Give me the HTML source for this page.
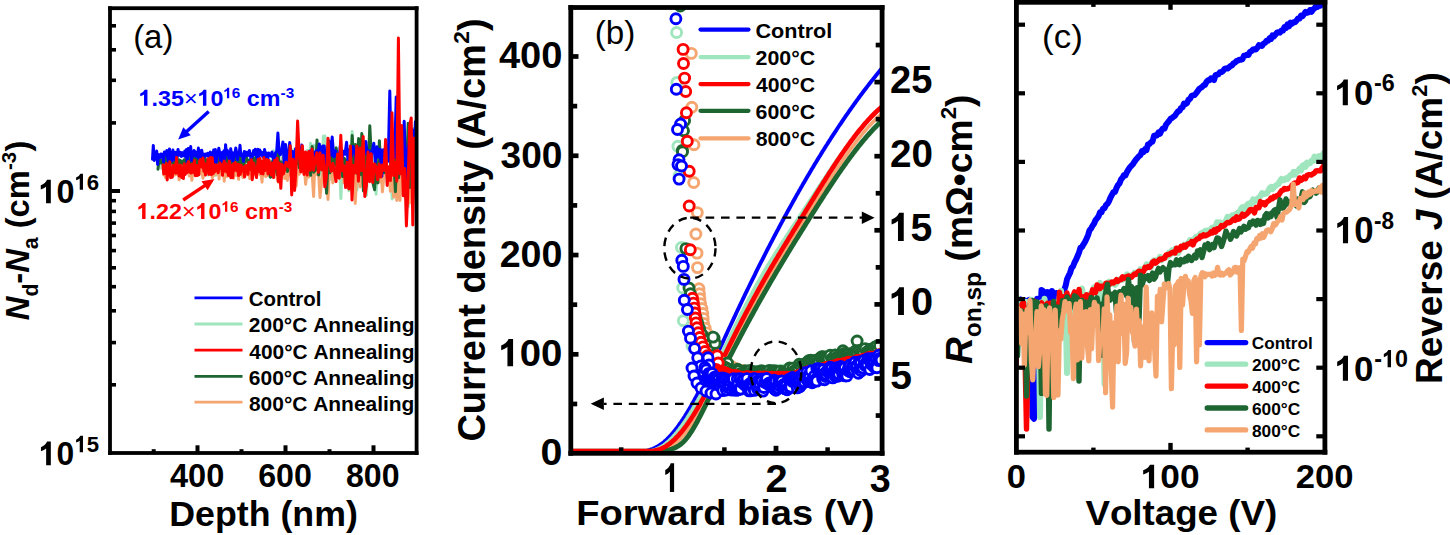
<!DOCTYPE html>
<html><head><meta charset="utf-8"><style>
html,body{margin:0;padding:0;background:#fff;overflow:hidden;}
svg{display:block;}
text{font-family:"Liberation Sans",sans-serif;font-kerning:none;}
</style></head><body>
<svg width="1450" height="535" viewBox="0 0 1450 535">
<rect width="1450" height="535" fill="#fff"/>
<clipPath id="clipA"><rect x="110.0" y="8.2" width="306.6" height="444.8"/></clipPath>
<g clip-path="url(#clipA)">
<polyline points="160.5,160.1 161.3,168.2 162.2,163.7 163.0,166.2 163.9,174.0 164.7,165.6 165.6,166.6 166.4,164.0 167.3,166.9 168.1,169.0 169.0,172.6 169.8,163.1 170.7,169.5 171.5,160.8 172.4,165.8 173.2,167.0 174.1,164.3 174.9,167.3 175.8,161.5 176.6,162.5 177.5,167.1 178.3,160.4 179.2,162.4 180.0,166.5 180.9,162.8 181.7,169.6 182.6,164.3 183.4,160.2 184.3,168.6 185.1,164.5 186.0,169.4 186.8,165.9 187.7,170.5 188.5,163.4 189.4,163.9 190.2,161.3 191.1,166.8 191.9,160.5 192.8,172.8 193.6,164.0 194.5,170.4 195.3,171.5 196.2,160.3 197.0,167.3 197.9,164.9 198.7,174.8 199.6,163.5 200.4,172.9 201.3,162.8 202.1,166.1 203.0,162.8 203.8,167.3 204.7,165.0 205.5,168.1 206.4,166.8 207.2,160.2 208.1,175.1 208.9,164.0 209.8,171.7 210.6,162.4 211.5,168.6 212.3,164.8 213.2,166.8 214.0,165.9 214.9,167.8 215.7,175.3 216.6,162.5 217.4,163.5 218.3,171.7 219.1,170.4 220.0,163.0 220.8,168.1 221.7,163.6 222.5,167.1 223.4,157.7 224.2,167.0 225.1,163.5 225.9,169.1 226.8,162.7 227.6,175.2 228.5,164.3 229.3,168.4 230.2,165.1 231.0,172.5 231.9,161.1 232.7,166.5 233.6,163.3 234.4,167.3 235.3,166.4 236.1,165.3 237.0,167.7 237.8,168.5 238.7,162.1 239.5,169.2 240.4,163.6 241.2,168.5 242.1,162.3 242.9,166.2 243.8,166.0 244.6,173.8 245.5,163.9 246.3,172.3 247.2,161.7 248.0,167.1 248.9,165.7 249.7,167.5 250.6,163.3 251.4,169.4 252.3,161.3 253.1,173.3 254.0,163.8 254.8,168.0 255.7,165.6 256.6,165.1 257.4,169.3 258.3,158.6 259.2,170.2 260.2,165.9 261.1,167.4 262.0,165.2 263.0,168.4 264.0,162.7 265.0,174.8 266.0,167.3 267.0,159.7 268.1,168.7 269.2,159.7 270.2,173.2 271.4,171.2 272.5,160.2 273.6,150.7 274.8,170.6 276.0,163.1 277.2,178.3 278.4,161.9 279.6,176.0 280.9,169.0 282.2,160.7 283.5,148.8 284.8,168.4 286.1,164.4 287.5,170.6 288.9,154.3 290.3,169.0 291.7,177.0 293.2,149.7 294.7,169.1 296.2,160.6 297.7,173.6 299.3,147.6 300.9,172.1 302.5,163.3 304.1,167.8 305.7,161.1 307.3,150.2 308.9,169.9 310.5,143.2 312.1,171.8 313.7,145.1 315.3,168.3 316.9,156.0 318.5,166.5 320.1,154.8 321.7,176.1 323.3,136.3 324.9,136.0 326.5,178.0 328.1,163.6 329.7,179.0 331.3,168.6 332.9,161.2 334.5,173.7 336.1,147.6 337.7,167.1 339.3,157.7 340.9,198.6 342.5,157.5 344.1,181.8 345.7,160.4 347.3,169.6 348.9,190.8 350.5,188.2 352.1,131.6 353.7,166.4 355.3,164.0 356.9,190.0 358.5,173.2 360.1,158.5 361.7,160.8 363.3,178.5 364.9,156.9 366.5,195.2 368.1,149.3 369.7,156.4 371.3,168.1 372.9,176.6 374.5,155.7 376.1,194.3 377.7,158.0 379.3,174.1 380.9,173.0 382.5,159.0 384.1,173.5 385.7,154.8 387.3,183.2 388.9,170.9 390.5,165.1 392.1,199.0 393.7,136.6 395.3,168.6 396.9,159.3 398.5,168.8 400.1,165.0 401.7,170.3 403.3,133.0 404.9,168.1 406.5,186.3 408.1,206.9 409.7,185.3 411.3,171.1 412.9,128.2 414.5,188.2 416.1,120.4 417.7,194.6" fill="none" stroke="#9fe5bd" stroke-width="3.0" stroke-linejoin="round" stroke-linecap="round" />
<polyline points="163.0,167.5 163.8,175.1 164.7,166.8 165.5,177.7 166.4,176.3 167.2,169.8 168.1,172.6 168.9,164.3 169.8,176.1 170.6,169.3 171.5,173.5 172.3,172.5 173.2,169.4 174.0,175.2 174.9,165.1 175.7,174.7 176.6,166.1 177.4,173.1 178.3,169.7 179.1,179.9 180.0,169.5 180.8,172.6 181.7,174.7 182.5,163.6 183.4,174.4 184.2,173.9 185.1,169.6 185.9,165.0 186.8,166.9 187.6,162.5 188.5,172.0 189.3,175.9 190.2,168.2 191.0,174.1 191.9,180.2 192.7,171.2 193.6,169.1 194.4,173.0 195.3,167.2 196.1,173.0 197.0,168.8 197.8,175.4 198.7,164.4 199.5,174.0 200.4,165.4 201.2,173.9 202.1,170.8 202.9,178.2 203.8,171.7 204.6,173.2 205.5,174.8 206.3,168.9 207.2,172.6 208.0,167.6 208.9,173.1 209.7,163.0 210.6,174.2 211.4,166.2 212.3,177.8 213.1,167.5 214.0,175.3 214.8,165.6 215.7,172.7 216.5,169.4 217.4,174.3 218.2,164.8 219.1,179.1 219.9,169.4 220.8,174.5 221.6,170.9 222.5,173.3 223.3,169.0 224.2,181.2 225.0,170.7 225.9,166.9 226.7,176.6 227.6,171.0 228.4,173.8 229.3,171.1 230.1,176.9 231.0,170.3 231.8,176.4 232.7,170.6 233.5,178.3 234.4,170.5 235.2,174.9 236.1,167.2 236.9,175.5 237.8,168.9 238.6,179.3 239.5,167.2 240.3,174.5 241.2,172.2 242.0,170.8 242.9,177.5 243.7,171.6 244.6,167.3 245.4,174.8 246.3,170.8 247.1,174.9 248.0,171.3 248.8,164.7 249.7,178.6 250.5,173.9 251.4,169.8 252.2,168.6 253.1,171.6 253.9,172.1 254.8,169.3 255.6,174.4 256.5,170.2 257.4,169.8 258.3,173.0 259.2,167.6 260.1,174.9 261.0,170.4 262.0,182.2 263.0,167.3 263.9,175.2 264.9,171.3 265.9,176.6 267.0,168.9 268.0,175.6 269.1,173.5 270.2,166.8 271.3,172.5 272.4,170.7 273.5,176.7 274.7,174.2 275.9,161.0 277.1,178.4 278.3,182.2 279.5,170.1 280.8,168.7 282.1,165.6 283.4,157.0 284.7,178.6 286.0,164.1 287.4,180.4 288.8,167.5 290.2,175.1 291.7,158.8 293.1,180.6 294.6,174.6 296.1,186.1 297.6,168.3 299.2,174.3 300.8,171.4 302.4,171.8 304.0,162.0 305.6,184.2 307.2,171.1 308.8,177.0 310.4,169.7 312.0,170.6 313.6,196.5 315.2,153.7 316.8,174.5 318.4,169.9 320.0,197.5 321.6,181.7 323.2,170.4 324.8,178.2 326.4,170.1 328.0,199.4 329.6,165.0 331.2,156.2 332.8,183.0 334.4,163.5 336.0,170.1 337.6,177.6 339.2,166.3 340.8,177.1 342.4,154.0 344.0,182.8 345.6,171.7 347.2,167.5 348.8,185.0 350.4,158.3 352.0,188.3 353.6,165.7 355.2,203.5 356.8,174.8 358.4,140.1 360.0,187.0 361.6,168.8 363.2,186.8 364.8,160.9 366.4,176.9 368.0,160.0 369.6,176.1 371.2,166.2 372.8,180.8 374.4,169.0 376.0,181.6 377.6,162.6 379.2,182.1 380.8,166.0 382.4,191.8 384.0,175.5 385.6,170.0 387.2,174.9 388.8,171.3 390.4,191.3 392.0,161.8 393.6,197.2 395.2,157.1 396.8,200.5 398.4,148.7 400.0,200.5 401.6,133.8 403.2,180.6 404.8,165.2 406.4,187.5 408.0,157.4 409.6,203.0 411.2,153.0 412.8,186.5 414.4,144.1 416.0,189.0 417.6,152.3" fill="none" stroke="#f5a56f" stroke-width="3.0" stroke-linejoin="round" stroke-linecap="round" />
<polyline points="158.0,169.2 158.8,161.3 159.7,159.6 160.5,161.1 161.4,163.2 162.2,159.7 163.1,163.7 163.9,162.8 164.8,154.3 165.6,161.8 166.5,162.6 167.3,155.3 168.2,166.5 169.0,165.7 169.9,159.7 170.7,161.8 171.6,158.0 172.4,163.4 173.3,157.7 174.1,165.6 175.0,155.6 175.8,164.5 176.7,157.2 177.5,163.7 178.4,161.9 179.2,160.0 180.1,163.0 180.9,160.9 181.8,161.5 182.6,163.5 183.5,162.3 184.3,159.7 185.2,163.2 186.0,158.7 186.9,163.7 187.7,158.9 188.6,164.5 189.4,165.5 190.3,154.2 191.1,163.7 192.0,161.3 192.8,158.4 193.7,162.6 194.5,155.0 195.4,164.1 196.2,164.8 197.1,156.6 197.9,167.1 198.8,160.9 199.6,165.3 200.5,159.6 201.3,166.0 202.2,160.4 203.0,166.8 203.9,166.6 204.7,157.7 205.6,168.5 206.4,160.1 207.3,164.2 208.1,160.5 209.0,165.2 209.8,163.7 210.7,156.0 211.5,164.9 212.4,152.8 213.2,164.2 214.1,161.0 214.9,159.8 215.8,169.2 216.6,157.6 217.5,161.8 218.3,157.5 219.2,162.8 220.0,159.6 220.9,162.1 221.7,160.9 222.6,157.0 223.4,163.1 224.3,160.8 225.1,162.7 226.0,164.3 226.8,152.8 227.7,161.4 228.5,162.7 229.4,153.9 230.2,160.0 231.1,169.1 231.9,156.4 232.8,159.3 233.6,161.0 234.5,156.8 235.3,164.6 236.2,152.8 237.0,158.3 237.9,161.9 238.7,152.8 239.6,163.1 240.4,162.2 241.3,154.0 242.1,165.1 243.0,155.8 243.8,169.2 244.7,156.0 245.5,161.3 246.4,156.2 247.2,161.6 248.1,160.1 248.9,167.7 249.8,159.9 250.6,164.8 251.5,160.1 252.3,163.0 253.2,157.3 254.0,164.5 254.9,159.6 255.7,165.3 256.6,152.2 257.5,165.0 258.4,160.2 259.3,164.9 260.2,165.1 261.1,162.7 262.1,163.7 263.1,162.3 264.1,165.1 265.1,167.9 266.1,161.0 267.1,167.3 268.2,164.7 269.2,162.6 270.3,177.2 271.4,176.4 272.5,161.4 273.7,173.2 274.8,160.9 276.0,154.3 277.2,174.7 278.4,150.3 279.7,180.5 280.9,162.1 282.2,173.7 283.5,171.8 284.9,149.7 286.2,162.9 287.6,171.4 289.0,160.9 290.4,164.3 291.8,162.4 293.3,172.1 294.8,153.8 296.3,163.9 297.8,152.5 299.4,167.9 301.0,157.9 302.6,163.2 304.2,162.4 305.8,162.7 307.4,167.6 309.0,163.4 310.6,175.3 312.2,146.6 313.8,172.2 315.4,170.1 317.0,139.9 318.6,174.9 320.2,147.8 321.8,164.6 323.4,157.3 325.0,167.7 326.6,193.3 328.2,158.0 329.8,172.8 331.4,151.7 333.0,170.4 334.6,164.6 336.2,148.1 337.8,160.8 339.4,169.7 341.0,157.9 342.6,176.6 344.2,158.3 345.8,160.4 347.4,167.8 349.0,160.0 350.6,171.0 352.2,135.6 353.8,164.7 355.4,144.6 357.0,173.4 358.6,138.5 360.2,174.7 361.8,133.6 363.4,190.9 365.0,166.7 366.6,154.2 368.2,168.4 369.8,125.7 371.4,158.3 373.0,183.1 374.6,189.7 376.2,162.8 377.8,183.0 379.4,140.8 381.0,171.0 382.6,151.1 384.2,172.7 385.8,150.9 387.4,149.5 389.0,150.2 390.6,164.1 392.2,154.8 393.8,158.4 395.4,191.7 397.0,150.9 398.6,177.7 400.2,144.3 401.8,149.8 403.4,167.7 405.0,142.6 406.6,165.5 408.2,123.3 409.8,187.5 411.4,135.3 413.0,178.9 414.6,147.4 416.2,199.5 417.8,119.9" fill="none" stroke="#1d6531" stroke-width="3.0" stroke-linejoin="round" stroke-linecap="round" />
<polyline points="152.5,159.2 153.3,145.4 154.2,160.4 155.0,152.7 155.9,158.8 156.7,151.1 157.6,164.5 158.4,154.4 159.3,156.4 160.1,157.7 161.0,154.0 161.8,156.5 162.7,154.2 163.5,162.1 164.4,151.9 165.2,154.8 166.1,154.5 166.9,150.4 167.8,158.5 168.6,161.8 169.5,148.9 170.3,159.6 171.2,152.4 172.0,161.0 172.9,150.1 173.7,153.9 174.6,159.5 175.4,152.3 176.3,161.4 177.1,156.7 178.0,149.4 178.8,153.5 179.7,155.2 180.5,152.4 181.4,156.4 182.2,152.6 183.1,155.6 183.9,155.8 184.8,151.0 185.6,157.1 186.5,149.4 187.3,163.3 188.2,148.6 189.0,153.5 189.9,155.0 190.7,146.6 191.6,160.6 192.4,152.3 193.3,154.6 194.1,150.4 195.0,155.9 195.8,152.1 196.7,154.0 197.5,157.1 198.4,148.1 199.2,159.0 200.1,150.8 200.9,158.7 201.8,150.3 202.6,158.5 203.5,157.6 204.3,154.1 205.2,156.2 206.0,154.1 206.9,155.7 207.7,153.3 208.6,156.2 209.4,153.8 210.3,152.0 211.1,162.5 212.0,153.9 212.8,155.7 213.7,150.0 214.5,161.5 215.4,149.5 216.2,162.4 217.1,152.5 217.9,155.2 218.8,148.3 219.6,152.4 220.5,162.3 221.3,161.9 222.2,152.6 223.0,155.4 223.9,150.7 224.7,160.2 225.6,144.7 226.4,154.7 227.3,150.2 228.1,153.6 229.0,158.2 229.8,161.7 230.7,148.7 231.5,154.3 232.4,152.6 233.2,161.0 234.1,155.4 234.9,153.0 235.8,147.9 236.6,152.5 237.5,159.8 238.3,152.9 239.2,154.2 240.0,145.3 240.9,155.5 241.7,155.7 242.6,154.3 243.4,161.3 244.3,151.5 245.1,156.4 246.0,152.2 246.8,155.3 247.7,152.2 248.5,155.4 249.4,150.4 250.2,154.1 251.1,159.5 251.9,153.9 252.8,156.1 253.6,150.5 254.5,154.6 255.3,149.2 256.2,150.2 257.1,158.1 258.0,149.3 258.9,157.2 259.8,150.0 260.7,154.8 261.6,152.1 262.6,156.5 263.6,157.2 264.6,149.5 265.6,159.7 266.6,152.9 267.7,159.3 268.7,152.9 269.8,155.2 270.9,156.2 272.0,152.0 273.1,157.5 274.3,162.7 275.5,152.9 276.7,151.4 277.9,133.0 279.1,152.4 280.4,154.7 281.6,150.3 282.9,141.9 284.2,163.2 285.6,144.4 286.9,163.9 288.3,155.9 289.7,142.6 291.1,155.5 292.6,151.5 294.1,167.2 295.6,148.7 297.1,155.3 298.7,152.8 300.2,159.8 301.8,145.1 303.4,164.6 305.0,159.7 306.6,157.1 308.2,153.7 309.8,151.1 311.4,157.0 313.0,152.0 314.6,155.2 316.2,150.8 317.8,154.2 319.4,144.0 321.0,163.5 322.6,146.1 324.2,146.0 325.8,163.9 327.4,151.5 329.0,141.1 330.6,155.6 332.2,137.0 333.8,157.0 335.4,150.8 337.0,155.6 338.6,165.3 340.2,146.5 341.8,159.8 343.4,151.2 345.0,154.3 346.6,142.3 348.2,163.6 349.8,149.6 351.4,156.6 353.0,146.6 354.6,149.8 356.2,161.9 357.8,147.9 359.4,165.5 361.0,155.6 362.6,152.0 364.2,153.6 365.8,141.5 367.4,154.7 369.0,150.7 370.6,157.1 372.2,152.2 373.8,143.2 375.4,162.2 377.0,146.8 378.6,157.1 380.2,149.2 381.8,176.3 383.4,149.7 385.0,167.0 386.6,147.2 388.2,161.2 389.8,91.0 391.4,168.4 393.0,136.6 394.6,157.6 396.2,97.0 397.8,162.8 399.4,151.6 401.0,160.3 402.6,156.3 404.2,121.2 405.8,180.5 407.4,151.8 409.0,144.1 410.6,153.1 412.2,129.5 413.8,158.9 415.4,121.8 417.0,130.8" fill="none" stroke="#0000ff" stroke-width="3.0" stroke-linejoin="round" stroke-linecap="round" />
<polyline points="163.0,164.9 163.8,173.9 164.7,166.2 165.5,173.3 166.4,163.6 167.2,180.0 168.1,166.2 168.9,170.1 169.8,161.7 170.6,177.8 171.5,168.1 172.3,177.2 173.2,165.4 174.0,172.2 174.9,164.8 175.7,173.3 176.6,157.4 177.4,172.8 178.3,166.7 179.1,175.9 180.0,165.0 180.8,165.5 181.7,177.6 182.5,168.2 183.4,178.6 184.2,163.7 185.1,174.6 185.9,171.4 186.8,172.8 187.6,163.9 188.5,161.6 189.3,171.9 190.2,168.4 191.0,173.0 191.9,164.2 192.7,167.4 193.6,172.4 194.4,160.4 195.3,175.7 196.1,165.4 197.0,175.6 197.8,165.6 198.7,174.8 199.5,161.7 200.4,159.6 201.2,164.9 202.1,167.1 202.9,157.9 203.8,171.2 204.6,163.6 205.5,175.1 206.3,166.6 207.2,171.2 208.0,158.7 208.9,174.4 209.7,171.3 210.6,157.4 211.4,174.7 212.3,157.8 213.1,173.5 214.0,164.5 214.8,171.8 215.7,170.4 216.5,165.1 217.4,167.5 218.2,172.8 219.1,168.0 219.9,163.0 220.8,165.7 221.6,165.3 222.5,175.3 223.3,166.3 224.2,161.1 225.0,171.1 225.9,163.7 226.7,172.0 227.6,166.8 228.4,175.4 229.3,160.9 230.1,171.3 231.0,177.7 231.8,165.2 232.7,177.6 233.5,163.9 234.4,170.3 235.2,162.6 236.1,166.5 236.9,170.7 237.8,164.2 238.6,175.6 239.5,164.7 240.3,174.3 241.2,165.3 242.0,170.7 242.9,167.2 243.7,171.1 244.6,177.0 245.4,165.7 246.3,169.1 247.1,165.4 248.0,174.3 248.8,162.6 249.7,167.1 250.5,169.2 251.4,159.8 252.2,179.8 253.1,173.6 253.9,163.1 254.8,170.8 255.6,169.9 256.5,177.5 257.4,167.5 258.3,159.2 259.2,171.5 260.1,158.5 261.0,173.5 262.0,161.5 263.0,174.0 263.9,157.6 264.9,170.4 265.9,169.7 267.0,159.6 268.0,174.0 269.1,160.5 270.2,168.1 271.3,175.1 272.4,163.0 273.5,177.6 274.7,160.3 275.9,168.0 277.1,158.3 278.3,181.4 279.5,163.3 280.8,188.3 282.1,164.5 283.4,173.9 284.7,170.0 286.0,162.2 287.4,164.9 288.8,167.1 290.2,145.7 291.7,195.0 293.1,159.2 294.6,190.5 296.1,165.8 297.6,121.0 299.2,154.3 300.8,171.8 302.4,145.8 304.0,174.4 305.6,151.9 307.2,175.1 308.8,151.5 310.4,170.3 312.0,149.1 313.6,170.2 315.2,159.8 316.8,152.8 318.4,172.3 320.0,152.8 321.6,169.9 323.2,155.3 324.8,186.8 326.4,176.9 328.0,138.2 329.6,164.0 331.2,171.2 332.8,163.3 334.4,170.8 336.0,181.6 337.6,154.0 339.2,178.2 340.8,135.3 342.4,170.9 344.0,165.9 345.6,187.6 347.2,162.3 348.8,189.0 350.4,145.9 352.0,200.0 353.6,165.6 355.2,172.7 356.8,146.1 358.4,181.3 360.0,147.9 361.6,170.4 363.2,136.5 364.8,196.4 366.4,185.9 368.0,151.9 369.6,181.7 371.2,153.8 372.8,182.4 374.4,164.0 376.0,166.9 377.6,179.8 379.2,163.9 380.8,177.1 382.4,164.9 384.0,170.4 385.6,139.5 387.2,185.4 388.8,166.7 390.4,180.6 392.0,112.7 393.6,175.6 395.2,162.6 396.8,181.2 398.4,38.0 400.0,173.9 401.6,125.4 403.2,195.8 404.8,168.4 406.4,226.0 408.0,187.6 409.6,126.0 411.2,118.0 412.8,225.0 414.4,138.0 416.0,180.2 417.6,139.6" fill="none" stroke="#ff0000" stroke-width="3.0" stroke-linejoin="round" stroke-linecap="round" />
</g>
<rect x="108.10" y="6.30" width="310.40" height="3.80" fill="#000"/>
<rect x="108.10" y="451.10" width="310.40" height="3.80" fill="#000"/>
<rect x="108.10" y="6.30" width="3.80" height="448.60" fill="#000"/>
<rect x="414.70" y="6.30" width="3.80" height="448.60" fill="#000"/>
<rect x="110.00" y="189.00" width="10.00" height="4.00" fill="#000"/>
<rect x="110.00" y="24.00" width="6.00" height="3.60" fill="#000"/>
<rect x="110.00" y="48.00" width="6.00" height="3.60" fill="#000"/>
<rect x="110.00" y="78.50" width="6.00" height="3.60" fill="#000"/>
<rect x="110.00" y="121.10" width="6.00" height="3.60" fill="#000"/>
<rect x="110.00" y="198.90" width="6.00" height="3.60" fill="#000"/>
<rect x="110.00" y="209.60" width="6.00" height="3.60" fill="#000"/>
<rect x="110.00" y="221.30" width="6.00" height="3.60" fill="#000"/>
<rect x="110.00" y="233.70" width="6.00" height="3.60" fill="#000"/>
<rect x="110.00" y="248.80" width="6.00" height="3.60" fill="#000"/>
<rect x="110.00" y="266.00" width="6.00" height="3.60" fill="#000"/>
<rect x="110.00" y="284.90" width="6.00" height="3.60" fill="#000"/>
<rect x="110.00" y="309.00" width="6.00" height="3.60" fill="#000"/>
<rect x="110.00" y="340.80" width="6.00" height="3.60" fill="#000"/>
<rect x="110.00" y="383.00" width="6.00" height="3.60" fill="#000"/>
<rect x="195.50" y="445.30" width="4.00" height="7.70" fill="#000"/>
<rect x="283.50" y="445.30" width="4.00" height="7.70" fill="#000"/>
<rect x="371.50" y="445.30" width="4.00" height="7.70" fill="#000"/>
<rect x="151.70" y="449.20" width="4.00" height="3.80" fill="#000"/>
<rect x="239.50" y="449.20" width="4.00" height="3.80" fill="#000"/>
<rect x="327.50" y="449.20" width="4.00" height="3.80" fill="#000"/>
<text transform="translate(38.49,203.37) scale(0.9800,1)" fill="#000" ><tspan x="18.37" y="0.00" font-size="33.10" font-weight="bold">0</tspan></text><g transform="translate(38.49,203.37) scale(0.9800,1)" fill="#000"><path transform="translate(0.00,0.00) scale(33.099)" d="M0.38,0 L0.38,-0.716 L0.262,-0.716 Q0.215,-0.60 0.07,-0.545 L0.07,-0.418 Q0.17,-0.452 0.233,-0.505 L0.233,0 Z"/></g>
<text transform="translate(74.56,189.77) scale(0.9842,1)" fill="#000" ><tspan x="12.51" y="0.00" font-size="22.54" font-weight="bold">6</tspan></text><g transform="translate(74.56,189.77) scale(0.9842,1)" fill="#000"><path transform="translate(0.00,0.00) scale(22.535)" d="M0.38,0 L0.38,-0.716 L0.262,-0.716 Q0.215,-0.60 0.07,-0.545 L0.07,-0.418 Q0.17,-0.452 0.233,-0.505 L0.233,0 Z"/></g>
<text transform="translate(38.73,465.17) scale(0.9620,1)" fill="#000" ><tspan x="18.37" y="0.00" font-size="33.10" font-weight="bold">0</tspan></text><g transform="translate(38.73,465.17) scale(0.9620,1)" fill="#000"><path transform="translate(0.00,0.00) scale(33.099)" d="M0.38,0 L0.38,-0.716 L0.262,-0.716 Q0.215,-0.60 0.07,-0.545 L0.07,-0.418 Q0.17,-0.452 0.233,-0.505 L0.233,0 Z"/></g>
<text transform="translate(74.56,452.17) scale(0.9694,1)" fill="#000" ><tspan x="12.69" y="0.00" font-size="22.86" font-weight="bold">5</tspan></text><g transform="translate(74.56,452.17) scale(0.9694,1)" fill="#000"><path transform="translate(0.00,0.00) scale(22.857)" d="M0.38,0 L0.38,-0.716 L0.262,-0.716 Q0.215,-0.60 0.07,-0.545 L0.07,-0.418 Q0.17,-0.452 0.233,-0.505 L0.233,0 Z"/></g>
<text transform="translate(170.01,487.47) scale(0.9875,1)" fill="#000" ><tspan x="0.00" y="0.00" font-size="32.96" font-weight="bold">400</tspan></text>
<text transform="translate(258.17,487.47) scale(0.9770,1)" fill="#000" ><tspan x="0.00" y="0.00" font-size="32.96" font-weight="bold">600</tspan></text>
<text transform="translate(345.94,487.47) scale(0.9740,1)" fill="#000" ><tspan x="0.00" y="0.00" font-size="32.96" font-weight="bold">800</tspan></text>
<text transform="translate(169.28,526.20) scale(1.0300,1)" fill="#000" ><tspan x="0.00" y="0.00" font-size="34.70" font-weight="bold">Depth (nm)</tspan></text>
<text transform="translate(133.13,47.71) scale(0.9894,1)" fill="#000" ><tspan x="0.00" y="0.00" font-size="33.26" >(a)</tspan></text>
<text transform="translate(29.40,320.15) rotate(-90) scale(0.9798,1)" fill="#000" ><tspan x="0.00" y="0.00" font-size="33.40" font-weight="bold" font-style="italic">N</tspan><tspan x="24.05" y="8.68" font-size="21.71" font-weight="bold">d</tspan><tspan x="37.24" y="0.00" font-size="33.40" font-weight="bold">-</tspan><tspan x="48.43" y="0.00" font-size="33.40" font-weight="bold" font-style="italic">N</tspan><tspan x="72.48" y="8.68" font-size="21.71" font-weight="bold">a</tspan><tspan x="84.50" y="0.00" font-size="33.40" font-weight="bold"> (cm</tspan><tspan x="153.31" y="-13.69" font-size="20.88" font-weight="bold">-3</tspan><tspan x="172.01" y="0.00" font-size="33.40" font-weight="bold">)</tspan></text>
<text transform="translate(138.59,105.68) scale(1.0409,1)" fill="#0000ff" ><tspan x="12.42" y="0.00" font-size="22.38" font-weight="bold">.35</tspan><tspan x="43.52" y="0.00" font-size="22.38" >×</tspan><tspan x="69.03" y="0.00" font-size="22.38" font-weight="bold">0</tspan><tspan x="89.61" y="-7.38" font-size="14.77" font-weight="bold">6</tspan><tspan x="97.78" y="0.00" font-size="22.38" font-weight="bold"> cm</tspan><tspan x="136.38" y="-7.38" font-size="14.77" font-weight="bold">-3</tspan></text><g transform="translate(138.59,105.68) scale(1.0409,1)" fill="#0000ff"><path transform="translate(0.00,0.00) scale(22.375)" d="M0.38,0 L0.38,-0.716 L0.262,-0.716 Q0.215,-0.60 0.07,-0.545 L0.07,-0.418 Q0.17,-0.452 0.233,-0.505 L0.233,0 Z"/><path transform="translate(56.61,0.00) scale(22.375)" d="M0.38,0 L0.38,-0.716 L0.262,-0.716 Q0.215,-0.60 0.07,-0.545 L0.07,-0.418 Q0.17,-0.452 0.233,-0.505 L0.233,0 Z"/><path transform="translate(81.45,-7.38) scale(14.768)" d="M0.38,0 L0.38,-0.716 L0.262,-0.716 Q0.215,-0.60 0.07,-0.545 L0.07,-0.418 Q0.17,-0.452 0.233,-0.505 L0.233,0 Z"/></g>
<text transform="translate(136.69,219.08) scale(1.0409,1)" fill="#ff0000" ><tspan x="12.42" y="0.00" font-size="22.38" font-weight="bold">.22</tspan><tspan x="43.52" y="0.00" font-size="22.38" >×</tspan><tspan x="69.03" y="0.00" font-size="22.38" font-weight="bold">0</tspan><tspan x="89.61" y="-7.38" font-size="14.77" font-weight="bold">6</tspan><tspan x="97.78" y="0.00" font-size="22.38" font-weight="bold"> cm</tspan><tspan x="136.38" y="-7.38" font-size="14.77" font-weight="bold">-3</tspan></text><g transform="translate(136.69,219.08) scale(1.0409,1)" fill="#ff0000"><path transform="translate(0.00,0.00) scale(22.375)" d="M0.38,0 L0.38,-0.716 L0.262,-0.716 Q0.215,-0.60 0.07,-0.545 L0.07,-0.418 Q0.17,-0.452 0.233,-0.505 L0.233,0 Z"/><path transform="translate(56.61,0.00) scale(22.375)" d="M0.38,0 L0.38,-0.716 L0.262,-0.716 Q0.215,-0.60 0.07,-0.545 L0.07,-0.418 Q0.17,-0.452 0.233,-0.505 L0.233,0 Z"/><path transform="translate(81.45,-7.38) scale(14.768)" d="M0.38,0 L0.38,-0.716 L0.262,-0.716 Q0.215,-0.60 0.07,-0.545 L0.07,-0.418 Q0.17,-0.452 0.233,-0.505 L0.233,0 Z"/></g>
<line x1="208.7" y1="111.4" x2="185.6" y2="132.6" stroke="#0000ff" stroke-width="3.4"/>
<polygon points="178.2,139.4 183.3,127.2 190.8,135.3" fill="#0000ff"/>
<line x1="183.2" y1="200.0" x2="206.2" y2="184.7" stroke="#ff0000" stroke-width="3.4"/>
<polygon points="214.5,179.1 207.6,190.3 201.5,181.2" fill="#ff0000"/>
<line x1="194.50" y1="297.80" x2="242.50" y2="297.80" stroke="#0000ff" stroke-width="2.8" />
<text transform="translate(248.78,306.20) scale(0.9792,1)" fill="#000" ><tspan x="0.00" y="0.00" font-size="20.90" font-weight="bold">Control</tspan></text>
<line x1="194.50" y1="324.00" x2="242.50" y2="324.00" stroke="#9fe5bd" stroke-width="2.8" />
<text transform="translate(248.87,332.40) scale(1.0030,1)" fill="#000" ><tspan x="0.00" y="0.00" font-size="20.90" font-weight="bold">200°C Annealing</tspan></text>
<line x1="194.50" y1="350.10" x2="242.50" y2="350.10" stroke="#ff0000" stroke-width="2.8" />
<text transform="translate(249.29,358.50) scale(1.0004,1)" fill="#000" ><tspan x="0.00" y="0.00" font-size="20.90" font-weight="bold">400°C Annealing</tspan></text>
<line x1="194.50" y1="376.30" x2="242.50" y2="376.30" stroke="#1d6531" stroke-width="2.8" />
<text transform="translate(248.87,384.70) scale(1.0030,1)" fill="#000" ><tspan x="0.00" y="0.00" font-size="20.90" font-weight="bold">600°C Annealing</tspan></text>
<line x1="194.50" y1="402.20" x2="242.50" y2="402.20" stroke="#f5a56f" stroke-width="2.8" />
<text transform="translate(248.97,410.60) scale(1.0023,1)" fill="#000" ><tspan x="0.00" y="0.00" font-size="20.90" font-weight="bold">800°C Annealing</tspan></text>
<clipPath id="clipB"><rect x="570.8" y="7.5" width="311.30000000000007" height="445.8"/></clipPath>
<g clip-path="url(#clipB)">
<polyline points="571.0,451.2 647.0,450.6 648.0,450.4 649.0,450.1 650.0,449.8 651.0,449.4 652.0,449.1 653.0,448.7 654.0,448.2 655.0,447.8 656.0,447.3 657.0,446.7 658.0,446.2 659.0,445.5 660.0,444.9 661.0,444.2 662.0,443.5 663.0,442.7 664.0,441.9 665.0,441.0 666.0,440.1 667.0,439.2 668.0,438.2 669.0,437.2 670.0,436.1 671.0,435.0 672.0,433.9 673.0,432.7 674.0,431.5 675.0,430.3 676.0,429.0 677.0,427.7 678.0,426.3 679.0,424.9 680.0,423.5 681.0,422.1 682.0,420.6 683.0,419.1 684.0,417.5 685.0,416.0 686.0,414.4 687.0,412.7 688.0,411.1 689.0,409.4 690.0,407.7 691.0,406.0 692.0,404.2 693.0,402.4 694.0,400.6 695.0,398.8 696.0,397.0 697.0,395.1 698.0,393.2 699.0,391.3 700.0,389.4 701.0,387.4 702.0,385.5 703.0,383.5 704.0,381.5 705.0,379.5 706.0,377.5 707.0,375.5 708.0,373.4 709.0,371.4 710.0,369.3 711.0,367.2 712.0,365.1 713.0,363.0 714.0,360.9 715.0,358.8 716.0,356.7 717.0,354.5 718.0,352.4 719.0,350.2 720.0,348.1 721.0,345.9 722.0,343.8 723.0,341.6 724.0,339.5 725.0,337.3 726.0,335.1 727.0,333.0 728.0,330.8 729.0,328.7 730.0,326.5 731.0,324.4 732.0,322.2 733.0,320.1 734.0,317.9 735.0,315.8 736.0,313.7 737.0,311.5 738.0,309.4 739.0,307.3 740.0,305.2 741.0,303.1 742.0,301.0 743.0,298.9 744.0,296.8 745.0,294.7 746.0,292.7 747.0,290.6 748.0,288.5 749.0,286.5 750.0,284.4 751.0,282.4 752.0,280.3 753.0,278.3 754.0,276.3 755.0,274.3 756.0,272.2 757.0,270.2 758.0,268.2 759.0,266.2 760.0,264.2 761.0,262.2 762.0,260.3 763.0,258.3 764.0,256.3 765.0,254.4 766.0,252.4 767.0,250.4 768.0,248.5 769.0,246.6 770.0,244.6 771.0,242.7 772.0,240.8 773.0,238.8 774.0,236.9 775.0,235.0 776.0,233.1 777.0,231.2 778.0,229.4 779.0,227.5 780.0,225.6 781.0,223.7 782.0,221.9 783.0,220.0 784.0,218.2 785.0,216.3 786.0,214.5 787.0,212.6 788.0,210.8 789.0,209.0 790.0,207.2 791.0,205.4 792.0,203.6 793.0,201.8 794.0,200.0 795.0,198.2 796.0,196.4 797.0,194.6 798.0,192.9 799.0,191.1 800.0,189.4 801.0,187.6 802.0,185.9 803.0,184.1 804.0,182.4 805.0,180.7 806.0,179.0 807.0,177.3 808.0,175.6 809.0,173.9 810.0,172.2 811.0,170.5 812.0,168.8 813.0,167.2 814.0,165.5 815.0,163.8 816.0,162.2 817.0,160.5 818.0,158.9 819.0,157.3 820.0,155.7 821.0,154.0 822.0,152.4 823.0,150.8 824.0,149.2 825.0,147.6 826.0,146.0 827.0,144.5 828.0,142.9 829.0,141.3 830.0,139.8 831.0,138.2 832.0,136.7 833.0,135.1 834.0,133.6 835.0,132.1 836.0,130.6 837.0,129.0 838.0,127.5 839.0,126.0 840.0,124.5 841.0,123.1 842.0,121.6 843.0,120.1 844.0,118.6 845.0,117.2 846.0,115.7 847.0,114.3 848.0,112.9 849.0,111.4 850.0,110.0 851.0,108.6 852.0,107.2 853.0,105.8 854.0,104.4 855.0,103.0 856.0,101.6 857.0,100.2 858.0,98.9 859.0,97.5 860.0,96.1 861.0,94.8 862.0,93.5 863.0,92.1 864.0,90.8 865.0,89.5 866.0,88.2 867.0,86.9 868.0,85.6 869.0,84.3 870.0,83.0 871.0,81.7 872.0,80.4 873.0,79.2 874.0,77.9 875.0,76.7 876.0,75.4 877.0,74.2 878.0,73.0 879.0,71.8 880.0,70.5 881.0,69.3" fill="none" stroke="#0000ff" stroke-width="3.9" stroke-linejoin="round" stroke-linecap="round" stroke-linecap="butt"/>
<polyline points="571.0,451.2 650.0,451.0 651.0,450.8 652.0,450.6 653.0,450.3 654.0,450.0 655.0,449.7 656.0,449.3 657.0,448.9 658.0,448.5 659.0,448.0 660.0,447.5 661.0,446.9 662.0,446.3 663.0,445.7 664.0,445.0 665.0,444.2 666.0,443.4 667.0,442.6 668.0,441.7 669.0,440.8 670.0,439.8 671.0,438.8 672.0,437.8 673.0,436.7 674.0,435.6 675.0,434.5 676.0,433.3 677.0,432.1 678.0,430.8 679.0,429.6 680.0,428.2 681.0,426.9 682.0,425.5 683.0,424.1 684.0,422.7 685.0,421.2 686.0,419.7 687.0,418.2 688.0,416.6 689.0,415.1 690.0,413.5 691.0,411.8 692.0,410.2 693.0,408.5 694.0,406.8 695.0,405.1 696.0,403.4 697.0,401.6 698.0,399.9 699.0,398.1 700.0,396.3 701.0,394.5 702.0,392.6 703.0,390.8 704.0,388.9 705.0,387.0 706.0,385.1 707.0,383.2 708.0,381.3 709.0,379.3 710.0,377.4 711.0,375.4 712.0,373.4 713.0,371.5 714.0,369.5 715.0,367.5 716.0,365.5 717.0,363.5 718.0,361.4 719.0,359.4 720.0,357.4 721.0,355.3 722.0,353.3 723.0,351.3 724.0,349.2 725.0,347.2 726.0,345.1 727.0,343.1 728.0,341.0 729.0,339.0 730.0,336.9 731.0,334.9 732.0,332.8 733.0,330.8 734.0,328.7 735.0,326.7 736.0,324.7 737.0,322.6 738.0,320.6 739.0,318.6 740.0,316.6 741.0,314.6 742.0,312.6 743.0,310.6 744.0,308.6 745.0,306.7 746.0,304.7 747.0,302.8 748.0,300.9 749.0,298.9 750.0,297.0 751.0,295.2 752.0,293.3 753.0,291.4 754.0,289.6 755.0,287.8 756.0,286.0 757.0,284.2 758.0,282.4 759.0,280.6 760.0,278.9 761.0,277.1 762.0,275.4 763.0,273.7 764.0,272.0 765.0,270.3 766.0,268.6 767.0,267.0 768.0,265.3 769.0,263.7 770.0,262.0 771.0,260.4 772.0,258.8 773.0,257.2 774.0,255.6 775.0,254.0 776.0,252.4 777.0,250.8 778.0,249.3 779.0,247.7 780.0,246.2 781.0,244.6 782.0,243.1 783.0,241.5 784.0,240.0 785.0,238.5 786.0,236.9 787.0,235.4 788.0,233.9 789.0,232.4 790.0,230.9 791.0,229.4 792.0,227.8 793.0,226.3 794.0,224.8 795.0,223.3 796.0,221.8 797.0,220.3 798.0,218.8 799.0,217.2 800.0,215.7 801.0,214.2 802.0,212.7 803.0,211.2 804.0,209.6 805.0,208.1 806.0,206.6 807.0,205.1 808.0,203.5 809.0,202.0 810.0,200.5 811.0,199.0 812.0,197.4 813.0,195.9 814.0,194.4 815.0,192.9 816.0,191.3 817.0,189.8 818.0,188.3 819.0,186.8 820.0,185.3 821.0,183.8 822.0,182.3 823.0,180.7 824.0,179.3 825.0,177.8 826.0,176.3 827.0,174.8 828.0,173.3 829.0,171.8 830.0,170.3 831.0,168.9 832.0,167.4 833.0,166.0 834.0,164.5 835.0,163.1 836.0,161.6 837.0,160.2 838.0,158.8 839.0,157.4 840.0,155.9 841.0,154.5 842.0,153.1 843.0,151.8 844.0,150.4 845.0,149.0 846.0,147.7 847.0,146.3 848.0,145.0 849.0,143.6 850.0,142.3 851.0,141.0 852.0,139.7 853.0,138.4 854.0,137.1 855.0,135.9 856.0,134.6 857.0,133.4 858.0,132.1 859.0,130.9 860.0,129.7 861.0,128.5 862.0,127.3 863.0,126.2 864.0,125.0 865.0,123.9 866.0,122.7 867.0,121.6 868.0,120.5 869.0,119.4 870.0,118.4 871.0,117.3 872.0,116.3 873.0,115.2 874.0,114.2 875.0,113.2 876.0,112.3 877.0,111.3 878.0,110.4 879.0,109.4 880.0,108.5 881.0,107.6" fill="none" stroke="#9fe5bd" stroke-width="3.8" stroke-linejoin="round" stroke-linecap="round" stroke-linecap="butt"/>
<polyline points="571.0,451.2 657.0,451.2 658.0,451.1 659.0,450.9 660.0,450.7 661.0,450.4 662.0,450.2 663.0,449.9 664.0,449.6 665.0,449.2 666.0,448.8 667.0,448.4 668.0,447.9 669.0,447.3 670.0,446.8 671.0,446.2 672.0,445.5 673.0,444.8 674.0,444.1 675.0,443.3 676.0,442.5 677.0,441.7 678.0,440.8 679.0,439.8 680.0,438.9 681.0,437.9 682.0,436.8 683.0,435.8 684.0,434.6 685.0,433.5 686.0,432.3 687.0,431.1 688.0,429.8 689.0,428.5 690.0,427.2 691.0,425.8 692.0,424.4 693.0,423.0 694.0,421.5 695.0,420.0 696.0,418.5 697.0,416.9 698.0,415.4 699.0,413.7 700.0,412.1 701.0,410.4 702.0,408.7 703.0,406.9 704.0,405.2 705.0,403.4 706.0,401.5 707.0,399.7 708.0,397.8 709.0,395.9 710.0,393.9 711.0,392.0 712.0,390.0 713.0,388.0 714.0,386.0 715.0,384.0 716.0,381.9 717.0,379.9 718.0,377.8 719.0,375.7 720.0,373.7 721.0,371.6 722.0,369.5 723.0,367.4 724.0,365.3 725.0,363.2 726.0,361.1 727.0,359.0 728.0,356.9 729.0,354.8 730.0,352.7 731.0,350.6 732.0,348.5 733.0,346.5 734.0,344.4 735.0,342.4 736.0,340.3 737.0,338.3 738.0,336.3 739.0,334.3 740.0,332.3 741.0,330.3 742.0,328.3 743.0,326.3 744.0,324.3 745.0,322.3 746.0,320.4 747.0,318.4 748.0,316.5 749.0,314.6 750.0,312.7 751.0,310.8 752.0,308.9 753.0,307.0 754.0,305.1 755.0,303.2 756.0,301.3 757.0,299.5 758.0,297.7 759.0,295.8 760.0,294.0 761.0,292.2 762.0,290.4 763.0,288.6 764.0,286.8 765.0,285.0 766.0,283.3 767.0,281.5 768.0,279.8 769.0,278.0 770.0,276.3 771.0,274.6 772.0,272.9 773.0,271.2 774.0,269.5 775.0,267.8 776.0,266.1 777.0,264.5 778.0,262.8 779.0,261.1 780.0,259.5 781.0,257.8 782.0,256.2 783.0,254.5 784.0,252.9 785.0,251.3 786.0,249.7 787.0,248.0 788.0,246.4 789.0,244.8 790.0,243.2 791.0,241.6 792.0,240.0 793.0,238.4 794.0,236.8 795.0,235.2 796.0,233.6 797.0,232.0 798.0,230.4 799.0,228.8 800.0,227.2 801.0,225.6 802.0,224.0 803.0,222.4 804.0,220.8 805.0,219.2 806.0,217.6 807.0,216.0 808.0,214.4 809.0,212.8 810.0,211.2 811.0,209.6 812.0,208.0 813.0,206.4 814.0,204.8 815.0,203.2 816.0,201.6 817.0,200.0 818.0,198.4 819.0,196.8 820.0,195.3 821.0,193.7 822.0,192.1 823.0,190.5 824.0,188.9 825.0,187.3 826.0,185.8 827.0,184.2 828.0,182.6 829.0,181.1 830.0,179.5 831.0,178.0 832.0,176.4 833.0,174.9 834.0,173.3 835.0,171.8 836.0,170.3 837.0,168.8 838.0,167.3 839.0,165.8 840.0,164.3 841.0,162.8 842.0,161.4 843.0,159.9 844.0,158.5 845.0,157.0 846.0,155.6 847.0,154.2 848.0,152.8 849.0,151.4 850.0,150.0 851.0,148.6 852.0,147.3 853.0,145.9 854.0,144.6 855.0,143.3 856.0,142.0 857.0,140.7 858.0,139.4 859.0,138.1 860.0,136.9 861.0,135.6 862.0,134.4 863.0,133.2 864.0,132.0 865.0,130.8 866.0,129.7 867.0,128.5 868.0,127.4 869.0,126.3 870.0,125.2 871.0,124.2 872.0,123.1 873.0,122.1 874.0,121.1 875.0,120.1 876.0,119.1 877.0,118.2 878.0,117.2 879.0,116.3 880.0,115.4 881.0,114.6" fill="none" stroke="#f5a56f" stroke-width="3.6" stroke-linejoin="round" stroke-linecap="round" stroke-linecap="butt"/>
<polyline points="571.0,451.2 662.0,451.2 663.0,451.1 664.0,451.0 665.0,450.9 666.0,450.7 667.0,450.5 668.0,450.3 669.0,450.0 670.0,449.7 671.0,449.4 672.0,449.0 673.0,448.6 674.0,448.2 675.0,447.8 676.0,447.3 677.0,446.7 678.0,446.1 679.0,445.5 680.0,444.8 681.0,444.0 682.0,443.2 683.0,442.3 684.0,441.3 685.0,440.2 686.0,439.1 687.0,437.8 688.0,436.5 689.0,435.2 690.0,433.7 691.0,432.2 692.0,430.6 693.0,429.0 694.0,427.3 695.0,425.6 696.0,423.8 697.0,422.0 698.0,420.1 699.0,418.2 700.0,416.3 701.0,414.3 702.0,412.3 703.0,410.3 704.0,408.3 705.0,406.3 706.0,404.2 707.0,402.2 708.0,400.2 709.0,398.1 710.0,396.1 711.0,394.1 712.0,392.0 713.0,390.0 714.0,388.0 715.0,386.0 716.0,384.0 717.0,382.0 718.0,380.0 719.0,378.0 720.0,376.0 721.0,374.1 722.0,372.1 723.0,370.1 724.0,368.1 725.0,366.2 726.0,364.2 727.0,362.3 728.0,360.3 729.0,358.4 730.0,356.4 731.0,354.5 732.0,352.6 733.0,350.6 734.0,348.7 735.0,346.8 736.0,344.9 737.0,343.0 738.0,341.1 739.0,339.2 740.0,337.3 741.0,335.4 742.0,333.5 743.0,331.6 744.0,329.8 745.0,327.9 746.0,326.0 747.0,324.2 748.0,322.3 749.0,320.5 750.0,318.6 751.0,316.8 752.0,315.0 753.0,313.2 754.0,311.3 755.0,309.5 756.0,307.7 757.0,305.9 758.0,304.1 759.0,302.3 760.0,300.5 761.0,298.8 762.0,297.0 763.0,295.2 764.0,293.5 765.0,291.7 766.0,290.0 767.0,288.2 768.0,286.5 769.0,284.8 770.0,283.0 771.0,281.3 772.0,279.6 773.0,277.9 774.0,276.2 775.0,274.5 776.0,272.8 777.0,271.1 778.0,269.4 779.0,267.7 780.0,266.1 781.0,264.4 782.0,262.7 783.0,261.1 784.0,259.4 785.0,257.7 786.0,256.1 787.0,254.5 788.0,252.8 789.0,251.2 790.0,249.5 791.0,247.9 792.0,246.3 793.0,244.7 794.0,243.0 795.0,241.4 796.0,239.8 797.0,238.2 798.0,236.6 799.0,235.0 800.0,233.4 801.0,231.8 802.0,230.2 803.0,228.6 804.0,227.0 805.0,225.4 806.0,223.8 807.0,222.2 808.0,220.6 809.0,219.0 810.0,217.5 811.0,215.9 812.0,214.3 813.0,212.7 814.0,211.1 815.0,209.6 816.0,208.0 817.0,206.4 818.0,204.9 819.0,203.3 820.0,201.7 821.0,200.2 822.0,198.6 823.0,197.1 824.0,195.5 825.0,194.0 826.0,192.5 827.0,190.9 828.0,189.4 829.0,187.9 830.0,186.4 831.0,184.9 832.0,183.4 833.0,181.9 834.0,180.4 835.0,178.9 836.0,177.4 837.0,175.9 838.0,174.5 839.0,173.0 840.0,171.6 841.0,170.1 842.0,168.7 843.0,167.3 844.0,165.9 845.0,164.5 846.0,163.1 847.0,161.7 848.0,160.3 849.0,158.9 850.0,157.6 851.0,156.2 852.0,154.9 853.0,153.6 854.0,152.2 855.0,150.9 856.0,149.6 857.0,148.4 858.0,147.1 859.0,145.8 860.0,144.6 861.0,143.4 862.0,142.1 863.0,140.9 864.0,139.7 865.0,138.6 866.0,137.4 867.0,136.2 868.0,135.1 869.0,134.0 870.0,132.9 871.0,131.8 872.0,130.7 873.0,129.6 874.0,128.6 875.0,127.6 876.0,126.5 877.0,125.5 878.0,124.6 879.0,123.6 880.0,122.6 881.0,121.7" fill="none" stroke="#1d6531" stroke-width="4.9" stroke-linejoin="round" stroke-linecap="round" stroke-linecap="butt"/>
<polyline points="571.0,451.2 652.0,451.2 653.0,451.0 654.0,450.8 655.0,450.6 656.0,450.4 657.0,450.1 658.0,449.9 659.0,449.5 660.0,449.2 661.0,448.8 662.0,448.3 663.0,447.8 664.0,447.3 665.0,446.8 666.0,446.2 667.0,445.5 668.0,444.8 669.0,444.1 670.0,443.4 671.0,442.5 672.0,441.7 673.0,440.8 674.0,439.9 675.0,439.0 676.0,438.0 677.0,436.9 678.0,435.9 679.0,434.8 680.0,433.6 681.0,432.4 682.0,431.2 683.0,430.0 684.0,428.7 685.0,427.4 686.0,426.1 687.0,424.7 688.0,423.3 689.0,421.8 690.0,420.4 691.0,418.9 692.0,417.3 693.0,415.8 694.0,414.2 695.0,412.6 696.0,410.9 697.0,409.2 698.0,407.5 699.0,405.8 700.0,404.0 701.0,402.2 702.0,400.4 703.0,398.6 704.0,396.7 705.0,394.8 706.0,392.9 707.0,391.0 708.0,389.1 709.0,387.1 710.0,385.2 711.0,383.2 712.0,381.2 713.0,379.2 714.0,377.1 715.0,375.1 716.0,373.1 717.0,371.0 718.0,369.0 719.0,366.9 720.0,364.9 721.0,362.8 722.0,360.7 723.0,358.7 724.0,356.6 725.0,354.6 726.0,352.5 727.0,350.5 728.0,348.4 729.0,346.4 730.0,344.4 731.0,342.4 732.0,340.4 733.0,338.3 734.0,336.4 735.0,334.4 736.0,332.4 737.0,330.4 738.0,328.4 739.0,326.5 740.0,324.5 741.0,322.6 742.0,320.6 743.0,318.7 744.0,316.8 745.0,314.8 746.0,312.9 747.0,311.0 748.0,309.1 749.0,307.3 750.0,305.4 751.0,303.5 752.0,301.6 753.0,299.8 754.0,298.0 755.0,296.1 756.0,294.3 757.0,292.5 758.0,290.7 759.0,288.9 760.0,287.1 761.0,285.3 762.0,283.5 763.0,281.8 764.0,280.0 765.0,278.3 766.0,276.5 767.0,274.8 768.0,273.1 769.0,271.4 770.0,269.7 771.0,268.0 772.0,266.3 773.0,264.6 774.0,262.9 775.0,261.2 776.0,259.5 777.0,257.9 778.0,256.2 779.0,254.5 780.0,252.9 781.0,251.2 782.0,249.6 783.0,247.9 784.0,246.3 785.0,244.7 786.0,243.0 787.0,241.4 788.0,239.8 789.0,238.1 790.0,236.5 791.0,234.9 792.0,233.3 793.0,231.6 794.0,230.0 795.0,228.4 796.0,226.8 797.0,225.2 798.0,223.5 799.0,221.9 800.0,220.3 801.0,218.7 802.0,217.1 803.0,215.4 804.0,213.8 805.0,212.2 806.0,210.5 807.0,208.9 808.0,207.3 809.0,205.7 810.0,204.0 811.0,202.4 812.0,200.8 813.0,199.2 814.0,197.5 815.0,195.9 816.0,194.3 817.0,192.7 818.0,191.1 819.0,189.5 820.0,187.9 821.0,186.2 822.0,184.7 823.0,183.1 824.0,181.5 825.0,179.9 826.0,178.3 827.0,176.7 828.0,175.2 829.0,173.6 830.0,172.0 831.0,170.5 832.0,168.9 833.0,167.4 834.0,165.9 835.0,164.3 836.0,162.8 837.0,161.3 838.0,159.8 839.0,158.3 840.0,156.9 841.0,155.4 842.0,153.9 843.0,152.5 844.0,151.0 845.0,149.6 846.0,148.2 847.0,146.8 848.0,145.4 849.0,144.0 850.0,142.6 851.0,141.2 852.0,139.9 853.0,138.6 854.0,137.2 855.0,135.9 856.0,134.6 857.0,133.3 858.0,132.1 859.0,130.8 860.0,129.6 861.0,128.4 862.0,127.2 863.0,126.0 864.0,124.8 865.0,123.6 866.0,122.5 867.0,121.4 868.0,120.2 869.0,119.2 870.0,118.1 871.0,117.0 872.0,116.0 873.0,115.0 874.0,114.0 875.0,113.0 876.0,112.0 877.0,111.1 878.0,110.2 879.0,109.3 880.0,108.4 881.0,107.5" fill="none" stroke="#ff0000" stroke-width="4.7" stroke-linejoin="round" stroke-linecap="round" stroke-linecap="butt"/>
<circle cx="676.6" cy="32.5" r="5.0" fill="#fff" stroke="#9fe5bd" stroke-width="2.9"/>
<circle cx="676.8" cy="82.5" r="5.0" fill="#fff" stroke="#9fe5bd" stroke-width="2.9"/>
<circle cx="677.9" cy="146.3" r="5.0" fill="#fff" stroke="#9fe5bd" stroke-width="2.9"/>
<circle cx="679.1" cy="175.8" r="5.0" fill="#fff" stroke="#9fe5bd" stroke-width="2.9"/>
<circle cx="681.4" cy="247.5" r="5.0" fill="#fff" stroke="#9fe5bd" stroke-width="2.9"/>
<circle cx="682.7" cy="288.0" r="5.0" fill="#fff" stroke="#9fe5bd" stroke-width="2.9"/>
<circle cx="683.3" cy="320.8" r="5.0" fill="#fff" stroke="#9fe5bd" stroke-width="2.9"/>
<circle cx="692.0" cy="346.0" r="5.0" fill="#fff" stroke="#9fe5bd" stroke-width="2.9"/>
<circle cx="702.0" cy="360.0" r="5.0" fill="#fff" stroke="#9fe5bd" stroke-width="2.9"/>
<circle cx="708.6" cy="336.6" r="5.0" fill="#fff" stroke="#9fe5bd" stroke-width="2.9"/>
<circle cx="710.0" cy="336.0" r="5.0" fill="#fff" stroke="#9fe5bd" stroke-width="2.9"/>
<circle cx="711.9" cy="367.6" r="5.0" fill="#fff" stroke="#9fe5bd" stroke-width="2.9"/>
<circle cx="713.1" cy="368.3" r="5.0" fill="#fff" stroke="#9fe5bd" stroke-width="2.9"/>
<circle cx="714.1" cy="368.8" r="5.0" fill="#fff" stroke="#9fe5bd" stroke-width="2.9"/>
<circle cx="715.4" cy="367.1" r="5.0" fill="#fff" stroke="#9fe5bd" stroke-width="2.9"/>
<circle cx="716.3" cy="370.3" r="5.0" fill="#fff" stroke="#9fe5bd" stroke-width="2.9"/>
<circle cx="717.3" cy="368.8" r="5.0" fill="#fff" stroke="#9fe5bd" stroke-width="2.9"/>
<circle cx="718.5" cy="367.5" r="5.0" fill="#fff" stroke="#9fe5bd" stroke-width="2.9"/>
<circle cx="719.5" cy="370.0" r="5.0" fill="#fff" stroke="#9fe5bd" stroke-width="2.9"/>
<circle cx="719.9" cy="369.2" r="5.0" fill="#fff" stroke="#9fe5bd" stroke-width="2.9"/>
<circle cx="721.2" cy="368.8" r="5.0" fill="#fff" stroke="#9fe5bd" stroke-width="2.9"/>
<circle cx="722.4" cy="370.0" r="5.0" fill="#fff" stroke="#9fe5bd" stroke-width="2.9"/>
<circle cx="723.5" cy="370.0" r="5.0" fill="#fff" stroke="#9fe5bd" stroke-width="2.9"/>
<circle cx="724.0" cy="371.5" r="5.0" fill="#fff" stroke="#9fe5bd" stroke-width="2.9"/>
<circle cx="725.6" cy="369.2" r="5.0" fill="#fff" stroke="#9fe5bd" stroke-width="2.9"/>
<circle cx="726.4" cy="370.8" r="5.0" fill="#fff" stroke="#9fe5bd" stroke-width="2.9"/>
<circle cx="727.8" cy="371.6" r="5.0" fill="#fff" stroke="#9fe5bd" stroke-width="2.9"/>
<circle cx="728.3" cy="372.9" r="5.0" fill="#fff" stroke="#9fe5bd" stroke-width="2.9"/>
<circle cx="729.4" cy="372.4" r="5.0" fill="#fff" stroke="#9fe5bd" stroke-width="2.9"/>
<circle cx="730.3" cy="370.6" r="5.0" fill="#fff" stroke="#9fe5bd" stroke-width="2.9"/>
<circle cx="731.3" cy="373.1" r="5.0" fill="#fff" stroke="#9fe5bd" stroke-width="2.9"/>
<circle cx="732.4" cy="371.1" r="5.0" fill="#fff" stroke="#9fe5bd" stroke-width="2.9"/>
<circle cx="733.4" cy="373.4" r="5.0" fill="#fff" stroke="#9fe5bd" stroke-width="2.9"/>
<circle cx="734.7" cy="371.1" r="5.0" fill="#fff" stroke="#9fe5bd" stroke-width="2.9"/>
<circle cx="736.0" cy="373.7" r="5.0" fill="#fff" stroke="#9fe5bd" stroke-width="2.9"/>
<circle cx="736.6" cy="371.9" r="5.0" fill="#fff" stroke="#9fe5bd" stroke-width="2.9"/>
<circle cx="737.4" cy="371.1" r="5.0" fill="#fff" stroke="#9fe5bd" stroke-width="2.9"/>
<circle cx="739.0" cy="374.1" r="5.0" fill="#fff" stroke="#9fe5bd" stroke-width="2.9"/>
<circle cx="740.0" cy="371.9" r="5.0" fill="#fff" stroke="#9fe5bd" stroke-width="2.9"/>
<circle cx="741.1" cy="372.0" r="5.0" fill="#fff" stroke="#9fe5bd" stroke-width="2.9"/>
<circle cx="741.7" cy="373.8" r="5.0" fill="#fff" stroke="#9fe5bd" stroke-width="2.9"/>
<circle cx="742.7" cy="374.4" r="5.0" fill="#fff" stroke="#9fe5bd" stroke-width="2.9"/>
<circle cx="743.8" cy="374.7" r="5.0" fill="#fff" stroke="#9fe5bd" stroke-width="2.9"/>
<circle cx="745.2" cy="373.8" r="5.0" fill="#fff" stroke="#9fe5bd" stroke-width="2.9"/>
<circle cx="746.3" cy="374.0" r="5.0" fill="#fff" stroke="#9fe5bd" stroke-width="2.9"/>
<circle cx="746.9" cy="372.7" r="5.0" fill="#fff" stroke="#9fe5bd" stroke-width="2.9"/>
<circle cx="748.3" cy="372.2" r="5.0" fill="#fff" stroke="#9fe5bd" stroke-width="2.9"/>
<circle cx="749.3" cy="373.9" r="5.0" fill="#fff" stroke="#9fe5bd" stroke-width="2.9"/>
<circle cx="749.7" cy="372.6" r="5.0" fill="#fff" stroke="#9fe5bd" stroke-width="2.9"/>
<circle cx="751.1" cy="372.7" r="5.0" fill="#fff" stroke="#9fe5bd" stroke-width="2.9"/>
<circle cx="752.3" cy="374.8" r="5.0" fill="#fff" stroke="#9fe5bd" stroke-width="2.9"/>
<circle cx="753.6" cy="375.5" r="5.0" fill="#fff" stroke="#9fe5bd" stroke-width="2.9"/>
<circle cx="754.3" cy="374.6" r="5.0" fill="#fff" stroke="#9fe5bd" stroke-width="2.9"/>
<circle cx="755.4" cy="372.4" r="5.0" fill="#fff" stroke="#9fe5bd" stroke-width="2.9"/>
<circle cx="756.0" cy="375.5" r="5.0" fill="#fff" stroke="#9fe5bd" stroke-width="2.9"/>
<circle cx="757.6" cy="373.8" r="5.0" fill="#fff" stroke="#9fe5bd" stroke-width="2.9"/>
<circle cx="758.1" cy="372.4" r="5.0" fill="#fff" stroke="#9fe5bd" stroke-width="2.9"/>
<circle cx="759.6" cy="373.2" r="5.0" fill="#fff" stroke="#9fe5bd" stroke-width="2.9"/>
<circle cx="760.5" cy="373.6" r="5.0" fill="#fff" stroke="#9fe5bd" stroke-width="2.9"/>
<circle cx="761.4" cy="373.7" r="5.0" fill="#fff" stroke="#9fe5bd" stroke-width="2.9"/>
<circle cx="762.3" cy="374.4" r="5.0" fill="#fff" stroke="#9fe5bd" stroke-width="2.9"/>
<circle cx="763.5" cy="372.5" r="5.0" fill="#fff" stroke="#9fe5bd" stroke-width="2.9"/>
<circle cx="764.7" cy="375.2" r="5.0" fill="#fff" stroke="#9fe5bd" stroke-width="2.9"/>
<circle cx="765.6" cy="374.7" r="5.0" fill="#fff" stroke="#9fe5bd" stroke-width="2.9"/>
<circle cx="766.7" cy="374.2" r="5.0" fill="#fff" stroke="#9fe5bd" stroke-width="2.9"/>
<circle cx="767.4" cy="373.4" r="5.0" fill="#fff" stroke="#9fe5bd" stroke-width="2.9"/>
<circle cx="768.5" cy="373.2" r="5.0" fill="#fff" stroke="#9fe5bd" stroke-width="2.9"/>
<circle cx="769.6" cy="373.0" r="5.0" fill="#fff" stroke="#9fe5bd" stroke-width="2.9"/>
<circle cx="770.4" cy="372.7" r="5.0" fill="#fff" stroke="#9fe5bd" stroke-width="2.9"/>
<circle cx="771.9" cy="373.0" r="5.0" fill="#fff" stroke="#9fe5bd" stroke-width="2.9"/>
<circle cx="773.0" cy="374.9" r="5.0" fill="#fff" stroke="#9fe5bd" stroke-width="2.9"/>
<circle cx="773.7" cy="372.9" r="5.0" fill="#fff" stroke="#9fe5bd" stroke-width="2.9"/>
<circle cx="774.6" cy="371.7" r="5.0" fill="#fff" stroke="#9fe5bd" stroke-width="2.9"/>
<circle cx="775.9" cy="374.6" r="5.0" fill="#fff" stroke="#9fe5bd" stroke-width="2.9"/>
<circle cx="777.1" cy="372.7" r="5.0" fill="#fff" stroke="#9fe5bd" stroke-width="2.9"/>
<circle cx="777.9" cy="372.7" r="5.0" fill="#fff" stroke="#9fe5bd" stroke-width="2.9"/>
<circle cx="779.0" cy="370.8" r="5.0" fill="#fff" stroke="#9fe5bd" stroke-width="2.9"/>
<circle cx="780.0" cy="371.6" r="5.0" fill="#fff" stroke="#9fe5bd" stroke-width="2.9"/>
<circle cx="780.7" cy="370.8" r="5.0" fill="#fff" stroke="#9fe5bd" stroke-width="2.9"/>
<circle cx="782.4" cy="373.8" r="5.0" fill="#fff" stroke="#9fe5bd" stroke-width="2.9"/>
<circle cx="783.2" cy="370.3" r="5.0" fill="#fff" stroke="#9fe5bd" stroke-width="2.9"/>
<circle cx="784.0" cy="372.6" r="5.0" fill="#fff" stroke="#9fe5bd" stroke-width="2.9"/>
<circle cx="784.8" cy="372.3" r="5.0" fill="#fff" stroke="#9fe5bd" stroke-width="2.9"/>
<circle cx="785.9" cy="373.5" r="5.0" fill="#fff" stroke="#9fe5bd" stroke-width="2.9"/>
<circle cx="787.1" cy="370.1" r="5.0" fill="#fff" stroke="#9fe5bd" stroke-width="2.9"/>
<circle cx="787.8" cy="370.2" r="5.0" fill="#fff" stroke="#9fe5bd" stroke-width="2.9"/>
<circle cx="789.4" cy="369.9" r="5.0" fill="#fff" stroke="#9fe5bd" stroke-width="2.9"/>
<circle cx="790.2" cy="370.5" r="5.0" fill="#fff" stroke="#9fe5bd" stroke-width="2.9"/>
<circle cx="791.7" cy="372.6" r="5.0" fill="#fff" stroke="#9fe5bd" stroke-width="2.9"/>
<circle cx="792.2" cy="370.3" r="5.0" fill="#fff" stroke="#9fe5bd" stroke-width="2.9"/>
<circle cx="793.4" cy="372.4" r="5.0" fill="#fff" stroke="#9fe5bd" stroke-width="2.9"/>
<circle cx="794.7" cy="369.1" r="5.0" fill="#fff" stroke="#9fe5bd" stroke-width="2.9"/>
<circle cx="795.7" cy="371.4" r="5.0" fill="#fff" stroke="#9fe5bd" stroke-width="2.9"/>
<circle cx="796.6" cy="371.0" r="5.0" fill="#fff" stroke="#9fe5bd" stroke-width="2.9"/>
<circle cx="797.5" cy="370.7" r="5.0" fill="#fff" stroke="#9fe5bd" stroke-width="2.9"/>
<circle cx="798.6" cy="370.2" r="5.0" fill="#fff" stroke="#9fe5bd" stroke-width="2.9"/>
<circle cx="799.7" cy="370.3" r="5.0" fill="#fff" stroke="#9fe5bd" stroke-width="2.9"/>
<circle cx="800.3" cy="369.2" r="5.0" fill="#fff" stroke="#9fe5bd" stroke-width="2.9"/>
<circle cx="801.8" cy="368.6" r="5.0" fill="#fff" stroke="#9fe5bd" stroke-width="2.9"/>
<circle cx="802.5" cy="368.7" r="5.0" fill="#fff" stroke="#9fe5bd" stroke-width="2.9"/>
<circle cx="803.3" cy="368.9" r="5.0" fill="#fff" stroke="#9fe5bd" stroke-width="2.9"/>
<circle cx="805.0" cy="367.9" r="5.0" fill="#fff" stroke="#9fe5bd" stroke-width="2.9"/>
<circle cx="806.1" cy="368.1" r="5.0" fill="#fff" stroke="#9fe5bd" stroke-width="2.9"/>
<circle cx="806.6" cy="366.9" r="5.0" fill="#fff" stroke="#9fe5bd" stroke-width="2.9"/>
<circle cx="807.5" cy="366.9" r="5.0" fill="#fff" stroke="#9fe5bd" stroke-width="2.9"/>
<circle cx="808.7" cy="369.0" r="5.0" fill="#fff" stroke="#9fe5bd" stroke-width="2.9"/>
<circle cx="809.7" cy="367.2" r="5.0" fill="#fff" stroke="#9fe5bd" stroke-width="2.9"/>
<circle cx="810.5" cy="367.7" r="5.0" fill="#fff" stroke="#9fe5bd" stroke-width="2.9"/>
<circle cx="811.5" cy="365.8" r="5.0" fill="#fff" stroke="#9fe5bd" stroke-width="2.9"/>
<circle cx="813.2" cy="368.8" r="5.0" fill="#fff" stroke="#9fe5bd" stroke-width="2.9"/>
<circle cx="813.8" cy="367.6" r="5.0" fill="#fff" stroke="#9fe5bd" stroke-width="2.9"/>
<circle cx="814.7" cy="368.7" r="5.0" fill="#fff" stroke="#9fe5bd" stroke-width="2.9"/>
<circle cx="816.3" cy="367.9" r="5.0" fill="#fff" stroke="#9fe5bd" stroke-width="2.9"/>
<circle cx="816.9" cy="367.2" r="5.0" fill="#fff" stroke="#9fe5bd" stroke-width="2.9"/>
<circle cx="818.2" cy="368.5" r="5.0" fill="#fff" stroke="#9fe5bd" stroke-width="2.9"/>
<circle cx="818.8" cy="368.2" r="5.0" fill="#fff" stroke="#9fe5bd" stroke-width="2.9"/>
<circle cx="820.1" cy="367.1" r="5.0" fill="#fff" stroke="#9fe5bd" stroke-width="2.9"/>
<circle cx="820.9" cy="365.7" r="5.0" fill="#fff" stroke="#9fe5bd" stroke-width="2.9"/>
<circle cx="822.1" cy="367.9" r="5.0" fill="#fff" stroke="#9fe5bd" stroke-width="2.9"/>
<circle cx="822.9" cy="364.7" r="5.0" fill="#fff" stroke="#9fe5bd" stroke-width="2.9"/>
<circle cx="824.6" cy="367.1" r="5.0" fill="#fff" stroke="#9fe5bd" stroke-width="2.9"/>
<circle cx="825.0" cy="367.2" r="5.0" fill="#fff" stroke="#9fe5bd" stroke-width="2.9"/>
<circle cx="826.4" cy="366.6" r="5.0" fill="#fff" stroke="#9fe5bd" stroke-width="2.9"/>
<circle cx="827.7" cy="366.3" r="5.0" fill="#fff" stroke="#9fe5bd" stroke-width="2.9"/>
<circle cx="828.4" cy="363.1" r="5.0" fill="#fff" stroke="#9fe5bd" stroke-width="2.9"/>
<circle cx="829.1" cy="365.2" r="5.0" fill="#fff" stroke="#9fe5bd" stroke-width="2.9"/>
<circle cx="830.5" cy="363.3" r="5.0" fill="#fff" stroke="#9fe5bd" stroke-width="2.9"/>
<circle cx="831.1" cy="362.9" r="5.0" fill="#fff" stroke="#9fe5bd" stroke-width="2.9"/>
<circle cx="832.5" cy="362.8" r="5.0" fill="#fff" stroke="#9fe5bd" stroke-width="2.9"/>
<circle cx="833.6" cy="364.3" r="5.0" fill="#fff" stroke="#9fe5bd" stroke-width="2.9"/>
<circle cx="834.3" cy="364.9" r="5.0" fill="#fff" stroke="#9fe5bd" stroke-width="2.9"/>
<circle cx="835.9" cy="364.9" r="5.0" fill="#fff" stroke="#9fe5bd" stroke-width="2.9"/>
<circle cx="837.0" cy="363.5" r="5.0" fill="#fff" stroke="#9fe5bd" stroke-width="2.9"/>
<circle cx="837.4" cy="364.1" r="5.0" fill="#fff" stroke="#9fe5bd" stroke-width="2.9"/>
<circle cx="839.1" cy="361.7" r="5.0" fill="#fff" stroke="#9fe5bd" stroke-width="2.9"/>
<circle cx="839.9" cy="361.4" r="5.0" fill="#fff" stroke="#9fe5bd" stroke-width="2.9"/>
<circle cx="841.1" cy="363.1" r="5.0" fill="#fff" stroke="#9fe5bd" stroke-width="2.9"/>
<circle cx="841.5" cy="362.4" r="5.0" fill="#fff" stroke="#9fe5bd" stroke-width="2.9"/>
<circle cx="843.1" cy="363.4" r="5.0" fill="#fff" stroke="#9fe5bd" stroke-width="2.9"/>
<circle cx="844.2" cy="362.0" r="5.0" fill="#fff" stroke="#9fe5bd" stroke-width="2.9"/>
<circle cx="844.7" cy="361.6" r="5.0" fill="#fff" stroke="#9fe5bd" stroke-width="2.9"/>
<circle cx="845.6" cy="360.9" r="5.0" fill="#fff" stroke="#9fe5bd" stroke-width="2.9"/>
<circle cx="846.7" cy="359.4" r="5.0" fill="#fff" stroke="#9fe5bd" stroke-width="2.9"/>
<circle cx="848.0" cy="362.3" r="5.0" fill="#fff" stroke="#9fe5bd" stroke-width="2.9"/>
<circle cx="849.0" cy="358.7" r="5.0" fill="#fff" stroke="#9fe5bd" stroke-width="2.9"/>
<circle cx="850.1" cy="360.3" r="5.0" fill="#fff" stroke="#9fe5bd" stroke-width="2.9"/>
<circle cx="851.1" cy="359.9" r="5.0" fill="#fff" stroke="#9fe5bd" stroke-width="2.9"/>
<circle cx="852.2" cy="358.0" r="5.0" fill="#fff" stroke="#9fe5bd" stroke-width="2.9"/>
<circle cx="853.4" cy="358.5" r="5.0" fill="#fff" stroke="#9fe5bd" stroke-width="2.9"/>
<circle cx="854.3" cy="358.9" r="5.0" fill="#fff" stroke="#9fe5bd" stroke-width="2.9"/>
<circle cx="855.5" cy="357.1" r="5.0" fill="#fff" stroke="#9fe5bd" stroke-width="2.9"/>
<circle cx="856.5" cy="360.5" r="5.0" fill="#fff" stroke="#9fe5bd" stroke-width="2.9"/>
<circle cx="857.0" cy="359.0" r="5.0" fill="#fff" stroke="#9fe5bd" stroke-width="2.9"/>
<circle cx="857.9" cy="356.1" r="5.0" fill="#fff" stroke="#9fe5bd" stroke-width="2.9"/>
<circle cx="859.3" cy="358.3" r="5.0" fill="#fff" stroke="#9fe5bd" stroke-width="2.9"/>
<circle cx="860.0" cy="355.6" r="5.0" fill="#fff" stroke="#9fe5bd" stroke-width="2.9"/>
<circle cx="861.3" cy="358.9" r="5.0" fill="#fff" stroke="#9fe5bd" stroke-width="2.9"/>
<circle cx="862.5" cy="355.5" r="5.0" fill="#fff" stroke="#9fe5bd" stroke-width="2.9"/>
<circle cx="863.3" cy="354.7" r="5.0" fill="#fff" stroke="#9fe5bd" stroke-width="2.9"/>
<circle cx="864.6" cy="355.1" r="5.0" fill="#fff" stroke="#9fe5bd" stroke-width="2.9"/>
<circle cx="865.1" cy="355.0" r="5.0" fill="#fff" stroke="#9fe5bd" stroke-width="2.9"/>
<circle cx="866.2" cy="357.0" r="5.0" fill="#fff" stroke="#9fe5bd" stroke-width="2.9"/>
<circle cx="867.3" cy="356.1" r="5.0" fill="#fff" stroke="#9fe5bd" stroke-width="2.9"/>
<circle cx="868.4" cy="353.6" r="5.0" fill="#fff" stroke="#9fe5bd" stroke-width="2.9"/>
<circle cx="869.5" cy="354.9" r="5.0" fill="#fff" stroke="#9fe5bd" stroke-width="2.9"/>
<circle cx="870.7" cy="356.2" r="5.0" fill="#fff" stroke="#9fe5bd" stroke-width="2.9"/>
<circle cx="871.6" cy="353.7" r="5.0" fill="#fff" stroke="#9fe5bd" stroke-width="2.9"/>
<circle cx="872.9" cy="352.7" r="5.0" fill="#fff" stroke="#9fe5bd" stroke-width="2.9"/>
<circle cx="873.4" cy="352.7" r="5.0" fill="#fff" stroke="#9fe5bd" stroke-width="2.9"/>
<circle cx="874.6" cy="354.7" r="5.0" fill="#fff" stroke="#9fe5bd" stroke-width="2.9"/>
<circle cx="875.9" cy="353.6" r="5.0" fill="#fff" stroke="#9fe5bd" stroke-width="2.9"/>
<circle cx="876.5" cy="351.6" r="5.0" fill="#fff" stroke="#9fe5bd" stroke-width="2.9"/>
<circle cx="877.7" cy="350.6" r="5.0" fill="#fff" stroke="#9fe5bd" stroke-width="2.9"/>
<circle cx="878.5" cy="353.8" r="5.0" fill="#fff" stroke="#9fe5bd" stroke-width="2.9"/>
<circle cx="879.8" cy="353.2" r="5.0" fill="#fff" stroke="#9fe5bd" stroke-width="2.9"/>
<circle cx="881.0" cy="351.2" r="5.0" fill="#fff" stroke="#9fe5bd" stroke-width="2.9"/>
<circle cx="691.3" cy="53.4" r="5.0" fill="#fff" stroke="#f5a56f" stroke-width="2.9"/>
<circle cx="691.8" cy="107.2" r="5.0" fill="#fff" stroke="#f5a56f" stroke-width="2.9"/>
<circle cx="694.0" cy="144.8" r="5.0" fill="#fff" stroke="#f5a56f" stroke-width="2.9"/>
<circle cx="693.7" cy="182.5" r="5.0" fill="#fff" stroke="#f5a56f" stroke-width="2.9"/>
<circle cx="697.3" cy="212.6" r="5.0" fill="#fff" stroke="#f5a56f" stroke-width="2.9"/>
<circle cx="695.9" cy="234.0" r="5.0" fill="#fff" stroke="#f5a56f" stroke-width="2.9"/>
<circle cx="697.0" cy="253.1" r="5.0" fill="#fff" stroke="#f5a56f" stroke-width="2.9"/>
<circle cx="697.5" cy="267.6" r="5.0" fill="#fff" stroke="#f5a56f" stroke-width="2.9"/>
<circle cx="699.0" cy="288.8" r="5.0" fill="#fff" stroke="#f5a56f" stroke-width="2.9"/>
<circle cx="699.5" cy="293.8" r="5.0" fill="#fff" stroke="#f5a56f" stroke-width="2.9"/>
<circle cx="699.9" cy="298.8" r="5.0" fill="#fff" stroke="#f5a56f" stroke-width="2.9"/>
<circle cx="700.7" cy="303.7" r="5.0" fill="#fff" stroke="#f5a56f" stroke-width="2.9"/>
<circle cx="701.9" cy="308.5" r="5.0" fill="#fff" stroke="#f5a56f" stroke-width="2.9"/>
<circle cx="702.8" cy="313.5" r="5.0" fill="#fff" stroke="#f5a56f" stroke-width="2.9"/>
<circle cx="703.2" cy="318.4" r="5.0" fill="#fff" stroke="#f5a56f" stroke-width="2.9"/>
<circle cx="703.5" cy="323.4" r="5.0" fill="#fff" stroke="#f5a56f" stroke-width="2.9"/>
<circle cx="705.1" cy="328.1" r="5.0" fill="#fff" stroke="#f5a56f" stroke-width="2.9"/>
<circle cx="706.6" cy="332.9" r="5.0" fill="#fff" stroke="#f5a56f" stroke-width="2.9"/>
<circle cx="707.9" cy="337.7" r="5.0" fill="#fff" stroke="#f5a56f" stroke-width="2.9"/>
<circle cx="709.5" cy="342.5" r="5.0" fill="#fff" stroke="#f5a56f" stroke-width="2.9"/>
<circle cx="711.1" cy="347.2" r="5.0" fill="#fff" stroke="#f5a56f" stroke-width="2.9"/>
<circle cx="712.9" cy="351.8" r="5.0" fill="#fff" stroke="#f5a56f" stroke-width="2.9"/>
<circle cx="715.2" cy="356.3" r="5.0" fill="#fff" stroke="#f5a56f" stroke-width="2.9"/>
<circle cx="717.4" cy="360.8" r="5.0" fill="#fff" stroke="#f5a56f" stroke-width="2.9"/>
<circle cx="717.7" cy="360.0" r="5.0" fill="#fff" stroke="#f5a56f" stroke-width="2.9"/>
<circle cx="718.8" cy="362.0" r="5.0" fill="#fff" stroke="#f5a56f" stroke-width="2.9"/>
<circle cx="719.7" cy="361.8" r="5.0" fill="#fff" stroke="#f5a56f" stroke-width="2.9"/>
<circle cx="721.5" cy="364.7" r="5.0" fill="#fff" stroke="#f5a56f" stroke-width="2.9"/>
<circle cx="721.8" cy="362.9" r="5.0" fill="#fff" stroke="#f5a56f" stroke-width="2.9"/>
<circle cx="723.4" cy="366.2" r="5.0" fill="#fff" stroke="#f5a56f" stroke-width="2.9"/>
<circle cx="724.1" cy="366.1" r="5.0" fill="#fff" stroke="#f5a56f" stroke-width="2.9"/>
<circle cx="724.9" cy="365.6" r="5.0" fill="#fff" stroke="#f5a56f" stroke-width="2.9"/>
<circle cx="726.3" cy="367.1" r="5.0" fill="#fff" stroke="#f5a56f" stroke-width="2.9"/>
<circle cx="727.1" cy="366.1" r="5.0" fill="#fff" stroke="#f5a56f" stroke-width="2.9"/>
<circle cx="728.2" cy="365.4" r="5.0" fill="#fff" stroke="#f5a56f" stroke-width="2.9"/>
<circle cx="729.5" cy="367.6" r="5.0" fill="#fff" stroke="#f5a56f" stroke-width="2.9"/>
<circle cx="730.4" cy="368.3" r="5.0" fill="#fff" stroke="#f5a56f" stroke-width="2.9"/>
<circle cx="731.5" cy="366.5" r="5.0" fill="#fff" stroke="#f5a56f" stroke-width="2.9"/>
<circle cx="732.3" cy="368.2" r="5.0" fill="#fff" stroke="#f5a56f" stroke-width="2.9"/>
<circle cx="733.2" cy="369.9" r="5.0" fill="#fff" stroke="#f5a56f" stroke-width="2.9"/>
<circle cx="734.6" cy="370.5" r="5.0" fill="#fff" stroke="#f5a56f" stroke-width="2.9"/>
<circle cx="735.1" cy="368.2" r="5.0" fill="#fff" stroke="#f5a56f" stroke-width="2.9"/>
<circle cx="736.3" cy="370.4" r="5.0" fill="#fff" stroke="#f5a56f" stroke-width="2.9"/>
<circle cx="737.2" cy="372.3" r="5.0" fill="#fff" stroke="#f5a56f" stroke-width="2.9"/>
<circle cx="738.2" cy="371.5" r="5.0" fill="#fff" stroke="#f5a56f" stroke-width="2.9"/>
<circle cx="739.8" cy="371.7" r="5.0" fill="#fff" stroke="#f5a56f" stroke-width="2.9"/>
<circle cx="740.6" cy="373.1" r="5.0" fill="#fff" stroke="#f5a56f" stroke-width="2.9"/>
<circle cx="741.5" cy="370.7" r="5.0" fill="#fff" stroke="#f5a56f" stroke-width="2.9"/>
<circle cx="742.8" cy="370.8" r="5.0" fill="#fff" stroke="#f5a56f" stroke-width="2.9"/>
<circle cx="743.4" cy="374.3" r="5.0" fill="#fff" stroke="#f5a56f" stroke-width="2.9"/>
<circle cx="744.8" cy="371.8" r="5.0" fill="#fff" stroke="#f5a56f" stroke-width="2.9"/>
<circle cx="746.0" cy="374.7" r="5.0" fill="#fff" stroke="#f5a56f" stroke-width="2.9"/>
<circle cx="746.5" cy="373.0" r="5.0" fill="#fff" stroke="#f5a56f" stroke-width="2.9"/>
<circle cx="747.7" cy="375.2" r="5.0" fill="#fff" stroke="#f5a56f" stroke-width="2.9"/>
<circle cx="748.6" cy="372.9" r="5.0" fill="#fff" stroke="#f5a56f" stroke-width="2.9"/>
<circle cx="749.6" cy="374.5" r="5.0" fill="#fff" stroke="#f5a56f" stroke-width="2.9"/>
<circle cx="750.7" cy="374.9" r="5.0" fill="#fff" stroke="#f5a56f" stroke-width="2.9"/>
<circle cx="751.8" cy="375.7" r="5.0" fill="#fff" stroke="#f5a56f" stroke-width="2.9"/>
<circle cx="753.2" cy="376.2" r="5.0" fill="#fff" stroke="#f5a56f" stroke-width="2.9"/>
<circle cx="754.0" cy="373.3" r="5.0" fill="#fff" stroke="#f5a56f" stroke-width="2.9"/>
<circle cx="755.4" cy="375.3" r="5.0" fill="#fff" stroke="#f5a56f" stroke-width="2.9"/>
<circle cx="756.4" cy="374.8" r="5.0" fill="#fff" stroke="#f5a56f" stroke-width="2.9"/>
<circle cx="757.4" cy="374.9" r="5.0" fill="#fff" stroke="#f5a56f" stroke-width="2.9"/>
<circle cx="758.0" cy="375.9" r="5.0" fill="#fff" stroke="#f5a56f" stroke-width="2.9"/>
<circle cx="759.0" cy="373.3" r="5.0" fill="#fff" stroke="#f5a56f" stroke-width="2.9"/>
<circle cx="760.2" cy="373.0" r="5.0" fill="#fff" stroke="#f5a56f" stroke-width="2.9"/>
<circle cx="760.9" cy="375.9" r="5.0" fill="#fff" stroke="#f5a56f" stroke-width="2.9"/>
<circle cx="762.3" cy="373.6" r="5.0" fill="#fff" stroke="#f5a56f" stroke-width="2.9"/>
<circle cx="763.4" cy="374.8" r="5.0" fill="#fff" stroke="#f5a56f" stroke-width="2.9"/>
<circle cx="764.2" cy="374.1" r="5.0" fill="#fff" stroke="#f5a56f" stroke-width="2.9"/>
<circle cx="765.6" cy="374.1" r="5.0" fill="#fff" stroke="#f5a56f" stroke-width="2.9"/>
<circle cx="766.1" cy="376.6" r="5.0" fill="#fff" stroke="#f5a56f" stroke-width="2.9"/>
<circle cx="767.3" cy="375.0" r="5.0" fill="#fff" stroke="#f5a56f" stroke-width="2.9"/>
<circle cx="768.4" cy="376.4" r="5.0" fill="#fff" stroke="#f5a56f" stroke-width="2.9"/>
<circle cx="769.2" cy="373.6" r="5.0" fill="#fff" stroke="#f5a56f" stroke-width="2.9"/>
<circle cx="770.5" cy="374.3" r="5.0" fill="#fff" stroke="#f5a56f" stroke-width="2.9"/>
<circle cx="771.6" cy="376.2" r="5.0" fill="#fff" stroke="#f5a56f" stroke-width="2.9"/>
<circle cx="772.7" cy="374.3" r="5.0" fill="#fff" stroke="#f5a56f" stroke-width="2.9"/>
<circle cx="773.8" cy="373.9" r="5.0" fill="#fff" stroke="#f5a56f" stroke-width="2.9"/>
<circle cx="774.6" cy="375.9" r="5.0" fill="#fff" stroke="#f5a56f" stroke-width="2.9"/>
<circle cx="775.4" cy="374.5" r="5.0" fill="#fff" stroke="#f5a56f" stroke-width="2.9"/>
<circle cx="777.1" cy="375.5" r="5.0" fill="#fff" stroke="#f5a56f" stroke-width="2.9"/>
<circle cx="777.8" cy="375.8" r="5.0" fill="#fff" stroke="#f5a56f" stroke-width="2.9"/>
<circle cx="779.1" cy="374.5" r="5.0" fill="#fff" stroke="#f5a56f" stroke-width="2.9"/>
<circle cx="779.5" cy="374.2" r="5.0" fill="#fff" stroke="#f5a56f" stroke-width="2.9"/>
<circle cx="780.6" cy="372.9" r="5.0" fill="#fff" stroke="#f5a56f" stroke-width="2.9"/>
<circle cx="781.6" cy="372.3" r="5.0" fill="#fff" stroke="#f5a56f" stroke-width="2.9"/>
<circle cx="783.2" cy="374.7" r="5.0" fill="#fff" stroke="#f5a56f" stroke-width="2.9"/>
<circle cx="783.9" cy="371.9" r="5.0" fill="#fff" stroke="#f5a56f" stroke-width="2.9"/>
<circle cx="785.3" cy="372.4" r="5.0" fill="#fff" stroke="#f5a56f" stroke-width="2.9"/>
<circle cx="786.3" cy="373.9" r="5.0" fill="#fff" stroke="#f5a56f" stroke-width="2.9"/>
<circle cx="786.7" cy="372.1" r="5.0" fill="#fff" stroke="#f5a56f" stroke-width="2.9"/>
<circle cx="788.0" cy="372.8" r="5.0" fill="#fff" stroke="#f5a56f" stroke-width="2.9"/>
<circle cx="789.3" cy="371.2" r="5.0" fill="#fff" stroke="#f5a56f" stroke-width="2.9"/>
<circle cx="789.9" cy="373.8" r="5.0" fill="#fff" stroke="#f5a56f" stroke-width="2.9"/>
<circle cx="790.8" cy="374.4" r="5.0" fill="#fff" stroke="#f5a56f" stroke-width="2.9"/>
<circle cx="792.0" cy="372.5" r="5.0" fill="#fff" stroke="#f5a56f" stroke-width="2.9"/>
<circle cx="793.3" cy="371.5" r="5.0" fill="#fff" stroke="#f5a56f" stroke-width="2.9"/>
<circle cx="794.2" cy="372.1" r="5.0" fill="#fff" stroke="#f5a56f" stroke-width="2.9"/>
<circle cx="795.5" cy="370.6" r="5.0" fill="#fff" stroke="#f5a56f" stroke-width="2.9"/>
<circle cx="796.5" cy="372.2" r="5.0" fill="#fff" stroke="#f5a56f" stroke-width="2.9"/>
<circle cx="797.0" cy="370.8" r="5.0" fill="#fff" stroke="#f5a56f" stroke-width="2.9"/>
<circle cx="798.5" cy="371.7" r="5.0" fill="#fff" stroke="#f5a56f" stroke-width="2.9"/>
<circle cx="799.2" cy="372.0" r="5.0" fill="#fff" stroke="#f5a56f" stroke-width="2.9"/>
<circle cx="800.7" cy="369.6" r="5.0" fill="#fff" stroke="#f5a56f" stroke-width="2.9"/>
<circle cx="801.6" cy="370.1" r="5.0" fill="#fff" stroke="#f5a56f" stroke-width="2.9"/>
<circle cx="802.6" cy="371.0" r="5.0" fill="#fff" stroke="#f5a56f" stroke-width="2.9"/>
<circle cx="803.1" cy="370.2" r="5.0" fill="#fff" stroke="#f5a56f" stroke-width="2.9"/>
<circle cx="804.6" cy="371.2" r="5.0" fill="#fff" stroke="#f5a56f" stroke-width="2.9"/>
<circle cx="805.9" cy="371.1" r="5.0" fill="#fff" stroke="#f5a56f" stroke-width="2.9"/>
<circle cx="806.4" cy="368.5" r="5.0" fill="#fff" stroke="#f5a56f" stroke-width="2.9"/>
<circle cx="807.3" cy="369.9" r="5.0" fill="#fff" stroke="#f5a56f" stroke-width="2.9"/>
<circle cx="808.6" cy="369.7" r="5.0" fill="#fff" stroke="#f5a56f" stroke-width="2.9"/>
<circle cx="809.6" cy="371.3" r="5.0" fill="#fff" stroke="#f5a56f" stroke-width="2.9"/>
<circle cx="811.1" cy="369.7" r="5.0" fill="#fff" stroke="#f5a56f" stroke-width="2.9"/>
<circle cx="811.7" cy="370.5" r="5.0" fill="#fff" stroke="#f5a56f" stroke-width="2.9"/>
<circle cx="813.1" cy="369.2" r="5.0" fill="#fff" stroke="#f5a56f" stroke-width="2.9"/>
<circle cx="813.9" cy="369.1" r="5.0" fill="#fff" stroke="#f5a56f" stroke-width="2.9"/>
<circle cx="814.8" cy="368.9" r="5.0" fill="#fff" stroke="#f5a56f" stroke-width="2.9"/>
<circle cx="816.0" cy="370.3" r="5.0" fill="#fff" stroke="#f5a56f" stroke-width="2.9"/>
<circle cx="816.9" cy="369.9" r="5.0" fill="#fff" stroke="#f5a56f" stroke-width="2.9"/>
<circle cx="818.3" cy="370.6" r="5.0" fill="#fff" stroke="#f5a56f" stroke-width="2.9"/>
<circle cx="819.2" cy="369.0" r="5.0" fill="#fff" stroke="#f5a56f" stroke-width="2.9"/>
<circle cx="820.0" cy="369.9" r="5.0" fill="#fff" stroke="#f5a56f" stroke-width="2.9"/>
<circle cx="821.4" cy="367.2" r="5.0" fill="#fff" stroke="#f5a56f" stroke-width="2.9"/>
<circle cx="822.2" cy="366.2" r="5.0" fill="#fff" stroke="#f5a56f" stroke-width="2.9"/>
<circle cx="823.1" cy="367.3" r="5.0" fill="#fff" stroke="#f5a56f" stroke-width="2.9"/>
<circle cx="824.0" cy="369.1" r="5.0" fill="#fff" stroke="#f5a56f" stroke-width="2.9"/>
<circle cx="824.8" cy="368.8" r="5.0" fill="#fff" stroke="#f5a56f" stroke-width="2.9"/>
<circle cx="826.1" cy="368.8" r="5.0" fill="#fff" stroke="#f5a56f" stroke-width="2.9"/>
<circle cx="827.2" cy="366.2" r="5.0" fill="#fff" stroke="#f5a56f" stroke-width="2.9"/>
<circle cx="828.0" cy="366.7" r="5.0" fill="#fff" stroke="#f5a56f" stroke-width="2.9"/>
<circle cx="829.5" cy="367.5" r="5.0" fill="#fff" stroke="#f5a56f" stroke-width="2.9"/>
<circle cx="830.3" cy="366.4" r="5.0" fill="#fff" stroke="#f5a56f" stroke-width="2.9"/>
<circle cx="831.5" cy="367.3" r="5.0" fill="#fff" stroke="#f5a56f" stroke-width="2.9"/>
<circle cx="832.6" cy="367.0" r="5.0" fill="#fff" stroke="#f5a56f" stroke-width="2.9"/>
<circle cx="833.0" cy="364.4" r="5.0" fill="#fff" stroke="#f5a56f" stroke-width="2.9"/>
<circle cx="834.4" cy="366.0" r="5.0" fill="#fff" stroke="#f5a56f" stroke-width="2.9"/>
<circle cx="835.4" cy="366.2" r="5.0" fill="#fff" stroke="#f5a56f" stroke-width="2.9"/>
<circle cx="836.6" cy="365.1" r="5.0" fill="#fff" stroke="#f5a56f" stroke-width="2.9"/>
<circle cx="837.6" cy="364.7" r="5.0" fill="#fff" stroke="#f5a56f" stroke-width="2.9"/>
<circle cx="838.8" cy="363.6" r="5.0" fill="#fff" stroke="#f5a56f" stroke-width="2.9"/>
<circle cx="839.4" cy="363.7" r="5.0" fill="#fff" stroke="#f5a56f" stroke-width="2.9"/>
<circle cx="840.9" cy="361.5" r="5.0" fill="#fff" stroke="#f5a56f" stroke-width="2.9"/>
<circle cx="841.2" cy="364.7" r="5.0" fill="#fff" stroke="#f5a56f" stroke-width="2.9"/>
<circle cx="842.7" cy="361.8" r="5.0" fill="#fff" stroke="#f5a56f" stroke-width="2.9"/>
<circle cx="843.7" cy="361.1" r="5.0" fill="#fff" stroke="#f5a56f" stroke-width="2.9"/>
<circle cx="845.0" cy="363.3" r="5.0" fill="#fff" stroke="#f5a56f" stroke-width="2.9"/>
<circle cx="845.3" cy="360.9" r="5.0" fill="#fff" stroke="#f5a56f" stroke-width="2.9"/>
<circle cx="846.9" cy="362.1" r="5.0" fill="#fff" stroke="#f5a56f" stroke-width="2.9"/>
<circle cx="847.7" cy="361.9" r="5.0" fill="#fff" stroke="#f5a56f" stroke-width="2.9"/>
<circle cx="849.2" cy="362.1" r="5.0" fill="#fff" stroke="#f5a56f" stroke-width="2.9"/>
<circle cx="850.0" cy="362.3" r="5.0" fill="#fff" stroke="#f5a56f" stroke-width="2.9"/>
<circle cx="851.1" cy="359.5" r="5.0" fill="#fff" stroke="#f5a56f" stroke-width="2.9"/>
<circle cx="851.6" cy="360.2" r="5.0" fill="#fff" stroke="#f5a56f" stroke-width="2.9"/>
<circle cx="852.7" cy="360.5" r="5.0" fill="#fff" stroke="#f5a56f" stroke-width="2.9"/>
<circle cx="854.3" cy="358.2" r="5.0" fill="#fff" stroke="#f5a56f" stroke-width="2.9"/>
<circle cx="855.4" cy="358.5" r="5.0" fill="#fff" stroke="#f5a56f" stroke-width="2.9"/>
<circle cx="856.4" cy="361.2" r="5.0" fill="#fff" stroke="#f5a56f" stroke-width="2.9"/>
<circle cx="857.2" cy="358.9" r="5.0" fill="#fff" stroke="#f5a56f" stroke-width="2.9"/>
<circle cx="858.3" cy="357.5" r="5.0" fill="#fff" stroke="#f5a56f" stroke-width="2.9"/>
<circle cx="859.1" cy="358.8" r="5.0" fill="#fff" stroke="#f5a56f" stroke-width="2.9"/>
<circle cx="859.7" cy="360.2" r="5.0" fill="#fff" stroke="#f5a56f" stroke-width="2.9"/>
<circle cx="861.0" cy="357.7" r="5.0" fill="#fff" stroke="#f5a56f" stroke-width="2.9"/>
<circle cx="862.5" cy="358.5" r="5.0" fill="#fff" stroke="#f5a56f" stroke-width="2.9"/>
<circle cx="863.2" cy="357.3" r="5.0" fill="#fff" stroke="#f5a56f" stroke-width="2.9"/>
<circle cx="864.5" cy="359.2" r="5.0" fill="#fff" stroke="#f5a56f" stroke-width="2.9"/>
<circle cx="865.1" cy="357.2" r="5.0" fill="#fff" stroke="#f5a56f" stroke-width="2.9"/>
<circle cx="866.3" cy="354.8" r="5.0" fill="#fff" stroke="#f5a56f" stroke-width="2.9"/>
<circle cx="867.6" cy="355.4" r="5.0" fill="#fff" stroke="#f5a56f" stroke-width="2.9"/>
<circle cx="868.8" cy="354.6" r="5.0" fill="#fff" stroke="#f5a56f" stroke-width="2.9"/>
<circle cx="869.5" cy="357.6" r="5.0" fill="#fff" stroke="#f5a56f" stroke-width="2.9"/>
<circle cx="870.4" cy="356.5" r="5.0" fill="#fff" stroke="#f5a56f" stroke-width="2.9"/>
<circle cx="871.5" cy="356.5" r="5.0" fill="#fff" stroke="#f5a56f" stroke-width="2.9"/>
<circle cx="872.4" cy="355.8" r="5.0" fill="#fff" stroke="#f5a56f" stroke-width="2.9"/>
<circle cx="873.5" cy="353.7" r="5.0" fill="#fff" stroke="#f5a56f" stroke-width="2.9"/>
<circle cx="875.0" cy="352.4" r="5.0" fill="#fff" stroke="#f5a56f" stroke-width="2.9"/>
<circle cx="875.4" cy="355.4" r="5.0" fill="#fff" stroke="#f5a56f" stroke-width="2.9"/>
<circle cx="876.8" cy="353.9" r="5.0" fill="#fff" stroke="#f5a56f" stroke-width="2.9"/>
<circle cx="878.0" cy="354.5" r="5.0" fill="#fff" stroke="#f5a56f" stroke-width="2.9"/>
<circle cx="878.7" cy="353.8" r="5.0" fill="#fff" stroke="#f5a56f" stroke-width="2.9"/>
<circle cx="879.8" cy="351.5" r="5.0" fill="#fff" stroke="#f5a56f" stroke-width="2.9"/>
<circle cx="880.5" cy="354.2" r="5.0" fill="#fff" stroke="#f5a56f" stroke-width="2.9"/>
<circle cx="680.3" cy="6.0" r="5.0" fill="#fff" stroke="#1d6531" stroke-width="2.9"/>
<circle cx="684.6" cy="120.6" r="5.0" fill="#fff" stroke="#1d6531" stroke-width="2.9"/>
<circle cx="683.5" cy="130.7" r="5.0" fill="#fff" stroke="#1d6531" stroke-width="2.9"/>
<circle cx="682.4" cy="150.4" r="5.0" fill="#fff" stroke="#1d6531" stroke-width="2.9"/>
<circle cx="682.5" cy="151.8" r="5.0" fill="#fff" stroke="#1d6531" stroke-width="2.9"/>
<circle cx="685.9" cy="248.6" r="5.0" fill="#fff" stroke="#1d6531" stroke-width="2.9"/>
<circle cx="689.0" cy="288.0" r="5.0" fill="#fff" stroke="#1d6531" stroke-width="2.9"/>
<circle cx="690.5" cy="293.8" r="5.0" fill="#fff" stroke="#1d6531" stroke-width="2.9"/>
<circle cx="691.9" cy="299.6" r="5.0" fill="#fff" stroke="#1d6531" stroke-width="2.9"/>
<circle cx="693.2" cy="305.5" r="5.0" fill="#fff" stroke="#1d6531" stroke-width="2.9"/>
<circle cx="694.4" cy="311.4" r="5.0" fill="#fff" stroke="#1d6531" stroke-width="2.9"/>
<circle cx="696.0" cy="317.2" r="5.0" fill="#fff" stroke="#1d6531" stroke-width="2.9"/>
<circle cx="697.7" cy="322.9" r="5.0" fill="#fff" stroke="#1d6531" stroke-width="2.9"/>
<circle cx="699.6" cy="328.6" r="5.0" fill="#fff" stroke="#1d6531" stroke-width="2.9"/>
<circle cx="701.8" cy="334.2" r="5.0" fill="#fff" stroke="#1d6531" stroke-width="2.9"/>
<circle cx="703.9" cy="339.8" r="5.0" fill="#fff" stroke="#1d6531" stroke-width="2.9"/>
<circle cx="706.6" cy="345.2" r="5.0" fill="#fff" stroke="#1d6531" stroke-width="2.9"/>
<circle cx="709.3" cy="350.5" r="5.0" fill="#fff" stroke="#1d6531" stroke-width="2.9"/>
<circle cx="712.7" cy="355.4" r="5.0" fill="#fff" stroke="#1d6531" stroke-width="2.9"/>
<circle cx="716.5" cy="360.1" r="5.0" fill="#fff" stroke="#1d6531" stroke-width="2.9"/>
<circle cx="714.1" cy="338.3" r="5.0" fill="#fff" stroke="#1d6531" stroke-width="2.9"/>
<circle cx="715.1" cy="343.4" r="5.0" fill="#fff" stroke="#1d6531" stroke-width="2.9"/>
<circle cx="727.5" cy="363.0" r="5.0" fill="#fff" stroke="#1d6531" stroke-width="2.9"/>
<circle cx="857.1" cy="341.0" r="5.0" fill="#fff" stroke="#1d6531" stroke-width="2.9"/>
<circle cx="842.9" cy="350.7" r="5.0" fill="#fff" stroke="#1d6531" stroke-width="2.9"/>
<circle cx="822.0" cy="356.6" r="5.0" fill="#fff" stroke="#1d6531" stroke-width="2.9"/>
<circle cx="713.1" cy="337.1" r="5.0" fill="#fff" stroke="#1d6531" stroke-width="2.9"/>
<circle cx="718.2" cy="365.7" r="5.0" fill="#fff" stroke="#1d6531" stroke-width="2.9"/>
<circle cx="719.3" cy="363.7" r="5.0" fill="#fff" stroke="#1d6531" stroke-width="2.9"/>
<circle cx="721.3" cy="368.3" r="5.0" fill="#fff" stroke="#1d6531" stroke-width="2.9"/>
<circle cx="722.6" cy="365.7" r="5.0" fill="#fff" stroke="#1d6531" stroke-width="2.9"/>
<circle cx="724.6" cy="367.7" r="5.0" fill="#fff" stroke="#1d6531" stroke-width="2.9"/>
<circle cx="725.9" cy="367.7" r="5.0" fill="#fff" stroke="#1d6531" stroke-width="2.9"/>
<circle cx="727.3" cy="368.9" r="5.0" fill="#fff" stroke="#1d6531" stroke-width="2.9"/>
<circle cx="729.0" cy="369.1" r="5.0" fill="#fff" stroke="#1d6531" stroke-width="2.9"/>
<circle cx="730.8" cy="371.2" r="5.0" fill="#fff" stroke="#1d6531" stroke-width="2.9"/>
<circle cx="732.5" cy="372.0" r="5.0" fill="#fff" stroke="#1d6531" stroke-width="2.9"/>
<circle cx="733.6" cy="371.9" r="5.0" fill="#fff" stroke="#1d6531" stroke-width="2.9"/>
<circle cx="735.6" cy="373.3" r="5.0" fill="#fff" stroke="#1d6531" stroke-width="2.9"/>
<circle cx="737.6" cy="369.2" r="5.0" fill="#fff" stroke="#1d6531" stroke-width="2.9"/>
<circle cx="739.1" cy="370.6" r="5.0" fill="#fff" stroke="#1d6531" stroke-width="2.9"/>
<circle cx="740.5" cy="373.4" r="5.0" fill="#fff" stroke="#1d6531" stroke-width="2.9"/>
<circle cx="742.3" cy="374.4" r="5.0" fill="#fff" stroke="#1d6531" stroke-width="2.9"/>
<circle cx="743.7" cy="374.0" r="5.0" fill="#fff" stroke="#1d6531" stroke-width="2.9"/>
<circle cx="745.2" cy="370.8" r="5.0" fill="#fff" stroke="#1d6531" stroke-width="2.9"/>
<circle cx="746.5" cy="372.2" r="5.0" fill="#fff" stroke="#1d6531" stroke-width="2.9"/>
<circle cx="748.6" cy="372.0" r="5.0" fill="#fff" stroke="#1d6531" stroke-width="2.9"/>
<circle cx="750.1" cy="370.4" r="5.0" fill="#fff" stroke="#1d6531" stroke-width="2.9"/>
<circle cx="752.0" cy="372.2" r="5.0" fill="#fff" stroke="#1d6531" stroke-width="2.9"/>
<circle cx="753.5" cy="373.6" r="5.0" fill="#fff" stroke="#1d6531" stroke-width="2.9"/>
<circle cx="755.0" cy="371.8" r="5.0" fill="#fff" stroke="#1d6531" stroke-width="2.9"/>
<circle cx="756.1" cy="372.2" r="5.0" fill="#fff" stroke="#1d6531" stroke-width="2.9"/>
<circle cx="757.9" cy="371.9" r="5.0" fill="#fff" stroke="#1d6531" stroke-width="2.9"/>
<circle cx="760.0" cy="371.5" r="5.0" fill="#fff" stroke="#1d6531" stroke-width="2.9"/>
<circle cx="761.4" cy="370.8" r="5.0" fill="#fff" stroke="#1d6531" stroke-width="2.9"/>
<circle cx="762.9" cy="371.7" r="5.0" fill="#fff" stroke="#1d6531" stroke-width="2.9"/>
<circle cx="764.2" cy="371.9" r="5.0" fill="#fff" stroke="#1d6531" stroke-width="2.9"/>
<circle cx="766.3" cy="372.9" r="5.0" fill="#fff" stroke="#1d6531" stroke-width="2.9"/>
<circle cx="767.6" cy="374.0" r="5.0" fill="#fff" stroke="#1d6531" stroke-width="2.9"/>
<circle cx="769.2" cy="370.4" r="5.0" fill="#fff" stroke="#1d6531" stroke-width="2.9"/>
<circle cx="770.5" cy="373.5" r="5.0" fill="#fff" stroke="#1d6531" stroke-width="2.9"/>
<circle cx="772.4" cy="370.7" r="5.0" fill="#fff" stroke="#1d6531" stroke-width="2.9"/>
<circle cx="774.4" cy="370.9" r="5.0" fill="#fff" stroke="#1d6531" stroke-width="2.9"/>
<circle cx="775.8" cy="371.0" r="5.0" fill="#fff" stroke="#1d6531" stroke-width="2.9"/>
<circle cx="777.4" cy="371.9" r="5.0" fill="#fff" stroke="#1d6531" stroke-width="2.9"/>
<circle cx="778.4" cy="372.7" r="5.0" fill="#fff" stroke="#1d6531" stroke-width="2.9"/>
<circle cx="780.2" cy="371.1" r="5.0" fill="#fff" stroke="#1d6531" stroke-width="2.9"/>
<circle cx="782.2" cy="373.8" r="5.0" fill="#fff" stroke="#1d6531" stroke-width="2.9"/>
<circle cx="783.6" cy="371.9" r="5.0" fill="#fff" stroke="#1d6531" stroke-width="2.9"/>
<circle cx="785.2" cy="371.6" r="5.0" fill="#fff" stroke="#1d6531" stroke-width="2.9"/>
<circle cx="786.5" cy="373.1" r="5.0" fill="#fff" stroke="#1d6531" stroke-width="2.9"/>
<circle cx="788.1" cy="371.1" r="5.0" fill="#fff" stroke="#1d6531" stroke-width="2.9"/>
<circle cx="789.7" cy="367.9" r="5.0" fill="#fff" stroke="#1d6531" stroke-width="2.9"/>
<circle cx="791.9" cy="371.0" r="5.0" fill="#fff" stroke="#1d6531" stroke-width="2.9"/>
<circle cx="792.9" cy="368.1" r="5.0" fill="#fff" stroke="#1d6531" stroke-width="2.9"/>
<circle cx="794.5" cy="370.9" r="5.0" fill="#fff" stroke="#1d6531" stroke-width="2.9"/>
<circle cx="796.7" cy="369.4" r="5.0" fill="#fff" stroke="#1d6531" stroke-width="2.9"/>
<circle cx="798.2" cy="368.1" r="5.0" fill="#fff" stroke="#1d6531" stroke-width="2.9"/>
<circle cx="799.2" cy="364.2" r="5.0" fill="#fff" stroke="#1d6531" stroke-width="2.9"/>
<circle cx="801.0" cy="366.1" r="5.0" fill="#fff" stroke="#1d6531" stroke-width="2.9"/>
<circle cx="803.1" cy="364.6" r="5.0" fill="#fff" stroke="#1d6531" stroke-width="2.9"/>
<circle cx="804.2" cy="364.8" r="5.0" fill="#fff" stroke="#1d6531" stroke-width="2.9"/>
<circle cx="806.4" cy="363.4" r="5.0" fill="#fff" stroke="#1d6531" stroke-width="2.9"/>
<circle cx="807.6" cy="361.7" r="5.0" fill="#fff" stroke="#1d6531" stroke-width="2.9"/>
<circle cx="809.4" cy="360.4" r="5.0" fill="#fff" stroke="#1d6531" stroke-width="2.9"/>
<circle cx="810.9" cy="360.3" r="5.0" fill="#fff" stroke="#1d6531" stroke-width="2.9"/>
<circle cx="812.5" cy="361.4" r="5.0" fill="#fff" stroke="#1d6531" stroke-width="2.9"/>
<circle cx="814.3" cy="361.3" r="5.0" fill="#fff" stroke="#1d6531" stroke-width="2.9"/>
<circle cx="815.9" cy="360.3" r="5.0" fill="#fff" stroke="#1d6531" stroke-width="2.9"/>
<circle cx="816.8" cy="362.7" r="5.0" fill="#fff" stroke="#1d6531" stroke-width="2.9"/>
<circle cx="819.0" cy="361.5" r="5.0" fill="#fff" stroke="#1d6531" stroke-width="2.9"/>
<circle cx="820.7" cy="357.6" r="5.0" fill="#fff" stroke="#1d6531" stroke-width="2.9"/>
<circle cx="822.3" cy="357.0" r="5.0" fill="#fff" stroke="#1d6531" stroke-width="2.9"/>
<circle cx="823.4" cy="357.1" r="5.0" fill="#fff" stroke="#1d6531" stroke-width="2.9"/>
<circle cx="825.2" cy="357.0" r="5.0" fill="#fff" stroke="#1d6531" stroke-width="2.9"/>
<circle cx="826.6" cy="358.7" r="5.0" fill="#fff" stroke="#1d6531" stroke-width="2.9"/>
<circle cx="828.1" cy="357.9" r="5.0" fill="#fff" stroke="#1d6531" stroke-width="2.9"/>
<circle cx="830.2" cy="355.2" r="5.0" fill="#fff" stroke="#1d6531" stroke-width="2.9"/>
<circle cx="831.9" cy="358.8" r="5.0" fill="#fff" stroke="#1d6531" stroke-width="2.9"/>
<circle cx="833.4" cy="358.3" r="5.0" fill="#fff" stroke="#1d6531" stroke-width="2.9"/>
<circle cx="835.2" cy="355.0" r="5.0" fill="#fff" stroke="#1d6531" stroke-width="2.9"/>
<circle cx="836.1" cy="357.9" r="5.0" fill="#fff" stroke="#1d6531" stroke-width="2.9"/>
<circle cx="837.6" cy="357.0" r="5.0" fill="#fff" stroke="#1d6531" stroke-width="2.9"/>
<circle cx="839.7" cy="358.3" r="5.0" fill="#fff" stroke="#1d6531" stroke-width="2.9"/>
<circle cx="840.9" cy="355.0" r="5.0" fill="#fff" stroke="#1d6531" stroke-width="2.9"/>
<circle cx="843.0" cy="354.7" r="5.0" fill="#fff" stroke="#1d6531" stroke-width="2.9"/>
<circle cx="844.2" cy="353.5" r="5.0" fill="#fff" stroke="#1d6531" stroke-width="2.9"/>
<circle cx="845.6" cy="355.0" r="5.0" fill="#fff" stroke="#1d6531" stroke-width="2.9"/>
<circle cx="847.3" cy="354.4" r="5.0" fill="#fff" stroke="#1d6531" stroke-width="2.9"/>
<circle cx="849.4" cy="353.8" r="5.0" fill="#fff" stroke="#1d6531" stroke-width="2.9"/>
<circle cx="850.9" cy="356.2" r="5.0" fill="#fff" stroke="#1d6531" stroke-width="2.9"/>
<circle cx="852.1" cy="354.2" r="5.0" fill="#fff" stroke="#1d6531" stroke-width="2.9"/>
<circle cx="854.1" cy="353.1" r="5.0" fill="#fff" stroke="#1d6531" stroke-width="2.9"/>
<circle cx="855.5" cy="351.0" r="5.0" fill="#fff" stroke="#1d6531" stroke-width="2.9"/>
<circle cx="857.1" cy="352.6" r="5.0" fill="#fff" stroke="#1d6531" stroke-width="2.9"/>
<circle cx="859.2" cy="350.8" r="5.0" fill="#fff" stroke="#1d6531" stroke-width="2.9"/>
<circle cx="860.7" cy="353.1" r="5.0" fill="#fff" stroke="#1d6531" stroke-width="2.9"/>
<circle cx="861.9" cy="351.6" r="5.0" fill="#fff" stroke="#1d6531" stroke-width="2.9"/>
<circle cx="863.2" cy="353.3" r="5.0" fill="#fff" stroke="#1d6531" stroke-width="2.9"/>
<circle cx="865.2" cy="348.6" r="5.0" fill="#fff" stroke="#1d6531" stroke-width="2.9"/>
<circle cx="867.0" cy="351.9" r="5.0" fill="#fff" stroke="#1d6531" stroke-width="2.9"/>
<circle cx="868.6" cy="352.1" r="5.0" fill="#fff" stroke="#1d6531" stroke-width="2.9"/>
<circle cx="869.8" cy="349.5" r="5.0" fill="#fff" stroke="#1d6531" stroke-width="2.9"/>
<circle cx="871.6" cy="349.5" r="5.0" fill="#fff" stroke="#1d6531" stroke-width="2.9"/>
<circle cx="873.0" cy="349.3" r="5.0" fill="#fff" stroke="#1d6531" stroke-width="2.9"/>
<circle cx="874.8" cy="347.3" r="5.0" fill="#fff" stroke="#1d6531" stroke-width="2.9"/>
<circle cx="876.6" cy="346.3" r="5.0" fill="#fff" stroke="#1d6531" stroke-width="2.9"/>
<circle cx="877.9" cy="349.7" r="5.0" fill="#fff" stroke="#1d6531" stroke-width="2.9"/>
<circle cx="879.5" cy="345.8" r="5.0" fill="#fff" stroke="#1d6531" stroke-width="2.9"/>
<circle cx="683.1" cy="49.4" r="5.0" fill="#fff" stroke="#ff0000" stroke-width="2.9"/>
<circle cx="683.5" cy="63.5" r="5.0" fill="#fff" stroke="#ff0000" stroke-width="2.9"/>
<circle cx="684.6" cy="78.1" r="5.0" fill="#fff" stroke="#ff0000" stroke-width="2.9"/>
<circle cx="685.7" cy="91.5" r="5.0" fill="#fff" stroke="#ff0000" stroke-width="2.9"/>
<circle cx="686.4" cy="112.8" r="5.0" fill="#fff" stroke="#ff0000" stroke-width="2.9"/>
<circle cx="687.3" cy="141.2" r="5.0" fill="#fff" stroke="#ff0000" stroke-width="2.9"/>
<circle cx="689.2" cy="171.3" r="5.0" fill="#fff" stroke="#ff0000" stroke-width="2.9"/>
<circle cx="689.2" cy="206.0" r="5.0" fill="#fff" stroke="#ff0000" stroke-width="2.9"/>
<circle cx="690.3" cy="249.7" r="5.0" fill="#fff" stroke="#ff0000" stroke-width="2.9"/>
<circle cx="692.5" cy="298.2" r="5.0" fill="#fff" stroke="#ff0000" stroke-width="2.9"/>
<circle cx="693.3" cy="303.1" r="5.0" fill="#fff" stroke="#ff0000" stroke-width="2.9"/>
<circle cx="694.2" cy="308.1" r="5.0" fill="#fff" stroke="#ff0000" stroke-width="2.9"/>
<circle cx="694.8" cy="313.0" r="5.0" fill="#fff" stroke="#ff0000" stroke-width="2.9"/>
<circle cx="695.3" cy="318.0" r="5.0" fill="#fff" stroke="#ff0000" stroke-width="2.9"/>
<circle cx="696.0" cy="322.9" r="5.0" fill="#fff" stroke="#ff0000" stroke-width="2.9"/>
<circle cx="697.0" cy="327.8" r="5.0" fill="#fff" stroke="#ff0000" stroke-width="2.9"/>
<circle cx="698.2" cy="332.7" r="5.0" fill="#fff" stroke="#ff0000" stroke-width="2.9"/>
<circle cx="699.6" cy="337.5" r="5.0" fill="#fff" stroke="#ff0000" stroke-width="2.9"/>
<circle cx="701.1" cy="342.2" r="5.0" fill="#fff" stroke="#ff0000" stroke-width="2.9"/>
<circle cx="703.0" cy="346.9" r="5.0" fill="#fff" stroke="#ff0000" stroke-width="2.9"/>
<circle cx="704.9" cy="351.5" r="5.0" fill="#fff" stroke="#ff0000" stroke-width="2.9"/>
<circle cx="707.4" cy="355.8" r="5.0" fill="#fff" stroke="#ff0000" stroke-width="2.9"/>
<circle cx="710.1" cy="360.1" r="5.0" fill="#fff" stroke="#ff0000" stroke-width="2.9"/>
<circle cx="713.1" cy="364.1" r="5.0" fill="#fff" stroke="#ff0000" stroke-width="2.9"/>
<circle cx="717.2" cy="355.7" r="5.0" fill="#fff" stroke="#ff0000" stroke-width="2.9"/>
<circle cx="718.2" cy="363.0" r="5.0" fill="#fff" stroke="#ff0000" stroke-width="2.9"/>
<circle cx="715.9" cy="369.4" r="5.0" fill="#fff" stroke="#ff0000" stroke-width="2.9"/>
<circle cx="716.7" cy="370.7" r="5.0" fill="#fff" stroke="#ff0000" stroke-width="2.9"/>
<circle cx="718.0" cy="371.8" r="5.0" fill="#fff" stroke="#ff0000" stroke-width="2.9"/>
<circle cx="719.4" cy="371.9" r="5.0" fill="#fff" stroke="#ff0000" stroke-width="2.9"/>
<circle cx="719.8" cy="371.7" r="5.0" fill="#fff" stroke="#ff0000" stroke-width="2.9"/>
<circle cx="721.2" cy="371.1" r="5.0" fill="#fff" stroke="#ff0000" stroke-width="2.9"/>
<circle cx="722.2" cy="372.1" r="5.0" fill="#fff" stroke="#ff0000" stroke-width="2.9"/>
<circle cx="723.0" cy="373.4" r="5.0" fill="#fff" stroke="#ff0000" stroke-width="2.9"/>
<circle cx="724.2" cy="372.4" r="5.0" fill="#fff" stroke="#ff0000" stroke-width="2.9"/>
<circle cx="725.2" cy="374.4" r="5.0" fill="#fff" stroke="#ff0000" stroke-width="2.9"/>
<circle cx="726.2" cy="373.3" r="5.0" fill="#fff" stroke="#ff0000" stroke-width="2.9"/>
<circle cx="727.0" cy="374.3" r="5.0" fill="#fff" stroke="#ff0000" stroke-width="2.9"/>
<circle cx="728.5" cy="374.5" r="5.0" fill="#fff" stroke="#ff0000" stroke-width="2.9"/>
<circle cx="729.7" cy="375.0" r="5.0" fill="#fff" stroke="#ff0000" stroke-width="2.9"/>
<circle cx="730.7" cy="375.4" r="5.0" fill="#fff" stroke="#ff0000" stroke-width="2.9"/>
<circle cx="731.5" cy="375.4" r="5.0" fill="#fff" stroke="#ff0000" stroke-width="2.9"/>
<circle cx="732.2" cy="376.2" r="5.0" fill="#fff" stroke="#ff0000" stroke-width="2.9"/>
<circle cx="733.8" cy="376.5" r="5.0" fill="#fff" stroke="#ff0000" stroke-width="2.9"/>
<circle cx="734.5" cy="375.5" r="5.0" fill="#fff" stroke="#ff0000" stroke-width="2.9"/>
<circle cx="735.3" cy="376.6" r="5.0" fill="#fff" stroke="#ff0000" stroke-width="2.9"/>
<circle cx="736.7" cy="375.7" r="5.0" fill="#fff" stroke="#ff0000" stroke-width="2.9"/>
<circle cx="738.0" cy="377.2" r="5.0" fill="#fff" stroke="#ff0000" stroke-width="2.9"/>
<circle cx="738.8" cy="377.9" r="5.0" fill="#fff" stroke="#ff0000" stroke-width="2.9"/>
<circle cx="739.8" cy="377.0" r="5.0" fill="#fff" stroke="#ff0000" stroke-width="2.9"/>
<circle cx="740.5" cy="377.4" r="5.0" fill="#fff" stroke="#ff0000" stroke-width="2.9"/>
<circle cx="741.9" cy="378.0" r="5.0" fill="#fff" stroke="#ff0000" stroke-width="2.9"/>
<circle cx="743.1" cy="377.1" r="5.0" fill="#fff" stroke="#ff0000" stroke-width="2.9"/>
<circle cx="744.1" cy="378.1" r="5.0" fill="#fff" stroke="#ff0000" stroke-width="2.9"/>
<circle cx="744.8" cy="377.4" r="5.0" fill="#fff" stroke="#ff0000" stroke-width="2.9"/>
<circle cx="745.9" cy="377.2" r="5.0" fill="#fff" stroke="#ff0000" stroke-width="2.9"/>
<circle cx="746.9" cy="376.7" r="5.0" fill="#fff" stroke="#ff0000" stroke-width="2.9"/>
<circle cx="747.7" cy="376.9" r="5.0" fill="#fff" stroke="#ff0000" stroke-width="2.9"/>
<circle cx="749.0" cy="377.7" r="5.0" fill="#fff" stroke="#ff0000" stroke-width="2.9"/>
<circle cx="750.2" cy="376.9" r="5.0" fill="#fff" stroke="#ff0000" stroke-width="2.9"/>
<circle cx="751.0" cy="377.3" r="5.0" fill="#fff" stroke="#ff0000" stroke-width="2.9"/>
<circle cx="751.8" cy="378.4" r="5.0" fill="#fff" stroke="#ff0000" stroke-width="2.9"/>
<circle cx="752.9" cy="377.8" r="5.0" fill="#fff" stroke="#ff0000" stroke-width="2.9"/>
<circle cx="754.3" cy="378.0" r="5.0" fill="#fff" stroke="#ff0000" stroke-width="2.9"/>
<circle cx="755.4" cy="378.4" r="5.0" fill="#fff" stroke="#ff0000" stroke-width="2.9"/>
<circle cx="756.0" cy="377.9" r="5.0" fill="#fff" stroke="#ff0000" stroke-width="2.9"/>
<circle cx="757.1" cy="377.2" r="5.0" fill="#fff" stroke="#ff0000" stroke-width="2.9"/>
<circle cx="758.5" cy="378.1" r="5.0" fill="#fff" stroke="#ff0000" stroke-width="2.9"/>
<circle cx="759.4" cy="376.9" r="5.0" fill="#fff" stroke="#ff0000" stroke-width="2.9"/>
<circle cx="760.7" cy="377.9" r="5.0" fill="#fff" stroke="#ff0000" stroke-width="2.9"/>
<circle cx="761.3" cy="378.5" r="5.0" fill="#fff" stroke="#ff0000" stroke-width="2.9"/>
<circle cx="762.0" cy="377.3" r="5.0" fill="#fff" stroke="#ff0000" stroke-width="2.9"/>
<circle cx="763.1" cy="377.4" r="5.0" fill="#fff" stroke="#ff0000" stroke-width="2.9"/>
<circle cx="764.6" cy="377.0" r="5.0" fill="#fff" stroke="#ff0000" stroke-width="2.9"/>
<circle cx="765.6" cy="378.0" r="5.0" fill="#fff" stroke="#ff0000" stroke-width="2.9"/>
<circle cx="766.3" cy="378.5" r="5.0" fill="#fff" stroke="#ff0000" stroke-width="2.9"/>
<circle cx="767.1" cy="377.3" r="5.0" fill="#fff" stroke="#ff0000" stroke-width="2.9"/>
<circle cx="768.5" cy="377.6" r="5.0" fill="#fff" stroke="#ff0000" stroke-width="2.9"/>
<circle cx="769.5" cy="378.8" r="5.0" fill="#fff" stroke="#ff0000" stroke-width="2.9"/>
<circle cx="770.6" cy="378.2" r="5.0" fill="#fff" stroke="#ff0000" stroke-width="2.9"/>
<circle cx="771.6" cy="377.3" r="5.0" fill="#fff" stroke="#ff0000" stroke-width="2.9"/>
<circle cx="772.3" cy="378.4" r="5.0" fill="#fff" stroke="#ff0000" stroke-width="2.9"/>
<circle cx="773.9" cy="378.9" r="5.0" fill="#fff" stroke="#ff0000" stroke-width="2.9"/>
<circle cx="774.5" cy="377.7" r="5.0" fill="#fff" stroke="#ff0000" stroke-width="2.9"/>
<circle cx="775.6" cy="378.1" r="5.0" fill="#fff" stroke="#ff0000" stroke-width="2.9"/>
<circle cx="776.4" cy="378.5" r="5.0" fill="#fff" stroke="#ff0000" stroke-width="2.9"/>
<circle cx="778.0" cy="377.1" r="5.0" fill="#fff" stroke="#ff0000" stroke-width="2.9"/>
<circle cx="779.0" cy="377.6" r="5.0" fill="#fff" stroke="#ff0000" stroke-width="2.9"/>
<circle cx="779.8" cy="377.4" r="5.0" fill="#fff" stroke="#ff0000" stroke-width="2.9"/>
<circle cx="781.0" cy="378.1" r="5.0" fill="#fff" stroke="#ff0000" stroke-width="2.9"/>
<circle cx="781.5" cy="377.3" r="5.0" fill="#fff" stroke="#ff0000" stroke-width="2.9"/>
<circle cx="783.1" cy="377.3" r="5.0" fill="#fff" stroke="#ff0000" stroke-width="2.9"/>
<circle cx="784.0" cy="378.3" r="5.0" fill="#fff" stroke="#ff0000" stroke-width="2.9"/>
<circle cx="784.7" cy="378.0" r="5.0" fill="#fff" stroke="#ff0000" stroke-width="2.9"/>
<circle cx="786.0" cy="377.3" r="5.0" fill="#fff" stroke="#ff0000" stroke-width="2.9"/>
<circle cx="787.3" cy="377.2" r="5.0" fill="#fff" stroke="#ff0000" stroke-width="2.9"/>
<circle cx="788.4" cy="377.7" r="5.0" fill="#fff" stroke="#ff0000" stroke-width="2.9"/>
<circle cx="789.0" cy="377.4" r="5.0" fill="#fff" stroke="#ff0000" stroke-width="2.9"/>
<circle cx="790.4" cy="379.0" r="5.0" fill="#fff" stroke="#ff0000" stroke-width="2.9"/>
<circle cx="790.9" cy="378.2" r="5.0" fill="#fff" stroke="#ff0000" stroke-width="2.9"/>
<circle cx="791.9" cy="377.6" r="5.0" fill="#fff" stroke="#ff0000" stroke-width="2.9"/>
<circle cx="793.0" cy="378.0" r="5.0" fill="#fff" stroke="#ff0000" stroke-width="2.9"/>
<circle cx="794.0" cy="377.7" r="5.0" fill="#fff" stroke="#ff0000" stroke-width="2.9"/>
<circle cx="795.7" cy="376.7" r="5.0" fill="#fff" stroke="#ff0000" stroke-width="2.9"/>
<circle cx="796.0" cy="377.6" r="5.0" fill="#fff" stroke="#ff0000" stroke-width="2.9"/>
<circle cx="797.0" cy="377.1" r="5.0" fill="#fff" stroke="#ff0000" stroke-width="2.9"/>
<circle cx="798.7" cy="375.5" r="5.0" fill="#fff" stroke="#ff0000" stroke-width="2.9"/>
<circle cx="799.4" cy="376.8" r="5.0" fill="#fff" stroke="#ff0000" stroke-width="2.9"/>
<circle cx="800.2" cy="376.1" r="5.0" fill="#fff" stroke="#ff0000" stroke-width="2.9"/>
<circle cx="801.6" cy="374.2" r="5.0" fill="#fff" stroke="#ff0000" stroke-width="2.9"/>
<circle cx="802.3" cy="375.5" r="5.0" fill="#fff" stroke="#ff0000" stroke-width="2.9"/>
<circle cx="803.2" cy="374.0" r="5.0" fill="#fff" stroke="#ff0000" stroke-width="2.9"/>
<circle cx="804.2" cy="373.4" r="5.0" fill="#fff" stroke="#ff0000" stroke-width="2.9"/>
<circle cx="805.4" cy="374.0" r="5.0" fill="#fff" stroke="#ff0000" stroke-width="2.9"/>
<circle cx="806.3" cy="372.3" r="5.0" fill="#fff" stroke="#ff0000" stroke-width="2.9"/>
<circle cx="807.7" cy="372.1" r="5.0" fill="#fff" stroke="#ff0000" stroke-width="2.9"/>
<circle cx="808.7" cy="371.5" r="5.0" fill="#fff" stroke="#ff0000" stroke-width="2.9"/>
<circle cx="809.5" cy="371.8" r="5.0" fill="#fff" stroke="#ff0000" stroke-width="2.9"/>
<circle cx="810.9" cy="372.5" r="5.0" fill="#fff" stroke="#ff0000" stroke-width="2.9"/>
<circle cx="811.5" cy="371.6" r="5.0" fill="#fff" stroke="#ff0000" stroke-width="2.9"/>
<circle cx="813.1" cy="371.3" r="5.0" fill="#fff" stroke="#ff0000" stroke-width="2.9"/>
<circle cx="814.1" cy="371.7" r="5.0" fill="#fff" stroke="#ff0000" stroke-width="2.9"/>
<circle cx="814.7" cy="371.0" r="5.0" fill="#fff" stroke="#ff0000" stroke-width="2.9"/>
<circle cx="815.9" cy="369.9" r="5.0" fill="#fff" stroke="#ff0000" stroke-width="2.9"/>
<circle cx="817.1" cy="371.0" r="5.0" fill="#fff" stroke="#ff0000" stroke-width="2.9"/>
<circle cx="817.6" cy="370.9" r="5.0" fill="#fff" stroke="#ff0000" stroke-width="2.9"/>
<circle cx="818.6" cy="369.6" r="5.0" fill="#fff" stroke="#ff0000" stroke-width="2.9"/>
<circle cx="819.7" cy="369.3" r="5.0" fill="#fff" stroke="#ff0000" stroke-width="2.9"/>
<circle cx="821.1" cy="369.3" r="5.0" fill="#fff" stroke="#ff0000" stroke-width="2.9"/>
<circle cx="822.0" cy="369.1" r="5.0" fill="#fff" stroke="#ff0000" stroke-width="2.9"/>
<circle cx="823.3" cy="369.2" r="5.0" fill="#fff" stroke="#ff0000" stroke-width="2.9"/>
<circle cx="823.9" cy="368.8" r="5.0" fill="#fff" stroke="#ff0000" stroke-width="2.9"/>
<circle cx="824.8" cy="368.7" r="5.0" fill="#fff" stroke="#ff0000" stroke-width="2.9"/>
<circle cx="825.8" cy="368.3" r="5.0" fill="#fff" stroke="#ff0000" stroke-width="2.9"/>
<circle cx="827.0" cy="367.1" r="5.0" fill="#fff" stroke="#ff0000" stroke-width="2.9"/>
<circle cx="828.3" cy="367.4" r="5.0" fill="#fff" stroke="#ff0000" stroke-width="2.9"/>
<circle cx="828.9" cy="368.1" r="5.0" fill="#fff" stroke="#ff0000" stroke-width="2.9"/>
<circle cx="830.1" cy="367.6" r="5.0" fill="#fff" stroke="#ff0000" stroke-width="2.9"/>
<circle cx="831.3" cy="367.7" r="5.0" fill="#fff" stroke="#ff0000" stroke-width="2.9"/>
<circle cx="832.2" cy="366.1" r="5.0" fill="#fff" stroke="#ff0000" stroke-width="2.9"/>
<circle cx="833.3" cy="367.0" r="5.0" fill="#fff" stroke="#ff0000" stroke-width="2.9"/>
<circle cx="834.3" cy="367.1" r="5.0" fill="#fff" stroke="#ff0000" stroke-width="2.9"/>
<circle cx="835.4" cy="365.6" r="5.0" fill="#fff" stroke="#ff0000" stroke-width="2.9"/>
<circle cx="836.6" cy="366.1" r="5.0" fill="#fff" stroke="#ff0000" stroke-width="2.9"/>
<circle cx="837.6" cy="364.8" r="5.0" fill="#fff" stroke="#ff0000" stroke-width="2.9"/>
<circle cx="838.6" cy="365.7" r="5.0" fill="#fff" stroke="#ff0000" stroke-width="2.9"/>
<circle cx="839.3" cy="364.4" r="5.0" fill="#fff" stroke="#ff0000" stroke-width="2.9"/>
<circle cx="840.6" cy="365.4" r="5.0" fill="#fff" stroke="#ff0000" stroke-width="2.9"/>
<circle cx="841.3" cy="365.5" r="5.0" fill="#fff" stroke="#ff0000" stroke-width="2.9"/>
<circle cx="842.6" cy="364.2" r="5.0" fill="#fff" stroke="#ff0000" stroke-width="2.9"/>
<circle cx="843.8" cy="363.6" r="5.0" fill="#fff" stroke="#ff0000" stroke-width="2.9"/>
<circle cx="845.0" cy="365.0" r="5.0" fill="#fff" stroke="#ff0000" stroke-width="2.9"/>
<circle cx="845.4" cy="363.6" r="5.0" fill="#fff" stroke="#ff0000" stroke-width="2.9"/>
<circle cx="846.5" cy="363.0" r="5.0" fill="#fff" stroke="#ff0000" stroke-width="2.9"/>
<circle cx="848.1" cy="363.9" r="5.0" fill="#fff" stroke="#ff0000" stroke-width="2.9"/>
<circle cx="848.7" cy="362.3" r="5.0" fill="#fff" stroke="#ff0000" stroke-width="2.9"/>
<circle cx="850.0" cy="362.9" r="5.0" fill="#fff" stroke="#ff0000" stroke-width="2.9"/>
<circle cx="851.1" cy="363.3" r="5.0" fill="#fff" stroke="#ff0000" stroke-width="2.9"/>
<circle cx="852.2" cy="362.4" r="5.0" fill="#fff" stroke="#ff0000" stroke-width="2.9"/>
<circle cx="853.1" cy="363.1" r="5.0" fill="#fff" stroke="#ff0000" stroke-width="2.9"/>
<circle cx="854.0" cy="362.0" r="5.0" fill="#fff" stroke="#ff0000" stroke-width="2.9"/>
<circle cx="854.9" cy="362.1" r="5.0" fill="#fff" stroke="#ff0000" stroke-width="2.9"/>
<circle cx="856.1" cy="362.0" r="5.0" fill="#fff" stroke="#ff0000" stroke-width="2.9"/>
<circle cx="857.3" cy="360.5" r="5.0" fill="#fff" stroke="#ff0000" stroke-width="2.9"/>
<circle cx="858.4" cy="361.5" r="5.0" fill="#fff" stroke="#ff0000" stroke-width="2.9"/>
<circle cx="858.9" cy="360.6" r="5.0" fill="#fff" stroke="#ff0000" stroke-width="2.9"/>
<circle cx="860.0" cy="360.9" r="5.0" fill="#fff" stroke="#ff0000" stroke-width="2.9"/>
<circle cx="861.6" cy="360.1" r="5.0" fill="#fff" stroke="#ff0000" stroke-width="2.9"/>
<circle cx="862.1" cy="360.0" r="5.0" fill="#fff" stroke="#ff0000" stroke-width="2.9"/>
<circle cx="863.6" cy="359.1" r="5.0" fill="#fff" stroke="#ff0000" stroke-width="2.9"/>
<circle cx="864.5" cy="359.1" r="5.0" fill="#fff" stroke="#ff0000" stroke-width="2.9"/>
<circle cx="865.5" cy="360.0" r="5.0" fill="#fff" stroke="#ff0000" stroke-width="2.9"/>
<circle cx="866.3" cy="359.7" r="5.0" fill="#fff" stroke="#ff0000" stroke-width="2.9"/>
<circle cx="867.5" cy="358.9" r="5.0" fill="#fff" stroke="#ff0000" stroke-width="2.9"/>
<circle cx="868.5" cy="357.7" r="5.0" fill="#fff" stroke="#ff0000" stroke-width="2.9"/>
<circle cx="869.2" cy="358.5" r="5.0" fill="#fff" stroke="#ff0000" stroke-width="2.9"/>
<circle cx="870.8" cy="357.1" r="5.0" fill="#fff" stroke="#ff0000" stroke-width="2.9"/>
<circle cx="871.6" cy="358.6" r="5.0" fill="#fff" stroke="#ff0000" stroke-width="2.9"/>
<circle cx="872.7" cy="358.0" r="5.0" fill="#fff" stroke="#ff0000" stroke-width="2.9"/>
<circle cx="873.9" cy="357.2" r="5.0" fill="#fff" stroke="#ff0000" stroke-width="2.9"/>
<circle cx="874.7" cy="357.7" r="5.0" fill="#fff" stroke="#ff0000" stroke-width="2.9"/>
<circle cx="875.3" cy="357.0" r="5.0" fill="#fff" stroke="#ff0000" stroke-width="2.9"/>
<circle cx="876.9" cy="357.1" r="5.0" fill="#fff" stroke="#ff0000" stroke-width="2.9"/>
<circle cx="877.7" cy="356.7" r="5.0" fill="#fff" stroke="#ff0000" stroke-width="2.9"/>
<circle cx="879.1" cy="354.9" r="5.0" fill="#fff" stroke="#ff0000" stroke-width="2.9"/>
<circle cx="879.4" cy="354.9" r="5.0" fill="#fff" stroke="#ff0000" stroke-width="2.9"/>
<circle cx="881.0" cy="354.6" r="5.0" fill="#fff" stroke="#ff0000" stroke-width="2.9"/>
<circle cx="675.9" cy="18.7" r="5.0" fill="#fff" stroke="#0000ff" stroke-width="2.9"/>
<circle cx="676.3" cy="89.2" r="5.0" fill="#fff" stroke="#0000ff" stroke-width="2.9"/>
<circle cx="680.6" cy="124.0" r="5.0" fill="#fff" stroke="#0000ff" stroke-width="2.9"/>
<circle cx="677.5" cy="129.5" r="5.0" fill="#fff" stroke="#0000ff" stroke-width="2.9"/>
<circle cx="679.0" cy="159.8" r="5.0" fill="#fff" stroke="#0000ff" stroke-width="2.9"/>
<circle cx="678.0" cy="164.6" r="5.0" fill="#fff" stroke="#0000ff" stroke-width="2.9"/>
<circle cx="681.5" cy="166.0" r="5.0" fill="#fff" stroke="#0000ff" stroke-width="2.9"/>
<circle cx="679.1" cy="179.1" r="5.0" fill="#fff" stroke="#0000ff" stroke-width="2.9"/>
<circle cx="681.8" cy="260.2" r="5.0" fill="#fff" stroke="#0000ff" stroke-width="2.9"/>
<circle cx="683.3" cy="266.4" r="5.0" fill="#fff" stroke="#0000ff" stroke-width="2.9"/>
<circle cx="684.0" cy="279.4" r="5.0" fill="#fff" stroke="#0000ff" stroke-width="2.9"/>
<circle cx="684.3" cy="300.3" r="5.0" fill="#fff" stroke="#0000ff" stroke-width="2.9"/>
<circle cx="687.4" cy="309.5" r="5.0" fill="#fff" stroke="#0000ff" stroke-width="2.9"/>
<circle cx="688.4" cy="331.1" r="5.0" fill="#fff" stroke="#0000ff" stroke-width="2.9"/>
<circle cx="690.5" cy="338.3" r="5.0" fill="#fff" stroke="#0000ff" stroke-width="2.9"/>
<circle cx="694.6" cy="348.6" r="5.0" fill="#fff" stroke="#0000ff" stroke-width="2.9"/>
<circle cx="697.7" cy="357.8" r="5.0" fill="#fff" stroke="#0000ff" stroke-width="2.9"/>
<circle cx="700.8" cy="366.0" r="5.0" fill="#fff" stroke="#0000ff" stroke-width="2.9"/>
<circle cx="704.0" cy="372.0" r="5.0" fill="#fff" stroke="#0000ff" stroke-width="2.9"/>
<circle cx="708.0" cy="357.8" r="5.0" fill="#fff" stroke="#0000ff" stroke-width="2.9"/>
<circle cx="709.0" cy="365.0" r="5.0" fill="#fff" stroke="#0000ff" stroke-width="2.9"/>
<circle cx="700.8" cy="376.3" r="5.0" fill="#fff" stroke="#0000ff" stroke-width="2.9"/>
<circle cx="713.1" cy="376.3" r="5.0" fill="#fff" stroke="#0000ff" stroke-width="2.9"/>
<circle cx="692.0" cy="368.0" r="5.0" fill="#fff" stroke="#0000ff" stroke-width="2.9"/>
<circle cx="694.0" cy="376.0" r="5.0" fill="#fff" stroke="#0000ff" stroke-width="2.9"/>
<circle cx="697.0" cy="383.0" r="5.0" fill="#fff" stroke="#0000ff" stroke-width="2.9"/>
<circle cx="701.0" cy="388.0" r="5.0" fill="#fff" stroke="#0000ff" stroke-width="2.9"/>
<circle cx="706.0" cy="391.0" r="5.0" fill="#fff" stroke="#0000ff" stroke-width="2.9"/>
<circle cx="711.0" cy="393.0" r="5.0" fill="#fff" stroke="#0000ff" stroke-width="2.9"/>
<circle cx="716.0" cy="394.0" r="5.0" fill="#fff" stroke="#0000ff" stroke-width="2.9"/>
<circle cx="704.2" cy="373.4" r="5.0" fill="#fff" stroke="#0000ff" stroke-width="2.9"/>
<circle cx="704.9" cy="367.6" r="5.0" fill="#fff" stroke="#0000ff" stroke-width="2.9"/>
<circle cx="705.6" cy="380.1" r="5.0" fill="#fff" stroke="#0000ff" stroke-width="2.9"/>
<circle cx="706.2" cy="369.7" r="5.0" fill="#fff" stroke="#0000ff" stroke-width="2.9"/>
<circle cx="707.4" cy="377.9" r="5.0" fill="#fff" stroke="#0000ff" stroke-width="2.9"/>
<circle cx="707.5" cy="378.7" r="5.0" fill="#fff" stroke="#0000ff" stroke-width="2.9"/>
<circle cx="708.9" cy="373.4" r="5.0" fill="#fff" stroke="#0000ff" stroke-width="2.9"/>
<circle cx="709.5" cy="380.5" r="5.0" fill="#fff" stroke="#0000ff" stroke-width="2.9"/>
<circle cx="709.8" cy="374.5" r="5.0" fill="#fff" stroke="#0000ff" stroke-width="2.9"/>
<circle cx="711.1" cy="377.1" r="5.0" fill="#fff" stroke="#0000ff" stroke-width="2.9"/>
<circle cx="711.5" cy="381.7" r="5.0" fill="#fff" stroke="#0000ff" stroke-width="2.9"/>
<circle cx="712.2" cy="373.6" r="5.0" fill="#fff" stroke="#0000ff" stroke-width="2.9"/>
<circle cx="712.8" cy="380.2" r="5.0" fill="#fff" stroke="#0000ff" stroke-width="2.9"/>
<circle cx="714.0" cy="382.3" r="5.0" fill="#fff" stroke="#0000ff" stroke-width="2.9"/>
<circle cx="714.4" cy="377.3" r="5.0" fill="#fff" stroke="#0000ff" stroke-width="2.9"/>
<circle cx="715.5" cy="377.6" r="5.0" fill="#fff" stroke="#0000ff" stroke-width="2.9"/>
<circle cx="716.2" cy="382.0" r="5.0" fill="#fff" stroke="#0000ff" stroke-width="2.9"/>
<circle cx="716.8" cy="380.8" r="5.0" fill="#fff" stroke="#0000ff" stroke-width="2.9"/>
<circle cx="717.3" cy="378.4" r="5.0" fill="#fff" stroke="#0000ff" stroke-width="2.9"/>
<circle cx="718.4" cy="380.1" r="5.0" fill="#fff" stroke="#0000ff" stroke-width="2.9"/>
<circle cx="718.6" cy="379.3" r="5.0" fill="#fff" stroke="#0000ff" stroke-width="2.9"/>
<circle cx="720.1" cy="386.3" r="5.0" fill="#fff" stroke="#0000ff" stroke-width="2.9"/>
<circle cx="720.6" cy="382.6" r="5.0" fill="#fff" stroke="#0000ff" stroke-width="2.9"/>
<circle cx="721.5" cy="381.0" r="5.0" fill="#fff" stroke="#0000ff" stroke-width="2.9"/>
<circle cx="722.1" cy="377.9" r="5.0" fill="#fff" stroke="#0000ff" stroke-width="2.9"/>
<circle cx="722.9" cy="390.6" r="5.0" fill="#fff" stroke="#0000ff" stroke-width="2.9"/>
<circle cx="723.7" cy="379.1" r="5.0" fill="#fff" stroke="#0000ff" stroke-width="2.9"/>
<circle cx="724.3" cy="382.4" r="5.0" fill="#fff" stroke="#0000ff" stroke-width="2.9"/>
<circle cx="725.3" cy="378.6" r="5.0" fill="#fff" stroke="#0000ff" stroke-width="2.9"/>
<circle cx="725.4" cy="379.7" r="5.0" fill="#fff" stroke="#0000ff" stroke-width="2.9"/>
<circle cx="726.4" cy="390.0" r="5.0" fill="#fff" stroke="#0000ff" stroke-width="2.9"/>
<circle cx="727.3" cy="387.1" r="5.0" fill="#fff" stroke="#0000ff" stroke-width="2.9"/>
<circle cx="727.6" cy="380.8" r="5.0" fill="#fff" stroke="#0000ff" stroke-width="2.9"/>
<circle cx="728.7" cy="386.7" r="5.0" fill="#fff" stroke="#0000ff" stroke-width="2.9"/>
<circle cx="729.7" cy="386.0" r="5.0" fill="#fff" stroke="#0000ff" stroke-width="2.9"/>
<circle cx="730.1" cy="380.8" r="5.0" fill="#fff" stroke="#0000ff" stroke-width="2.9"/>
<circle cx="730.9" cy="381.8" r="5.0" fill="#fff" stroke="#0000ff" stroke-width="2.9"/>
<circle cx="732.0" cy="390.1" r="5.0" fill="#fff" stroke="#0000ff" stroke-width="2.9"/>
<circle cx="732.7" cy="380.1" r="5.0" fill="#fff" stroke="#0000ff" stroke-width="2.9"/>
<circle cx="733.5" cy="378.7" r="5.0" fill="#fff" stroke="#0000ff" stroke-width="2.9"/>
<circle cx="733.7" cy="387.6" r="5.0" fill="#fff" stroke="#0000ff" stroke-width="2.9"/>
<circle cx="734.6" cy="389.3" r="5.0" fill="#fff" stroke="#0000ff" stroke-width="2.9"/>
<circle cx="735.7" cy="386.8" r="5.0" fill="#fff" stroke="#0000ff" stroke-width="2.9"/>
<circle cx="736.3" cy="390.4" r="5.0" fill="#fff" stroke="#0000ff" stroke-width="2.9"/>
<circle cx="737.3" cy="378.9" r="5.0" fill="#fff" stroke="#0000ff" stroke-width="2.9"/>
<circle cx="738.1" cy="384.1" r="5.0" fill="#fff" stroke="#0000ff" stroke-width="2.9"/>
<circle cx="738.3" cy="389.8" r="5.0" fill="#fff" stroke="#0000ff" stroke-width="2.9"/>
<circle cx="739.6" cy="388.5" r="5.0" fill="#fff" stroke="#0000ff" stroke-width="2.9"/>
<circle cx="740.2" cy="378.6" r="5.0" fill="#fff" stroke="#0000ff" stroke-width="2.9"/>
<circle cx="740.6" cy="389.1" r="5.0" fill="#fff" stroke="#0000ff" stroke-width="2.9"/>
<circle cx="741.9" cy="382.1" r="5.0" fill="#fff" stroke="#0000ff" stroke-width="2.9"/>
<circle cx="742.5" cy="380.0" r="5.0" fill="#fff" stroke="#0000ff" stroke-width="2.9"/>
<circle cx="743.2" cy="383.1" r="5.0" fill="#fff" stroke="#0000ff" stroke-width="2.9"/>
<circle cx="743.4" cy="380.8" r="5.0" fill="#fff" stroke="#0000ff" stroke-width="2.9"/>
<circle cx="744.6" cy="384.6" r="5.0" fill="#fff" stroke="#0000ff" stroke-width="2.9"/>
<circle cx="745.4" cy="383.0" r="5.0" fill="#fff" stroke="#0000ff" stroke-width="2.9"/>
<circle cx="746.1" cy="383.4" r="5.0" fill="#fff" stroke="#0000ff" stroke-width="2.9"/>
<circle cx="747.0" cy="378.6" r="5.0" fill="#fff" stroke="#0000ff" stroke-width="2.9"/>
<circle cx="747.6" cy="386.1" r="5.0" fill="#fff" stroke="#0000ff" stroke-width="2.9"/>
<circle cx="747.9" cy="388.4" r="5.0" fill="#fff" stroke="#0000ff" stroke-width="2.9"/>
<circle cx="749.1" cy="390.9" r="5.0" fill="#fff" stroke="#0000ff" stroke-width="2.9"/>
<circle cx="749.5" cy="384.0" r="5.0" fill="#fff" stroke="#0000ff" stroke-width="2.9"/>
<circle cx="750.8" cy="390.8" r="5.0" fill="#fff" stroke="#0000ff" stroke-width="2.9"/>
<circle cx="751.4" cy="383.1" r="5.0" fill="#fff" stroke="#0000ff" stroke-width="2.9"/>
<circle cx="752.2" cy="384.4" r="5.0" fill="#fff" stroke="#0000ff" stroke-width="2.9"/>
<circle cx="752.8" cy="387.3" r="5.0" fill="#fff" stroke="#0000ff" stroke-width="2.9"/>
<circle cx="753.8" cy="378.6" r="5.0" fill="#fff" stroke="#0000ff" stroke-width="2.9"/>
<circle cx="754.4" cy="390.4" r="5.0" fill="#fff" stroke="#0000ff" stroke-width="2.9"/>
<circle cx="754.9" cy="381.6" r="5.0" fill="#fff" stroke="#0000ff" stroke-width="2.9"/>
<circle cx="755.8" cy="378.9" r="5.0" fill="#fff" stroke="#0000ff" stroke-width="2.9"/>
<circle cx="756.7" cy="384.8" r="5.0" fill="#fff" stroke="#0000ff" stroke-width="2.9"/>
<circle cx="757.4" cy="388.6" r="5.0" fill="#fff" stroke="#0000ff" stroke-width="2.9"/>
<circle cx="757.6" cy="381.0" r="5.0" fill="#fff" stroke="#0000ff" stroke-width="2.9"/>
<circle cx="758.7" cy="386.4" r="5.0" fill="#fff" stroke="#0000ff" stroke-width="2.9"/>
<circle cx="759.4" cy="382.1" r="5.0" fill="#fff" stroke="#0000ff" stroke-width="2.9"/>
<circle cx="759.9" cy="384.1" r="5.0" fill="#fff" stroke="#0000ff" stroke-width="2.9"/>
<circle cx="761.4" cy="378.9" r="5.0" fill="#fff" stroke="#0000ff" stroke-width="2.9"/>
<circle cx="761.8" cy="381.1" r="5.0" fill="#fff" stroke="#0000ff" stroke-width="2.9"/>
<circle cx="762.9" cy="389.0" r="5.0" fill="#fff" stroke="#0000ff" stroke-width="2.9"/>
<circle cx="763.0" cy="391.1" r="5.0" fill="#fff" stroke="#0000ff" stroke-width="2.9"/>
<circle cx="763.8" cy="387.5" r="5.0" fill="#fff" stroke="#0000ff" stroke-width="2.9"/>
<circle cx="764.6" cy="382.3" r="5.0" fill="#fff" stroke="#0000ff" stroke-width="2.9"/>
<circle cx="765.2" cy="382.3" r="5.0" fill="#fff" stroke="#0000ff" stroke-width="2.9"/>
<circle cx="766.2" cy="378.8" r="5.0" fill="#fff" stroke="#0000ff" stroke-width="2.9"/>
<circle cx="766.6" cy="378.6" r="5.0" fill="#fff" stroke="#0000ff" stroke-width="2.9"/>
<circle cx="768.1" cy="383.8" r="5.0" fill="#fff" stroke="#0000ff" stroke-width="2.9"/>
<circle cx="768.8" cy="384.7" r="5.0" fill="#fff" stroke="#0000ff" stroke-width="2.9"/>
<circle cx="769.3" cy="383.2" r="5.0" fill="#fff" stroke="#0000ff" stroke-width="2.9"/>
<circle cx="770.2" cy="382.8" r="5.0" fill="#fff" stroke="#0000ff" stroke-width="2.9"/>
<circle cx="771.0" cy="383.5" r="5.0" fill="#fff" stroke="#0000ff" stroke-width="2.9"/>
<circle cx="771.2" cy="383.8" r="5.0" fill="#fff" stroke="#0000ff" stroke-width="2.9"/>
<circle cx="771.9" cy="383.4" r="5.0" fill="#fff" stroke="#0000ff" stroke-width="2.9"/>
<circle cx="772.9" cy="387.5" r="5.0" fill="#fff" stroke="#0000ff" stroke-width="2.9"/>
<circle cx="774.1" cy="380.3" r="5.0" fill="#fff" stroke="#0000ff" stroke-width="2.9"/>
<circle cx="774.6" cy="389.1" r="5.0" fill="#fff" stroke="#0000ff" stroke-width="2.9"/>
<circle cx="775.4" cy="381.3" r="5.0" fill="#fff" stroke="#0000ff" stroke-width="2.9"/>
<circle cx="775.9" cy="390.3" r="5.0" fill="#fff" stroke="#0000ff" stroke-width="2.9"/>
<circle cx="776.8" cy="387.0" r="5.0" fill="#fff" stroke="#0000ff" stroke-width="2.9"/>
<circle cx="777.3" cy="388.5" r="5.0" fill="#fff" stroke="#0000ff" stroke-width="2.9"/>
<circle cx="778.3" cy="388.3" r="5.0" fill="#fff" stroke="#0000ff" stroke-width="2.9"/>
<circle cx="778.8" cy="381.1" r="5.0" fill="#fff" stroke="#0000ff" stroke-width="2.9"/>
<circle cx="779.5" cy="385.8" r="5.0" fill="#fff" stroke="#0000ff" stroke-width="2.9"/>
<circle cx="780.2" cy="382.5" r="5.0" fill="#fff" stroke="#0000ff" stroke-width="2.9"/>
<circle cx="781.4" cy="381.6" r="5.0" fill="#fff" stroke="#0000ff" stroke-width="2.9"/>
<circle cx="781.8" cy="381.0" r="5.0" fill="#fff" stroke="#0000ff" stroke-width="2.9"/>
<circle cx="782.7" cy="387.7" r="5.0" fill="#fff" stroke="#0000ff" stroke-width="2.9"/>
<circle cx="783.3" cy="384.8" r="5.0" fill="#fff" stroke="#0000ff" stroke-width="2.9"/>
<circle cx="784.6" cy="384.4" r="5.0" fill="#fff" stroke="#0000ff" stroke-width="2.9"/>
<circle cx="784.8" cy="388.7" r="5.0" fill="#fff" stroke="#0000ff" stroke-width="2.9"/>
<circle cx="786.1" cy="387.5" r="5.0" fill="#fff" stroke="#0000ff" stroke-width="2.9"/>
<circle cx="786.4" cy="384.2" r="5.0" fill="#fff" stroke="#0000ff" stroke-width="2.9"/>
<circle cx="787.1" cy="389.7" r="5.0" fill="#fff" stroke="#0000ff" stroke-width="2.9"/>
<circle cx="787.6" cy="389.0" r="5.0" fill="#fff" stroke="#0000ff" stroke-width="2.9"/>
<circle cx="788.6" cy="379.5" r="5.0" fill="#fff" stroke="#0000ff" stroke-width="2.9"/>
<circle cx="789.8" cy="387.8" r="5.0" fill="#fff" stroke="#0000ff" stroke-width="2.9"/>
<circle cx="789.9" cy="381.3" r="5.0" fill="#fff" stroke="#0000ff" stroke-width="2.9"/>
<circle cx="790.7" cy="387.1" r="5.0" fill="#fff" stroke="#0000ff" stroke-width="2.9"/>
<circle cx="792.1" cy="381.1" r="5.0" fill="#fff" stroke="#0000ff" stroke-width="2.9"/>
<circle cx="792.4" cy="377.6" r="5.0" fill="#fff" stroke="#0000ff" stroke-width="2.9"/>
<circle cx="792.9" cy="377.8" r="5.0" fill="#fff" stroke="#0000ff" stroke-width="2.9"/>
<circle cx="794.2" cy="379.5" r="5.0" fill="#fff" stroke="#0000ff" stroke-width="2.9"/>
<circle cx="794.7" cy="380.1" r="5.0" fill="#fff" stroke="#0000ff" stroke-width="2.9"/>
<circle cx="795.5" cy="383.5" r="5.0" fill="#fff" stroke="#0000ff" stroke-width="2.9"/>
<circle cx="796.1" cy="379.4" r="5.0" fill="#fff" stroke="#0000ff" stroke-width="2.9"/>
<circle cx="797.3" cy="387.9" r="5.0" fill="#fff" stroke="#0000ff" stroke-width="2.9"/>
<circle cx="797.7" cy="380.6" r="5.0" fill="#fff" stroke="#0000ff" stroke-width="2.9"/>
<circle cx="798.5" cy="382.2" r="5.0" fill="#fff" stroke="#0000ff" stroke-width="2.9"/>
<circle cx="799.6" cy="380.4" r="5.0" fill="#fff" stroke="#0000ff" stroke-width="2.9"/>
<circle cx="799.9" cy="386.8" r="5.0" fill="#fff" stroke="#0000ff" stroke-width="2.9"/>
<circle cx="800.9" cy="375.9" r="5.0" fill="#fff" stroke="#0000ff" stroke-width="2.9"/>
<circle cx="801.5" cy="384.4" r="5.0" fill="#fff" stroke="#0000ff" stroke-width="2.9"/>
<circle cx="802.3" cy="376.9" r="5.0" fill="#fff" stroke="#0000ff" stroke-width="2.9"/>
<circle cx="802.9" cy="382.6" r="5.0" fill="#fff" stroke="#0000ff" stroke-width="2.9"/>
<circle cx="803.8" cy="373.0" r="5.0" fill="#fff" stroke="#0000ff" stroke-width="2.9"/>
<circle cx="804.4" cy="382.1" r="5.0" fill="#fff" stroke="#0000ff" stroke-width="2.9"/>
<circle cx="804.9" cy="377.4" r="5.0" fill="#fff" stroke="#0000ff" stroke-width="2.9"/>
<circle cx="806.0" cy="375.8" r="5.0" fill="#fff" stroke="#0000ff" stroke-width="2.9"/>
<circle cx="806.9" cy="372.4" r="5.0" fill="#fff" stroke="#0000ff" stroke-width="2.9"/>
<circle cx="807.8" cy="381.1" r="5.0" fill="#fff" stroke="#0000ff" stroke-width="2.9"/>
<circle cx="808.6" cy="377.8" r="5.0" fill="#fff" stroke="#0000ff" stroke-width="2.9"/>
<circle cx="809.0" cy="374.8" r="5.0" fill="#fff" stroke="#0000ff" stroke-width="2.9"/>
<circle cx="809.4" cy="377.3" r="5.0" fill="#fff" stroke="#0000ff" stroke-width="2.9"/>
<circle cx="810.3" cy="381.6" r="5.0" fill="#fff" stroke="#0000ff" stroke-width="2.9"/>
<circle cx="811.0" cy="370.7" r="5.0" fill="#fff" stroke="#0000ff" stroke-width="2.9"/>
<circle cx="812.2" cy="382.8" r="5.0" fill="#fff" stroke="#0000ff" stroke-width="2.9"/>
<circle cx="812.7" cy="381.2" r="5.0" fill="#fff" stroke="#0000ff" stroke-width="2.9"/>
<circle cx="813.7" cy="379.9" r="5.0" fill="#fff" stroke="#0000ff" stroke-width="2.9"/>
<circle cx="814.3" cy="376.1" r="5.0" fill="#fff" stroke="#0000ff" stroke-width="2.9"/>
<circle cx="815.1" cy="379.7" r="5.0" fill="#fff" stroke="#0000ff" stroke-width="2.9"/>
<circle cx="816.1" cy="380.7" r="5.0" fill="#fff" stroke="#0000ff" stroke-width="2.9"/>
<circle cx="816.7" cy="381.1" r="5.0" fill="#fff" stroke="#0000ff" stroke-width="2.9"/>
<circle cx="816.9" cy="369.0" r="5.0" fill="#fff" stroke="#0000ff" stroke-width="2.9"/>
<circle cx="817.8" cy="368.8" r="5.0" fill="#fff" stroke="#0000ff" stroke-width="2.9"/>
<circle cx="818.8" cy="371.1" r="5.0" fill="#fff" stroke="#0000ff" stroke-width="2.9"/>
<circle cx="819.8" cy="369.7" r="5.0" fill="#fff" stroke="#0000ff" stroke-width="2.9"/>
<circle cx="820.5" cy="369.1" r="5.0" fill="#fff" stroke="#0000ff" stroke-width="2.9"/>
<circle cx="821.4" cy="372.9" r="5.0" fill="#fff" stroke="#0000ff" stroke-width="2.9"/>
<circle cx="821.6" cy="372.2" r="5.0" fill="#fff" stroke="#0000ff" stroke-width="2.9"/>
<circle cx="822.7" cy="379.1" r="5.0" fill="#fff" stroke="#0000ff" stroke-width="2.9"/>
<circle cx="823.4" cy="369.6" r="5.0" fill="#fff" stroke="#0000ff" stroke-width="2.9"/>
<circle cx="823.9" cy="374.0" r="5.0" fill="#fff" stroke="#0000ff" stroke-width="2.9"/>
<circle cx="824.6" cy="379.7" r="5.0" fill="#fff" stroke="#0000ff" stroke-width="2.9"/>
<circle cx="825.7" cy="376.5" r="5.0" fill="#fff" stroke="#0000ff" stroke-width="2.9"/>
<circle cx="826.0" cy="374.2" r="5.0" fill="#fff" stroke="#0000ff" stroke-width="2.9"/>
<circle cx="826.8" cy="371.3" r="5.0" fill="#fff" stroke="#0000ff" stroke-width="2.9"/>
<circle cx="828.0" cy="370.3" r="5.0" fill="#fff" stroke="#0000ff" stroke-width="2.9"/>
<circle cx="828.6" cy="370.0" r="5.0" fill="#fff" stroke="#0000ff" stroke-width="2.9"/>
<circle cx="829.5" cy="368.8" r="5.0" fill="#fff" stroke="#0000ff" stroke-width="2.9"/>
<circle cx="830.3" cy="367.3" r="5.0" fill="#fff" stroke="#0000ff" stroke-width="2.9"/>
<circle cx="830.5" cy="375.1" r="5.0" fill="#fff" stroke="#0000ff" stroke-width="2.9"/>
<circle cx="831.4" cy="368.5" r="5.0" fill="#fff" stroke="#0000ff" stroke-width="2.9"/>
<circle cx="832.0" cy="373.1" r="5.0" fill="#fff" stroke="#0000ff" stroke-width="2.9"/>
<circle cx="832.8" cy="377.9" r="5.0" fill="#fff" stroke="#0000ff" stroke-width="2.9"/>
<circle cx="833.9" cy="372.4" r="5.0" fill="#fff" stroke="#0000ff" stroke-width="2.9"/>
<circle cx="834.6" cy="368.8" r="5.0" fill="#fff" stroke="#0000ff" stroke-width="2.9"/>
<circle cx="835.2" cy="376.3" r="5.0" fill="#fff" stroke="#0000ff" stroke-width="2.9"/>
<circle cx="836.3" cy="367.6" r="5.0" fill="#fff" stroke="#0000ff" stroke-width="2.9"/>
<circle cx="836.6" cy="375.6" r="5.0" fill="#fff" stroke="#0000ff" stroke-width="2.9"/>
<circle cx="837.3" cy="369.8" r="5.0" fill="#fff" stroke="#0000ff" stroke-width="2.9"/>
<circle cx="837.9" cy="376.2" r="5.0" fill="#fff" stroke="#0000ff" stroke-width="2.9"/>
<circle cx="838.7" cy="373.9" r="5.0" fill="#fff" stroke="#0000ff" stroke-width="2.9"/>
<circle cx="839.4" cy="368.5" r="5.0" fill="#fff" stroke="#0000ff" stroke-width="2.9"/>
<circle cx="840.8" cy="366.5" r="5.0" fill="#fff" stroke="#0000ff" stroke-width="2.9"/>
<circle cx="841.5" cy="367.6" r="5.0" fill="#fff" stroke="#0000ff" stroke-width="2.9"/>
<circle cx="842.3" cy="369.0" r="5.0" fill="#fff" stroke="#0000ff" stroke-width="2.9"/>
<circle cx="842.8" cy="375.1" r="5.0" fill="#fff" stroke="#0000ff" stroke-width="2.9"/>
<circle cx="843.2" cy="369.3" r="5.0" fill="#fff" stroke="#0000ff" stroke-width="2.9"/>
<circle cx="844.6" cy="367.7" r="5.0" fill="#fff" stroke="#0000ff" stroke-width="2.9"/>
<circle cx="845.1" cy="375.9" r="5.0" fill="#fff" stroke="#0000ff" stroke-width="2.9"/>
<circle cx="845.9" cy="375.8" r="5.0" fill="#fff" stroke="#0000ff" stroke-width="2.9"/>
<circle cx="846.5" cy="372.5" r="5.0" fill="#fff" stroke="#0000ff" stroke-width="2.9"/>
<circle cx="846.9" cy="375.9" r="5.0" fill="#fff" stroke="#0000ff" stroke-width="2.9"/>
<circle cx="847.9" cy="370.4" r="5.0" fill="#fff" stroke="#0000ff" stroke-width="2.9"/>
<circle cx="848.8" cy="367.4" r="5.0" fill="#fff" stroke="#0000ff" stroke-width="2.9"/>
<circle cx="849.9" cy="371.7" r="5.0" fill="#fff" stroke="#0000ff" stroke-width="2.9"/>
<circle cx="850.3" cy="364.9" r="5.0" fill="#fff" stroke="#0000ff" stroke-width="2.9"/>
<circle cx="851.2" cy="371.1" r="5.0" fill="#fff" stroke="#0000ff" stroke-width="2.9"/>
<circle cx="852.1" cy="370.0" r="5.0" fill="#fff" stroke="#0000ff" stroke-width="2.9"/>
<circle cx="852.4" cy="370.5" r="5.0" fill="#fff" stroke="#0000ff" stroke-width="2.9"/>
<circle cx="853.0" cy="365.2" r="5.0" fill="#fff" stroke="#0000ff" stroke-width="2.9"/>
<circle cx="854.1" cy="370.4" r="5.0" fill="#fff" stroke="#0000ff" stroke-width="2.9"/>
<circle cx="855.1" cy="362.3" r="5.0" fill="#fff" stroke="#0000ff" stroke-width="2.9"/>
<circle cx="855.8" cy="366.9" r="5.0" fill="#fff" stroke="#0000ff" stroke-width="2.9"/>
<circle cx="855.9" cy="366.6" r="5.0" fill="#fff" stroke="#0000ff" stroke-width="2.9"/>
<circle cx="857.1" cy="366.1" r="5.0" fill="#fff" stroke="#0000ff" stroke-width="2.9"/>
<circle cx="857.6" cy="371.7" r="5.0" fill="#fff" stroke="#0000ff" stroke-width="2.9"/>
<circle cx="858.4" cy="373.3" r="5.0" fill="#fff" stroke="#0000ff" stroke-width="2.9"/>
<circle cx="859.1" cy="361.9" r="5.0" fill="#fff" stroke="#0000ff" stroke-width="2.9"/>
<circle cx="860.0" cy="369.9" r="5.0" fill="#fff" stroke="#0000ff" stroke-width="2.9"/>
<circle cx="860.6" cy="363.4" r="5.0" fill="#fff" stroke="#0000ff" stroke-width="2.9"/>
<circle cx="861.5" cy="370.7" r="5.0" fill="#fff" stroke="#0000ff" stroke-width="2.9"/>
<circle cx="862.3" cy="367.6" r="5.0" fill="#fff" stroke="#0000ff" stroke-width="2.9"/>
<circle cx="862.9" cy="368.1" r="5.0" fill="#fff" stroke="#0000ff" stroke-width="2.9"/>
<circle cx="864.0" cy="360.4" r="5.0" fill="#fff" stroke="#0000ff" stroke-width="2.9"/>
<circle cx="864.9" cy="364.8" r="5.0" fill="#fff" stroke="#0000ff" stroke-width="2.9"/>
<circle cx="865.2" cy="365.4" r="5.0" fill="#fff" stroke="#0000ff" stroke-width="2.9"/>
<circle cx="866.2" cy="364.8" r="5.0" fill="#fff" stroke="#0000ff" stroke-width="2.9"/>
<circle cx="866.8" cy="362.4" r="5.0" fill="#fff" stroke="#0000ff" stroke-width="2.9"/>
<circle cx="867.3" cy="364.9" r="5.0" fill="#fff" stroke="#0000ff" stroke-width="2.9"/>
<circle cx="867.9" cy="358.6" r="5.0" fill="#fff" stroke="#0000ff" stroke-width="2.9"/>
<circle cx="869.2" cy="359.7" r="5.0" fill="#fff" stroke="#0000ff" stroke-width="2.9"/>
<circle cx="869.8" cy="369.5" r="5.0" fill="#fff" stroke="#0000ff" stroke-width="2.9"/>
<circle cx="870.8" cy="358.7" r="5.0" fill="#fff" stroke="#0000ff" stroke-width="2.9"/>
<circle cx="871.2" cy="364.2" r="5.0" fill="#fff" stroke="#0000ff" stroke-width="2.9"/>
<circle cx="871.9" cy="361.6" r="5.0" fill="#fff" stroke="#0000ff" stroke-width="2.9"/>
<circle cx="873.1" cy="358.6" r="5.0" fill="#fff" stroke="#0000ff" stroke-width="2.9"/>
<circle cx="873.8" cy="366.5" r="5.0" fill="#fff" stroke="#0000ff" stroke-width="2.9"/>
<circle cx="874.0" cy="360.9" r="5.0" fill="#fff" stroke="#0000ff" stroke-width="2.9"/>
<circle cx="875.0" cy="367.6" r="5.0" fill="#fff" stroke="#0000ff" stroke-width="2.9"/>
<circle cx="875.4" cy="367.3" r="5.0" fill="#fff" stroke="#0000ff" stroke-width="2.9"/>
<circle cx="876.1" cy="359.3" r="5.0" fill="#fff" stroke="#0000ff" stroke-width="2.9"/>
<circle cx="876.9" cy="367.7" r="5.0" fill="#fff" stroke="#0000ff" stroke-width="2.9"/>
<circle cx="878.4" cy="360.5" r="5.0" fill="#fff" stroke="#0000ff" stroke-width="2.9"/>
<circle cx="878.9" cy="355.3" r="5.0" fill="#fff" stroke="#0000ff" stroke-width="2.9"/>
<circle cx="879.5" cy="358.9" r="5.0" fill="#fff" stroke="#0000ff" stroke-width="2.9"/>
<circle cx="880.3" cy="358.1" r="5.0" fill="#fff" stroke="#0000ff" stroke-width="2.9"/>
<circle cx="881.1" cy="360.1" r="5.0" fill="#fff" stroke="#0000ff" stroke-width="2.9"/>
</g>
<ellipse cx="689.9" cy="248.2" rx="25.6" ry="30.4" fill="none" stroke="#000" stroke-width="2.4" stroke-dasharray="8.5 6.5"/>
<ellipse cx="776" cy="372.3" rx="25.3" ry="30.9" fill="none" stroke="#000" stroke-width="2.4" stroke-dasharray="8.5 6.5"/>
<line x1="690.2" y1="217.7" x2="862" y2="217.7" stroke="#000" stroke-width="2.3" stroke-dasharray="8.6 6.8"/>
<polygon points="874.6,217.7 861.8,211.4 861.8,224" fill="#000"/>
<line x1="776" y1="403.8" x2="604" y2="403.8" stroke="#000" stroke-width="2.3" stroke-dasharray="8.6 6.8"/>
<polygon points="590.7,403.8 603.9,397.6 603.9,410.1" fill="#000"/>
<rect x="568.40" y="5.10" width="316.10" height="4.80" fill="#000"/>
<rect x="568.40" y="450.90" width="316.10" height="4.80" fill="#000"/>
<rect x="568.40" y="5.10" width="4.80" height="450.60" fill="#000"/>
<rect x="879.70" y="5.10" width="4.80" height="450.60" fill="#000"/>
<rect x="570.80" y="351.97" width="7.70" height="4.70" fill="#000"/>
<rect x="570.80" y="252.69" width="7.70" height="4.70" fill="#000"/>
<rect x="570.80" y="153.41" width="7.70" height="4.70" fill="#000"/>
<rect x="570.80" y="54.13" width="7.70" height="4.70" fill="#000"/>
<rect x="570.80" y="401.61" width="6.40" height="4.70" fill="#000"/>
<rect x="570.80" y="302.33" width="6.40" height="4.70" fill="#000"/>
<rect x="570.80" y="203.05" width="6.40" height="4.70" fill="#000"/>
<rect x="570.80" y="103.77" width="6.40" height="4.70" fill="#000"/>
<rect x="874.40" y="376.15" width="7.70" height="4.70" fill="#000"/>
<rect x="874.40" y="302.05" width="7.70" height="4.70" fill="#000"/>
<rect x="874.40" y="227.95" width="7.70" height="4.70" fill="#000"/>
<rect x="874.40" y="153.85" width="7.70" height="4.70" fill="#000"/>
<rect x="874.40" y="79.75" width="7.70" height="4.70" fill="#000"/>
<rect x="875.70" y="413.20" width="6.40" height="4.70" fill="#000"/>
<rect x="875.70" y="339.10" width="6.40" height="4.70" fill="#000"/>
<rect x="875.70" y="265.00" width="6.40" height="4.70" fill="#000"/>
<rect x="875.70" y="190.90" width="6.40" height="4.70" fill="#000"/>
<rect x="875.70" y="116.80" width="6.40" height="4.70" fill="#000"/>
<rect x="875.70" y="42.70" width="6.40" height="4.70" fill="#000"/>
<rect x="773.60" y="445.80" width="4.80" height="7.50" fill="#000"/>
<rect x="618.95" y="447.30" width="4.50" height="6.00" fill="#000"/>
<rect x="722.15" y="447.30" width="4.50" height="6.00" fill="#000"/>
<rect x="825.35" y="447.30" width="4.50" height="6.00" fill="#000"/>
<text transform="translate(540.53,465.42) scale(1.0430,1)" fill="#000" ><tspan x="0.00" y="0.00" font-size="37.75" font-weight="bold">0</tspan></text>
<text transform="translate(498.51,366.14) scale(1.0155,1)" fill="#000" ><tspan x="20.95" y="0.00" font-size="37.75" font-weight="bold">00</tspan></text><g transform="translate(498.51,366.14) scale(1.0155,1)" fill="#000"><path transform="translate(0.00,0.00) scale(37.746)" d="M0.38,0 L0.38,-0.716 L0.262,-0.716 Q0.215,-0.60 0.07,-0.545 L0.07,-0.418 Q0.17,-0.452 0.233,-0.505 L0.233,0 Z"/></g>
<text transform="translate(499.68,266.86) scale(0.9964,1)" fill="#000" ><tspan x="0.00" y="0.00" font-size="37.75" font-weight="bold">200</tspan></text>
<text transform="translate(500.57,167.58) scale(0.9819,1)" fill="#000" ><tspan x="0.00" y="0.00" font-size="37.75" font-weight="bold">300</tspan></text>
<text transform="translate(498.93,68.30) scale(1.0087,1)" fill="#000" ><tspan x="0.00" y="0.00" font-size="37.75" font-weight="bold">400</tspan></text>
<text transform="translate(890.23,389.11) scale(0.9891,1)" fill="#000" ><tspan x="0.00" y="0.00" font-size="39.43" font-weight="bold">5</tspan></text>
<text transform="translate(888.81,315.01) scale(1.0239,1)" fill="#000" ><tspan x="21.57" y="0.00" font-size="38.87" font-weight="bold">0</tspan></text><g transform="translate(888.81,315.01) scale(1.0239,1)" fill="#000"><path transform="translate(0.00,0.00) scale(38.873)" d="M0.38,0 L0.38,-0.716 L0.262,-0.716 Q0.215,-0.60 0.07,-0.545 L0.07,-0.418 Q0.17,-0.452 0.233,-0.505 L0.233,0 Z"/></g>
<text transform="translate(888.85,240.91) scale(0.9946,1)" fill="#000" ><tspan x="21.88" y="0.00" font-size="39.43" font-weight="bold">5</tspan></text><g transform="translate(888.85,240.91) scale(0.9946,1)" fill="#000"><path transform="translate(0.00,0.00) scale(39.429)" d="M0.38,0 L0.38,-0.716 L0.262,-0.716 Q0.215,-0.60 0.07,-0.545 L0.07,-0.418 Q0.17,-0.452 0.233,-0.505 L0.233,0 Z"/></g>
<text transform="translate(890.05,166.81) scale(0.9942,1)" fill="#000" ><tspan x="0.00" y="0.00" font-size="38.87" font-weight="bold">20</tspan></text>
<text transform="translate(890.07,92.71) scale(0.9800,1)" fill="#000" ><tspan x="0.00" y="0.00" font-size="38.87" font-weight="bold">25</tspan></text>
<text transform="translate(663.24,491.90) scale(0.7125,1)" fill="#000" ></text><g transform="translate(663.24,491.90) scale(0.7125,1)" fill="#000"><path transform="translate(0.00,0.00) scale(40.145)" d="M0.38,0 L0.38,-0.716 L0.262,-0.716 Q0.215,-0.60 0.07,-0.545 L0.07,-0.418 Q0.17,-0.452 0.233,-0.505 L0.233,0 Z"/></g>
<text transform="translate(765.61,491.90) scale(1.0056,1)" fill="#000" ><tspan x="0.00" y="0.00" font-size="39.57" font-weight="bold">2</tspan></text>
<text transform="translate(869.76,491.51) scale(0.9683,1)" fill="#000" ><tspan x="0.00" y="0.00" font-size="39.01" font-weight="bold">3</tspan></text>
<text transform="translate(576.32,525.30) scale(1.0638,1)" fill="#000" ><tspan x="0.00" y="0.00" font-size="35.80" font-weight="bold">Forward bias (V)</tspan></text>
<text transform="translate(594.71,44.48) scale(1.0073,1)" fill="#000" ><tspan x="0.00" y="0.00" font-size="32.94" >(b)</tspan></text>
<text transform="translate(485.30,441.62) rotate(-90) scale(1.0021,1)" fill="#000" ><tspan x="0.00" y="0.00" font-size="38.00" font-weight="bold">Current density (A/cm</tspan><tspan x="397.10" y="-16.34" font-size="22.80" font-weight="bold">2</tspan><tspan x="409.83" y="0.00" font-size="38.00" font-weight="bold">)</tspan></text>
<text transform="translate(971.80,364.04) rotate(-90) scale(1.0071,1)" fill="#000" ><tspan x="0.00" y="0.00" font-size="36.90" font-weight="bold" font-style="italic">R</tspan><tspan x="26.57" y="9.59" font-size="24.35" font-weight="bold">on,sp</tspan><tspan x="91.70" y="0.00" font-size="36.90" font-weight="bold"> (mΩ•cm</tspan><tspan x="242.99" y="-15.50" font-size="22.14" font-weight="bold">2</tspan><tspan x="255.35" y="0.00" font-size="36.90" font-weight="bold">)</tspan></text>
<line x1="700.50" y1="29.60" x2="748.50" y2="29.60" stroke="#0000ff" stroke-width="4.2" stroke-linecap="round"/>
<text transform="translate(755.43,37.50) scale(1.0348,1)" fill="#000" ><tspan x="0.00" y="0.00" font-size="20.90" font-weight="bold">Control</tspan></text>
<line x1="700.50" y1="57.10" x2="748.50" y2="57.10" stroke="#9fe5bd" stroke-width="4.2" stroke-linecap="round"/>
<text transform="translate(755.55,65.00) scale(1.0219,1)" fill="#000" ><tspan x="0.00" y="0.00" font-size="20.90" font-weight="bold">200°C</tspan></text>
<line x1="700.50" y1="84.10" x2="748.50" y2="84.10" stroke="#ff0000" stroke-width="4.2" stroke-linecap="round"/>
<text transform="translate(755.98,92.00) scale(1.0145,1)" fill="#000" ><tspan x="0.00" y="0.00" font-size="20.90" font-weight="bold">400°C</tspan></text>
<line x1="700.50" y1="110.80" x2="748.50" y2="110.80" stroke="#1d6531" stroke-width="4.2" stroke-linecap="round"/>
<text transform="translate(755.55,118.70) scale(1.0219,1)" fill="#000" ><tspan x="0.00" y="0.00" font-size="20.90" font-weight="bold">600°C</tspan></text>
<line x1="700.50" y1="138.30" x2="748.50" y2="138.30" stroke="#f5a56f" stroke-width="4.2" stroke-linecap="round"/>
<text transform="translate(755.66,146.20) scale(1.0200,1)" fill="#000" ><tspan x="0.00" y="0.00" font-size="20.90" font-weight="bold">800°C</tspan></text>
<clipPath id="clipC"><rect x="1016.4" y="2.3" width="308.5000000000001" height="449.9"/></clipPath>
<g clip-path="url(#clipC)">
<polyline points="1016.0,303.4 1017.5,303.2 1019.0,305.3 1020.5,299.4 1022.0,325.8 1023.5,303.5 1025.0,300.5 1026.5,331.1 1028.0,377.2 1029.5,299.7 1031.0,304.7 1032.5,417.0 1034.0,418.7 1035.5,308.8 1037.0,298.7 1038.5,343.4 1040.0,326.5 1041.5,290.0 1043.0,291.0 1044.5,299.4 1046.0,343.1 1047.5,292.0 1049.0,296.4 1050.5,315.5 1052.0,291.0 1053.5,294.6 1055.0,300.4 1056.5,293.0 1058.0,297.1 1059.5,300.4 1061.0,296.4 1062.5,292.4 1064.0,290.5 1065.5,286.3 1067.0,279.3 1068.5,276.1 1070.0,273.0 1071.5,268.1 1073.0,266.5 1074.5,262.5 1076.0,259.8 1077.5,256.3 1079.0,252.7 1080.5,247.7 1082.0,247.0 1083.5,244.3 1085.0,241.9 1086.5,238.8 1088.0,235.4 1089.5,230.4 1091.0,228.6 1092.5,225.9 1094.0,223.7 1095.5,220.2 1097.0,218.4 1098.5,216.4 1100.0,212.2 1101.5,212.3 1103.0,208.7 1104.5,208.3 1106.0,205.1 1107.5,203.8 1109.0,201.2 1110.5,197.5 1112.0,194.8 1113.5,192.0 1115.0,192.0 1116.5,187.9 1118.0,185.0 1119.5,183.4 1121.0,179.5 1122.5,177.7 1124.0,175.1 1125.5,175.4 1127.0,171.8 1128.5,169.5 1130.0,167.2 1131.5,165.6 1133.0,164.1 1134.5,161.7 1136.0,159.5 1137.5,157.9 1139.0,156.1 1140.5,155.0 1142.0,151.2 1143.5,152.0 1145.0,149.1 1146.5,150.1 1148.0,144.3 1149.5,143.9 1151.0,142.2 1152.5,141.6 1154.0,135.9 1155.5,135.3 1157.0,135.4 1158.5,132.4 1160.0,133.8 1161.5,130.4 1163.0,128.4 1164.5,128.6 1166.0,124.7 1167.5,122.7 1169.0,121.1 1170.5,118.8 1172.0,118.1 1173.5,116.8 1175.0,115.8 1176.5,113.3 1178.0,111.4 1179.5,110.8 1181.0,108.0 1182.5,107.5 1184.0,103.5 1185.5,104.2 1187.0,103.1 1188.5,99.6 1190.0,99.0 1191.5,96.0 1193.0,95.4 1194.5,95.1 1196.0,93.3 1197.5,91.4 1199.0,89.2 1200.5,88.0 1202.0,87.1 1203.5,85.4 1205.0,84.9 1206.5,81.9 1208.0,80.3 1209.5,80.3 1211.0,78.3 1212.5,78.4 1214.0,80.0 1215.5,75.1 1217.0,74.7 1218.5,74.3 1220.0,72.2 1221.5,72.1 1223.0,71.0 1224.5,68.9 1226.0,68.4 1227.5,68.6 1229.0,67.4 1230.5,66.0 1232.0,65.4 1233.5,63.4 1235.0,62.6 1236.5,61.1 1238.0,60.5 1239.5,59.7 1241.0,59.7 1242.5,59.1 1244.0,55.8 1245.5,55.5 1247.0,54.6 1248.5,55.0 1250.0,51.9 1251.5,51.1 1253.0,49.5 1254.5,49.3 1256.0,49.4 1257.5,47.5 1259.0,45.1 1260.5,45.4 1262.0,46.0 1263.5,43.6 1265.0,42.9 1266.5,40.8 1268.0,40.8 1269.5,38.4 1271.0,39.0 1272.5,35.4 1274.0,36.4 1275.5,34.5 1277.0,32.7 1278.5,32.2 1280.0,32.6 1281.5,30.4 1283.0,30.6 1284.5,27.0 1286.0,27.9 1287.5,24.4 1289.0,26.3 1290.5,22.7 1292.0,23.8 1293.5,22.2 1295.0,22.2 1296.5,20.6 1298.0,18.4 1299.5,18.6 1301.0,15.7 1302.5,16.3 1304.0,14.3 1305.5,11.9 1307.0,12.8 1308.5,12.4 1310.0,10.2 1311.5,11.8 1313.0,9.5 1314.5,8.4 1316.0,6.1 1317.5,7.0 1319.0,5.1 1320.5,5.6 1322.0,3.0 1323.5,3.0 1325.0,2.1 1326.5,1.8" fill="none" stroke="#0000ff" stroke-width="6.0" stroke-linejoin="round" stroke-linecap="round" />
<polyline points="1016.0,323.9 1017.5,298.0 1019.0,316.8 1020.5,306.4 1022.0,342.3 1023.5,301.0 1025.0,304.4 1026.5,301.8 1028.0,322.2 1029.5,306.4 1031.0,299.7 1032.5,315.0 1034.0,303.6 1035.5,305.2 1037.0,308.1 1038.5,305.9 1040.0,417.0 1041.5,302.2 1043.0,313.2 1044.5,298.7 1046.0,308.9 1047.5,313.4 1049.0,309.0 1050.5,304.5 1052.0,304.1 1053.5,315.4 1055.0,313.6 1056.5,302.3 1058.0,345.0 1059.5,297.7 1061.0,290.7 1062.5,303.1 1064.0,302.4 1065.5,304.5 1067.0,372.9 1068.5,315.2 1070.0,297.4 1071.5,300.3 1073.0,301.0 1074.5,304.9 1076.0,336.8 1077.5,293.9 1079.0,318.7 1080.5,293.5 1082.0,288.7 1083.5,297.5 1085.0,299.3 1086.5,302.6 1088.0,297.7 1089.5,294.1 1091.0,322.0 1092.5,305.9 1094.0,287.3 1095.5,288.6 1097.0,291.2 1098.5,286.0 1100.0,283.0 1101.5,320.7 1103.0,288.0 1104.5,384.0 1106.0,283.8 1107.5,284.3 1109.0,281.7 1110.5,283.8 1112.0,283.6 1113.5,283.6 1115.0,284.8 1116.5,283.0 1118.0,281.2 1119.5,279.4 1121.0,279.0 1122.5,279.8 1124.0,278.1 1125.5,276.6 1127.0,274.3 1128.5,276.1 1130.0,277.0 1131.5,275.4 1133.0,274.8 1134.5,272.6 1136.0,273.7 1137.5,272.4 1139.0,272.9 1140.5,269.2 1142.0,269.9 1143.5,270.8 1145.0,267.6 1146.5,264.4 1148.0,267.3 1149.5,264.4 1151.0,267.0 1152.5,262.1 1154.0,260.3 1155.5,261.1 1157.0,259.9 1158.5,260.6 1160.0,256.8 1161.5,260.2 1163.0,257.8 1164.5,257.8 1166.0,256.4 1167.5,256.8 1169.0,252.7 1170.5,254.5 1172.0,250.3 1173.5,252.8 1175.0,248.9 1176.5,249.7 1178.0,253.3 1179.5,250.1 1181.0,248.8 1182.5,247.3 1184.0,244.6 1185.5,246.0 1187.0,244.6 1188.5,242.3 1190.0,240.1 1191.5,242.4 1193.0,241.3 1194.5,238.8 1196.0,236.8 1197.5,238.5 1199.0,235.5 1200.5,233.6 1202.0,232.9 1203.5,232.3 1205.0,231.0 1206.5,230.6 1208.0,230.6 1209.5,232.1 1211.0,228.9 1212.5,227.5 1214.0,228.2 1215.5,227.6 1217.0,222.2 1218.5,224.2 1220.0,222.5 1221.5,223.6 1223.0,225.5 1224.5,222.7 1226.0,220.6 1227.5,216.9 1229.0,219.4 1230.5,218.3 1232.0,215.5 1233.5,217.3 1235.0,214.5 1236.5,215.5 1238.0,212.4 1239.5,212.1 1241.0,208.8 1242.5,207.1 1244.0,211.1 1245.5,207.4 1247.0,204.8 1248.5,203.6 1250.0,203.1 1251.5,203.7 1253.0,199.4 1254.5,201.7 1256.0,199.9 1257.5,198.7 1259.0,197.5 1260.5,196.0 1262.0,193.1 1263.5,194.1 1265.0,193.7 1266.5,193.6 1268.0,191.3 1269.5,188.3 1271.0,187.0 1272.5,189.0 1274.0,187.1 1275.5,185.7 1277.0,184.7 1278.5,183.9 1280.0,180.8 1281.5,178.9 1283.0,180.3 1284.5,180.0 1286.0,178.3 1287.5,178.9 1289.0,176.9 1290.5,175.0 1292.0,175.1 1293.5,172.0 1295.0,174.4 1296.5,171.4 1298.0,171.4 1299.5,168.7 1301.0,170.3 1302.5,165.8 1304.0,164.9 1305.5,166.9 1307.0,162.7 1308.5,163.8 1310.0,163.1 1311.5,160.7 1313.0,160.9 1314.5,156.6 1316.0,159.9 1317.5,158.3 1319.0,156.2 1320.5,158.1 1322.0,155.6 1323.5,153.4 1325.0,151.5 1326.5,152.4" fill="none" stroke="#9fe5bd" stroke-width="6.0" stroke-linejoin="round" stroke-linecap="round" />
<polyline points="1016.0,365.2 1017.5,312.2 1019.0,330.9 1020.5,322.6 1022.0,304.2 1023.5,302.6 1025.0,355.9 1026.5,429.0 1028.0,356.0 1029.5,304.8 1031.0,315.3 1032.5,304.3 1034.0,301.0 1035.5,336.9 1037.0,308.6 1038.5,357.7 1040.0,306.4 1041.5,302.7 1043.0,304.9 1044.5,311.7 1046.0,305.5 1047.5,303.3 1049.0,307.1 1050.5,303.0 1052.0,305.0 1053.5,357.5 1055.0,303.9 1056.5,307.2 1058.0,325.0 1059.5,292.3 1061.0,307.8 1062.5,296.7 1064.0,297.1 1065.5,301.9 1067.0,293.0 1068.5,305.0 1070.0,306.4 1071.5,297.1 1073.0,295.7 1074.5,291.9 1076.0,297.1 1077.5,300.8 1079.0,289.5 1080.5,302.2 1082.0,297.2 1083.5,296.8 1085.0,298.2 1086.5,294.8 1088.0,295.5 1089.5,301.5 1091.0,296.8 1092.5,289.8 1094.0,291.6 1095.5,292.6 1097.0,285.0 1098.5,285.8 1100.0,288.7 1101.5,286.2 1103.0,286.4 1104.5,286.9 1106.0,283.1 1107.5,283.2 1109.0,284.8 1110.5,282.8 1112.0,282.0 1113.5,283.0 1115.0,281.5 1116.5,279.7 1118.0,281.3 1119.5,280.0 1121.0,279.6 1122.5,276.8 1124.0,278.4 1125.5,277.0 1127.0,276.6 1128.5,275.9 1130.0,276.8 1131.5,277.3 1133.0,275.5 1134.5,273.9 1136.0,274.4 1137.5,272.4 1139.0,271.1 1140.5,271.6 1142.0,272.5 1143.5,271.7 1145.0,267.4 1146.5,268.0 1148.0,266.6 1149.5,267.4 1151.0,265.8 1152.5,262.3 1154.0,261.2 1155.5,263.2 1157.0,261.8 1158.5,260.5 1160.0,259.0 1161.5,259.5 1163.0,258.5 1164.5,258.3 1166.0,255.0 1167.5,254.5 1169.0,254.5 1170.5,253.5 1172.0,252.7 1173.5,252.0 1175.0,253.0 1176.5,248.2 1178.0,249.9 1179.5,250.0 1181.0,246.3 1182.5,247.6 1184.0,245.4 1185.5,247.1 1187.0,244.5 1188.5,243.8 1190.0,243.9 1191.5,241.7 1193.0,244.9 1194.5,241.2 1196.0,240.1 1197.5,238.6 1199.0,238.6 1200.5,236.1 1202.0,236.6 1203.5,234.8 1205.0,235.9 1206.5,235.3 1208.0,234.5 1209.5,233.8 1211.0,231.8 1212.5,232.9 1214.0,229.9 1215.5,232.1 1217.0,228.7 1218.5,229.7 1220.0,227.8 1221.5,225.5 1223.0,226.5 1224.5,225.4 1226.0,223.6 1227.5,222.5 1229.0,222.8 1230.5,222.2 1232.0,220.6 1233.5,219.1 1235.0,220.3 1236.5,216.8 1238.0,219.4 1239.5,218.7 1241.0,216.7 1242.5,214.2 1244.0,216.2 1245.5,214.9 1247.0,213.8 1248.5,212.1 1250.0,209.7 1251.5,209.4 1253.0,210.9 1254.5,212.9 1256.0,207.4 1257.5,207.9 1259.0,207.9 1260.5,201.6 1262.0,203.9 1263.5,202.9 1265.0,204.9 1266.5,202.2 1268.0,201.1 1269.5,200.2 1271.0,198.0 1272.5,198.8 1274.0,196.6 1275.5,197.0 1277.0,195.4 1278.5,195.5 1280.0,192.9 1281.5,190.8 1283.0,190.1 1284.5,188.4 1286.0,189.2 1287.5,188.9 1289.0,188.0 1290.5,188.3 1292.0,185.0 1293.5,183.8 1295.0,182.9 1296.5,183.0 1298.0,182.4 1299.5,177.9 1301.0,180.5 1302.5,179.3 1304.0,177.2 1305.5,178.6 1307.0,175.3 1308.5,174.8 1310.0,174.7 1311.5,175.1 1313.0,173.7 1314.5,173.0 1316.0,170.9 1317.5,170.8 1319.0,170.9 1320.5,170.8 1322.0,168.2 1323.5,166.0 1325.0,166.6 1326.5,164.1" fill="none" stroke="#ff0000" stroke-width="5.4" stroke-linejoin="round" stroke-linecap="round" />
<polyline points="1016.0,306.7 1017.5,355.9 1019.0,310.0 1020.5,310.7 1022.0,311.1 1023.5,317.8 1025.0,312.4 1026.5,396.0 1028.0,331.4 1029.5,306.4 1031.0,372.2 1032.5,300.4 1034.0,313.2 1035.5,307.6 1037.0,301.8 1038.5,310.0 1040.0,313.8 1041.5,393.4 1043.0,313.1 1044.5,339.8 1046.0,305.6 1047.5,307.7 1049.0,429.0 1050.5,310.3 1052.0,330.4 1053.5,301.1 1055.0,345.4 1056.5,315.3 1058.0,307.1 1059.5,331.0 1061.0,319.2 1062.5,300.7 1064.0,304.7 1065.5,301.8 1067.0,297.1 1068.5,300.3 1070.0,308.7 1071.5,300.8 1073.0,303.0 1074.5,295.8 1076.0,296.7 1077.5,298.7 1079.0,381.0 1080.5,303.8 1082.0,300.3 1083.5,315.7 1085.0,304.0 1086.5,302.2 1088.0,306.1 1089.5,320.3 1091.0,297.4 1092.5,299.0 1094.0,300.2 1095.5,305.7 1097.0,297.8 1098.5,307.2 1100.0,339.0 1101.5,304.2 1103.0,355.4 1104.5,299.4 1106.0,290.9 1107.5,284.3 1109.0,300.6 1110.5,299.8 1112.0,294.1 1113.5,294.2 1115.0,292.4 1116.5,312.7 1118.0,295.8 1119.5,291.6 1121.0,291.7 1122.5,292.3 1124.0,288.6 1125.5,293.7 1127.0,296.3 1128.5,279.5 1130.0,294.1 1131.5,286.7 1133.0,291.6 1134.5,342.3 1136.0,288.6 1137.5,287.6 1139.0,320.1 1140.5,275.2 1142.0,285.2 1143.5,280.2 1145.0,276.6 1146.5,278.5 1148.0,275.6 1149.5,280.4 1151.0,277.8 1152.5,273.1 1154.0,279.2 1155.5,277.2 1157.0,272.1 1158.5,268.4 1160.0,272.0 1161.5,269.3 1163.0,267.7 1164.5,269.4 1166.0,270.0 1167.5,283.0 1169.0,268.1 1170.5,262.5 1172.0,265.1 1173.5,264.1 1175.0,264.8 1176.5,259.8 1178.0,264.2 1179.5,264.7 1181.0,259.6 1182.5,261.9 1184.0,261.8 1185.5,258.3 1187.0,260.7 1188.5,256.2 1190.0,258.1 1191.5,260.5 1193.0,258.0 1194.5,255.4 1196.0,257.9 1197.5,251.0 1199.0,252.5 1200.5,249.9 1202.0,257.6 1203.5,251.8 1205.0,245.1 1206.5,246.9 1208.0,243.6 1209.5,249.7 1211.0,247.1 1212.5,244.7 1214.0,247.7 1215.5,242.5 1217.0,238.0 1218.5,238.1 1220.0,241.8 1221.5,246.5 1223.0,242.3 1224.5,237.3 1226.0,231.2 1227.5,235.1 1229.0,235.1 1230.5,239.2 1232.0,236.3 1233.5,231.6 1235.0,233.7 1236.5,235.9 1238.0,232.5 1239.5,228.6 1241.0,232.0 1242.5,228.5 1244.0,226.3 1245.5,229.3 1247.0,228.0 1248.5,227.8 1250.0,222.5 1251.5,224.1 1253.0,221.0 1254.5,222.6 1256.0,225.2 1257.5,220.4 1259.0,221.2 1260.5,224.4 1262.0,220.5 1263.5,223.4 1265.0,215.6 1266.5,213.7 1268.0,217.9 1269.5,214.1 1271.0,216.5 1272.5,212.5 1274.0,210.6 1275.5,209.6 1277.0,217.3 1278.5,208.6 1280.0,199.8 1281.5,207.8 1283.0,208.2 1284.5,206.1 1286.0,199.0 1287.5,204.1 1289.0,201.9 1290.5,203.7 1292.0,202.1 1293.5,195.9 1295.0,204.0 1296.5,206.0 1298.0,198.9 1299.5,199.0 1301.0,199.2 1302.5,191.8 1304.0,202.5 1305.5,201.0 1307.0,196.1 1308.5,197.1 1310.0,196.7 1311.5,192.5 1313.0,190.2 1314.5,192.3 1316.0,193.2 1317.5,192.0 1319.0,188.1 1320.5,188.4 1322.0,190.0 1323.5,187.3 1325.0,193.6 1326.5,191.7" fill="none" stroke="#1d6531" stroke-width="5.4" stroke-linejoin="round" stroke-linecap="round" />
<polyline points="1016.0,304.8 1017.4,307.9 1018.8,312.0 1020.2,310.8 1021.6,343.7 1023.0,314.1 1024.4,365.1 1025.8,319.0 1027.2,309.7 1028.6,332.7 1030.0,300.7 1031.4,360.1 1032.8,380.0 1034.2,344.8 1035.6,336.3 1037.0,311.7 1038.4,366.7 1039.8,349.9 1041.2,305.9 1042.6,310.7 1044.0,309.7 1045.4,394.0 1046.8,395.3 1048.2,313.3 1049.6,308.0 1051.0,334.3 1052.4,337.4 1053.8,397.5 1055.2,310.1 1056.6,353.3 1058.0,395.1 1059.4,330.7 1060.8,339.3 1062.2,320.1 1063.6,311.9 1065.0,301.5 1066.4,305.7 1067.8,310.7 1069.2,303.6 1070.6,332.6 1072.0,330.9 1073.4,378.7 1074.8,318.8 1076.2,304.0 1077.6,359.8 1079.0,308.2 1080.4,301.6 1081.8,358.1 1083.2,321.0 1084.6,312.1 1086.0,311.6 1087.4,345.0 1088.8,361.0 1090.2,309.7 1091.6,348.8 1093.0,314.3 1094.4,302.3 1095.8,319.7 1097.2,305.8 1098.6,360.6 1100.0,339.1 1101.4,342.7 1102.8,340.7 1104.2,308.8 1105.6,392.6 1107.0,296.9 1108.4,324.2 1109.8,314.9 1111.2,369.1 1112.6,407.1 1114.0,322.8 1115.4,361.1 1116.8,306.2 1118.2,361.8 1119.6,309.4 1121.0,295.0 1122.4,333.2 1123.8,304.4 1125.2,363.4 1126.6,352.7 1128.0,298.2 1129.4,318.3 1130.8,307.3 1132.2,331.4 1133.6,335.5 1135.0,346.2 1136.4,309.0 1137.8,335.1 1139.2,320.5 1140.6,365.9 1142.0,326.9 1143.4,337.0 1144.8,357.3 1146.2,287.1 1147.6,332.1 1149.0,360.8 1150.4,314.3 1151.8,312.9 1153.2,337.3 1154.6,348.0 1156.0,376.1 1157.4,296.4 1158.8,318.7 1160.2,289.4 1161.6,321.9 1163.0,301.6 1164.4,283.8 1165.8,286.9 1167.2,287.6 1168.6,283.4 1170.0,288.8 1171.4,388.7 1172.8,329.2 1174.2,345.0 1175.6,286.0 1177.0,284.4 1178.4,281.8 1179.8,367.5 1181.2,278.3 1182.6,305.2 1184.0,282.0 1185.4,276.3 1186.8,282.8 1188.2,280.8 1189.6,294.5 1191.0,300.6 1192.4,313.4 1193.8,280.7 1195.2,277.5 1196.6,361.8 1198.0,280.6 1199.4,345.0 1200.8,276.3 1202.2,272.6 1203.6,273.2 1205.0,276.8 1206.4,274.2 1207.8,274.3 1209.2,274.3 1210.6,274.0 1212.0,276.1 1213.4,273.0 1214.8,275.4 1216.2,274.0 1217.6,267.4 1219.0,274.4 1220.4,275.1 1221.8,273.2 1223.2,274.9 1224.6,273.7 1226.0,272.9 1227.4,270.9 1228.8,269.7 1230.2,275.0 1231.6,273.5 1233.0,272.0 1234.4,267.7 1235.8,267.3 1237.2,272.2 1238.6,267.9 1240.0,267.7 1241.4,330.4 1242.8,259.0 1244.2,260.5 1245.6,256.1 1247.0,251.7 1248.4,252.0 1249.8,248.8 1251.2,246.4 1252.6,248.2 1254.0,242.9 1255.4,244.0 1256.8,238.7 1258.2,239.1 1259.6,235.4 1261.0,238.1 1262.4,233.7 1263.8,237.3 1265.2,233.9 1266.6,230.5 1268.0,229.8 1269.4,230.1 1270.8,231.7 1272.2,228.9 1273.6,223.6 1275.0,225.3 1276.4,223.6 1277.8,221.1 1279.2,219.9 1280.6,216.5 1282.0,220.0 1283.4,213.7 1284.8,212.5 1286.2,212.3 1287.6,211.0 1289.0,210.1 1290.4,207.8 1291.8,204.1 1293.2,184.0 1294.6,204.6 1296.0,202.9 1297.4,201.9 1298.8,208.0 1300.2,198.3 1301.6,198.8 1303.0,199.6 1304.4,192.8 1305.8,197.0 1307.2,195.8 1308.6,191.9 1310.0,194.3 1311.4,190.6 1312.8,192.4 1314.2,191.5 1315.6,190.5 1317.0,191.2 1318.4,190.7 1319.8,187.5 1321.2,192.0 1322.6,185.4 1324.0,192.4 1325.4,188.1 1326.8,186.1" fill="none" stroke="#f5a56f" stroke-width="5.2" stroke-linejoin="round" stroke-linecap="round" />
</g>
<rect x="1014.00" y="-0.10" width="313.30" height="4.80" fill="#000"/>
<rect x="1014.00" y="449.80" width="313.30" height="4.80" fill="#000"/>
<rect x="1014.00" y="-0.10" width="4.80" height="454.70" fill="#000"/>
<rect x="1322.50" y="-0.10" width="4.80" height="454.70" fill="#000"/>
<rect x="1168.30" y="442.90" width="4.40" height="9.30" fill="#000"/>
<rect x="1168.30" y="2.30" width="4.40" height="7.50" fill="#000"/>
<rect x="1091.20" y="447.60" width="4.40" height="4.60" fill="#000"/>
<rect x="1091.20" y="2.30" width="4.40" height="4.60" fill="#000"/>
<rect x="1245.40" y="447.60" width="4.40" height="4.60" fill="#000"/>
<rect x="1245.40" y="2.30" width="4.40" height="4.60" fill="#000"/>
<rect x="1016.40" y="22.60" width="8.60" height="4.20" fill="#000"/>
<rect x="1316.30" y="22.60" width="8.60" height="4.20" fill="#000"/>
<rect x="1016.40" y="91.20" width="8.60" height="4.20" fill="#000"/>
<rect x="1316.30" y="91.20" width="8.60" height="4.20" fill="#000"/>
<rect x="1016.40" y="159.80" width="8.60" height="4.20" fill="#000"/>
<rect x="1316.30" y="159.80" width="8.60" height="4.20" fill="#000"/>
<rect x="1016.40" y="228.40" width="8.60" height="4.20" fill="#000"/>
<rect x="1316.30" y="228.40" width="8.60" height="4.20" fill="#000"/>
<rect x="1016.40" y="297.00" width="8.60" height="4.20" fill="#000"/>
<rect x="1316.30" y="297.00" width="8.60" height="4.20" fill="#000"/>
<rect x="1016.40" y="365.60" width="8.60" height="4.20" fill="#000"/>
<rect x="1316.30" y="365.60" width="8.60" height="4.20" fill="#000"/>
<rect x="1016.40" y="434.20" width="8.60" height="4.20" fill="#000"/>
<rect x="1316.30" y="434.20" width="8.60" height="4.20" fill="#000"/>
<text transform="translate(1006.82,488.27) scale(1.0476,1)" fill="#000" ><tspan x="0.00" y="0.00" font-size="32.96" font-weight="bold">0</tspan></text>
<text transform="translate(1140.70,488.27) scale(1.0717,1)" fill="#000" ><tspan x="18.29" y="0.00" font-size="32.96" font-weight="bold">00</tspan></text><g transform="translate(1140.70,488.27) scale(1.0717,1)" fill="#000"><path transform="translate(0.00,0.00) scale(32.958)" d="M0.38,0 L0.38,-0.716 L0.262,-0.716 Q0.215,-0.60 0.07,-0.545 L0.07,-0.418 Q0.17,-0.452 0.233,-0.505 L0.233,0 Z"/></g>
<text transform="translate(1295.79,488.27) scale(1.0515,1)" fill="#000" ><tspan x="0.00" y="0.00" font-size="32.96" font-weight="bold">200</tspan></text>
<text transform="translate(1085.42,525.00) scale(1.0232,1)" fill="#000" ><tspan x="0.00" y="0.00" font-size="35.90" font-weight="bold">Voltage (V)</tspan></text>
<text transform="translate(1042.10,47.70) scale(1.0638,1)" fill="#000" ><tspan x="0.00" y="0.00" font-size="32.83" >(c)</tspan></text>
<text transform="translate(1334.64,105.14) scale(0.9735,1)" fill="#000" ><tspan x="19.85" y="0.00" font-size="35.77" font-weight="bold">0</tspan></text><g transform="translate(1334.64,105.14) scale(0.9735,1)" fill="#000"><path transform="translate(0.00,0.00) scale(35.775)" d="M0.38,0 L0.38,-0.716 L0.262,-0.716 Q0.215,-0.60 0.07,-0.545 L0.07,-0.418 Q0.17,-0.452 0.233,-0.505 L0.233,0 Z"/></g>
<text transform="translate(1373.97,91.07) scale(1.0093,1)" fill="#000" ><tspan x="0.00" y="0.00" font-size="23.10" font-weight="bold">-6</tspan></text>
<text transform="translate(1334.84,243.33) scale(0.9474,1)" fill="#000" ><tspan x="20.40" y="0.00" font-size="36.76" font-weight="bold">0</tspan></text><g transform="translate(1334.84,243.33) scale(0.9474,1)" fill="#000"><path transform="translate(0.00,0.00) scale(36.761)" d="M0.38,0 L0.38,-0.716 L0.262,-0.716 Q0.215,-0.60 0.07,-0.545 L0.07,-0.418 Q0.17,-0.452 0.233,-0.505 L0.233,0 Z"/></g>
<text transform="translate(1374.10,229.16) scale(0.9259,1)" fill="#000" ><tspan x="0.00" y="0.00" font-size="24.37" font-weight="bold">-8</tspan></text>
<text transform="translate(1334.73,380.75) scale(1.0039,1)" fill="#000" ><tspan x="19.31" y="0.00" font-size="34.79" font-weight="bold">0</tspan></text><g transform="translate(1334.73,380.75) scale(1.0039,1)" fill="#000"><path transform="translate(0.00,0.00) scale(34.789)" d="M0.38,0 L0.38,-0.716 L0.262,-0.716 Q0.215,-0.60 0.07,-0.545 L0.07,-0.418 Q0.17,-0.452 0.233,-0.505 L0.233,0 Z"/></g>
<text transform="translate(1374.37,367.36) scale(0.9561,1)" fill="#000" ><tspan x="0.00" y="0.00" font-size="24.37" font-weight="bold">-</tspan><tspan x="21.69" y="0.00" font-size="24.37" font-weight="bold">0</tspan></text><g transform="translate(1374.37,367.36) scale(0.9561,1)" fill="#000"><path transform="translate(8.16,0.00) scale(24.366)" d="M0.38,0 L0.38,-0.716 L0.262,-0.716 Q0.215,-0.60 0.07,-0.545 L0.07,-0.418 Q0.17,-0.452 0.233,-0.505 L0.233,0 Z"/></g>
<text transform="translate(1442.00,384.00) rotate(-90) scale(0.9850,1)" fill="#000" ><tspan x="0.00" y="0.00" font-size="37.50" font-weight="bold">Reverse </tspan><tspan x="156.19" y="0.00" font-size="37.50" font-weight="bold" font-style="italic">J</tspan><tspan x="177.00" y="0.00" font-size="37.50" font-weight="bold"> (A/cm</tspan><tspan x="291.75" y="-15.37" font-size="22.12" font-weight="bold">2</tspan><tspan x="304.12" y="0.00" font-size="37.50" font-weight="bold">)</tspan></text>
<line x1="1207.20" y1="342.60" x2="1245.70" y2="342.60" stroke="#0000ff" stroke-width="5.3" stroke-linecap="round"/>
<text transform="translate(1251.81,349.20) scale(1.0089,1)" fill="#000" ><tspan x="0.00" y="0.00" font-size="17.00" font-weight="bold">Control</tspan></text>
<line x1="1207.20" y1="364.20" x2="1245.70" y2="364.20" stroke="#9fe5bd" stroke-width="5.3" stroke-linecap="round"/>
<text transform="translate(1251.89,370.80) scale(1.0189,1)" fill="#000" ><tspan x="0.00" y="0.00" font-size="17.00" font-weight="bold">200°C</tspan></text>
<line x1="1207.20" y1="386.10" x2="1245.70" y2="386.10" stroke="#ff0000" stroke-width="5.3" stroke-linecap="round"/>
<text transform="translate(1252.24,392.70) scale(1.0115,1)" fill="#000" ><tspan x="0.00" y="0.00" font-size="17.00" font-weight="bold">400°C</tspan></text>
<line x1="1207.20" y1="408.00" x2="1245.70" y2="408.00" stroke="#1d6531" stroke-width="5.3" stroke-linecap="round"/>
<text transform="translate(1251.89,414.60) scale(1.0189,1)" fill="#000" ><tspan x="0.00" y="0.00" font-size="17.00" font-weight="bold">600°C</tspan></text>
<line x1="1207.20" y1="429.90" x2="1245.70" y2="429.90" stroke="#f5a56f" stroke-width="5.3" stroke-linecap="round"/>
<text transform="translate(1251.98,436.50) scale(1.0170,1)" fill="#000" ><tspan x="0.00" y="0.00" font-size="17.00" font-weight="bold">800°C</tspan></text>
</svg></body></html>
